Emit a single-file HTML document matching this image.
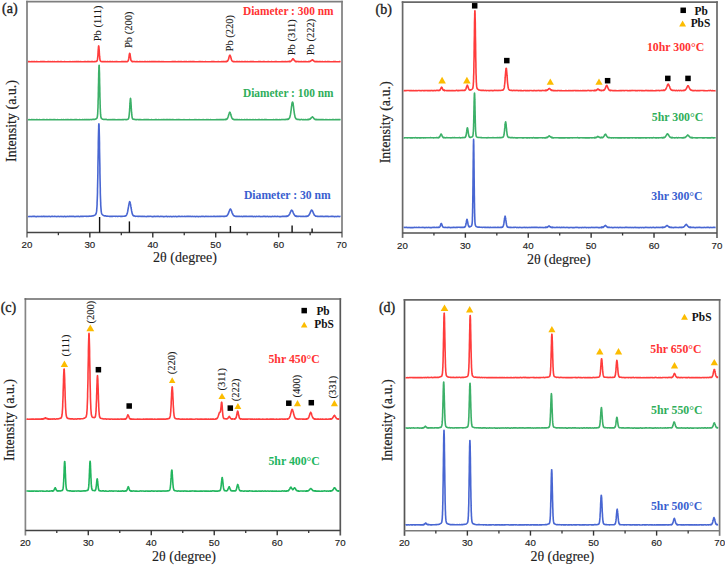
<!DOCTYPE html>
<html><head><meta charset="utf-8"><style>
html,body{margin:0;padding:0;background:#fff;}
body{width:725px;height:565px;overflow:hidden;}
svg{display:block;}
</style></head><body>
<svg width="725" height="565" viewBox="0 0 725 565">
<rect width="725" height="565" fill="#fff"/>
<line x1="27" y1="0.7500000000000001" x2="27" y2="237.6" stroke="#7e7e7e" stroke-width="1.7"/>
<line x1="342" y1="0.7500000000000001" x2="342" y2="237.6" stroke="#7e7e7e" stroke-width="1.7"/>
<line x1="26.15" y1="1.6" x2="342.85" y2="1.6" stroke="#7e7e7e" stroke-width="1.7"/>
<line x1="27" y1="232.6" x2="342" y2="232.6" stroke="#444" stroke-width="1.5"/>
<line x1="58.37" y1="232.6" x2="58.37" y2="235.2" stroke="#333" stroke-width="1.3"/>
<line x1="121.31" y1="232.6" x2="121.31" y2="235.2" stroke="#333" stroke-width="1.3"/>
<line x1="184.25" y1="232.6" x2="184.25" y2="235.2" stroke="#333" stroke-width="1.3"/>
<line x1="247.19" y1="232.6" x2="247.19" y2="235.2" stroke="#333" stroke-width="1.3"/>
<line x1="310.13" y1="232.6" x2="310.13" y2="235.2" stroke="#333" stroke-width="1.3"/>
<line x1="89.84" y1="232.6" x2="89.84" y2="237.4" stroke="#333" stroke-width="1.4"/>
<line x1="152.78" y1="232.6" x2="152.78" y2="237.4" stroke="#333" stroke-width="1.4"/>
<line x1="215.72" y1="232.6" x2="215.72" y2="237.4" stroke="#333" stroke-width="1.4"/>
<line x1="278.66" y1="232.6" x2="278.66" y2="237.4" stroke="#333" stroke-width="1.4"/>
<text x="26.90" y="248.2" font-family="Liberation Sans" font-size="9.7" fill="#222" stroke="#222" stroke-width="0.15" text-anchor="middle">20</text>
<text x="89.84" y="248.2" font-family="Liberation Sans" font-size="9.7" fill="#222" stroke="#222" stroke-width="0.15" text-anchor="middle">30</text>
<text x="152.78" y="248.2" font-family="Liberation Sans" font-size="9.7" fill="#222" stroke="#222" stroke-width="0.15" text-anchor="middle">40</text>
<text x="215.72" y="248.2" font-family="Liberation Sans" font-size="9.7" fill="#222" stroke="#222" stroke-width="0.15" text-anchor="middle">50</text>
<text x="278.66" y="248.2" font-family="Liberation Sans" font-size="9.7" fill="#222" stroke="#222" stroke-width="0.15" text-anchor="middle">60</text>
<text x="341.60" y="248.2" font-family="Liberation Sans" font-size="9.7" fill="#222" stroke="#222" stroke-width="0.15" text-anchor="middle">70</text>
<polyline fill="none" stroke="#ff3c3c" stroke-width="1.6" stroke-linejoin="round" points="28.0,61.6 28.6,61.6 29.2,61.7 29.8,61.6 30.4,61.7 31.0,61.7 31.6,61.6 32.2,61.7 32.8,61.6 33.4,61.7 34.0,61.6 34.6,61.6 35.2,61.7 35.8,61.8 36.4,61.6 37.0,61.6 37.6,61.7 38.2,61.8 38.8,61.7 39.4,61.7 40.0,61.8 40.6,61.6 41.2,61.8 41.8,61.6 42.4,61.6 43.0,61.6 43.6,61.6 44.2,61.8 44.8,61.6 45.4,61.7 46.0,61.7 46.6,61.7 47.2,61.7 47.8,61.6 48.4,61.6 49.0,61.6 49.6,61.8 50.2,61.7 50.8,61.6 51.4,61.7 52.0,61.7 52.6,61.6 53.2,61.8 53.8,61.8 54.4,61.6 55.0,61.7 55.6,61.7 56.2,61.8 56.8,61.8 57.4,61.6 58.0,61.8 58.6,61.6 59.2,61.7 59.8,61.8 60.4,61.6 61.0,61.7 61.6,61.6 62.2,61.7 62.8,61.8 63.4,61.7 64.0,61.8 64.6,61.6 65.2,61.8 65.8,61.7 66.4,61.7 67.0,61.7 67.6,61.8 68.2,61.8 68.8,61.7 69.4,61.7 70.0,61.6 70.6,61.8 71.2,61.7 71.8,61.8 72.4,61.8 73.0,61.6 73.6,61.7 74.2,61.7 74.8,61.6 75.4,61.7 76.0,61.6 76.6,61.6 77.2,61.6 77.8,61.8 78.4,61.6 79.0,61.6 79.6,61.7 80.2,61.8 80.8,61.6 81.4,61.7 82.0,61.7 82.6,61.8 83.2,61.8 83.8,61.8 84.4,61.6 85.0,61.7 85.6,61.6 86.2,61.8 86.8,61.8 87.4,61.6 88.0,61.6 88.6,61.6 89.2,61.6 89.8,61.7 90.4,61.7 91.0,61.6 91.6,61.5 92.2,61.6 92.8,61.6 93.4,61.7 94.0,61.7 94.6,61.6 95.2,61.6 95.8,61.5 96.4,61.4 96.5,61.2 96.5,61.4 96.6,61.4 96.6,61.4 96.7,61.3 96.7,61.2 96.8,61.1 96.8,61.0 96.9,61.1 97.0,60.9 97.0,60.8 97.0,60.8 97.1,60.7 97.1,60.6 97.2,60.4 97.2,60.2 97.3,60.1 97.4,59.8 97.4,59.6 97.5,59.2 97.5,59.1 97.6,58.6 97.6,58.3 97.6,58.0 97.7,57.6 97.8,57.0 97.8,56.4 97.9,55.9 97.9,55.1 98.0,54.3 98.0,53.4 98.1,52.5 98.1,51.6 98.2,50.8 98.2,50.0 98.3,49.3 98.4,48.4 98.4,47.6 98.5,47.3 98.5,46.7 98.6,46.2 98.6,46.1 98.7,45.9 98.8,46.1 98.8,46.4 98.8,46.4 98.9,46.7 98.9,47.1 99.0,47.7 99.0,48.4 99.1,49.3 99.2,50.1 99.2,50.9 99.3,51.7 99.3,52.6 99.4,53.5 99.4,54.0 99.4,54.4 99.5,55.1 99.5,55.8 99.6,56.5 99.7,57.0 99.7,57.6 99.8,58.1 99.8,58.5 99.9,58.9 99.9,59.3 100.0,59.6 100.0,59.8 100.0,60.1 100.1,60.2 100.2,60.5 100.2,60.7 100.3,60.8 100.3,60.8 100.4,60.8 100.4,60.9 100.5,61.0 100.5,61.0 100.6,61.2 100.7,61.3 100.7,61.3 100.8,61.3 100.8,61.3 100.9,61.4 100.9,61.2 101.2,61.5 101.8,61.6 102.4,61.6 103.0,61.7 103.6,61.6 104.2,61.5 104.8,61.7 105.4,61.6 106.0,61.8 106.6,61.8 107.2,61.6 107.8,61.6 108.4,61.8 109.0,61.7 109.6,61.6 110.2,61.6 110.8,61.6 111.4,61.8 112.0,61.8 112.6,61.6 113.2,61.8 113.8,61.8 114.4,61.7 115.0,61.6 115.6,61.7 116.2,61.6 116.8,61.5 117.4,61.8 118.0,61.7 118.6,61.7 119.2,61.8 119.8,61.7 120.4,61.8 121.0,61.8 121.6,61.6 122.2,61.6 122.8,61.6 123.4,61.6 124.0,61.7 124.6,61.6 125.2,61.6 125.8,61.5 126.4,61.7 127.0,61.5 127.1,61.5 127.2,61.5 127.3,61.6 127.3,61.4 127.4,61.6 127.5,61.4 127.5,61.4 127.6,61.4 127.6,61.2 127.7,61.3 127.7,61.2 127.8,61.1 127.8,61.3 127.9,61.1 128.0,61.1 128.0,61.1 128.1,60.9 128.2,60.7 128.2,60.7 128.2,60.6 128.3,60.5 128.4,60.1 128.4,60.1 128.5,59.7 128.6,59.4 128.6,59.3 128.7,58.9 128.7,58.5 128.8,58.2 128.9,57.8 128.9,57.3 129.0,56.8 129.1,56.4 129.1,55.9 129.2,55.5 129.2,55.0 129.3,54.6 129.4,54.2 129.4,54.3 129.4,54.0 129.5,53.8 129.6,53.6 129.6,53.3 129.7,53.3 129.8,53.5 129.8,53.6 129.9,53.5 130.0,53.8 130.0,54.1 130.0,54.1 130.1,54.5 130.2,54.9 130.2,55.5 130.3,56.0 130.3,56.5 130.4,56.7 130.5,57.4 130.5,57.7 130.6,58.0 130.7,58.6 130.7,59.0 130.8,59.1 130.8,59.6 130.9,59.8 131.0,60.0 131.0,60.4 131.1,60.6 131.2,60.5 131.2,60.7 131.2,60.8 131.3,60.8 131.4,60.9 131.4,61.0 131.5,61.2 131.6,61.1 131.6,61.3 131.7,61.3 131.8,61.2 131.8,61.3 131.8,61.4 131.9,61.4 131.9,61.3 132.0,61.6 132.1,61.6 132.1,61.6 132.2,61.4 132.3,61.4 132.4,61.4 133.0,61.7 133.6,61.5 134.2,61.5 134.8,61.6 135.4,61.8 136.0,61.8 136.6,61.6 137.2,61.6 137.8,61.8 138.4,61.7 139.0,61.7 139.6,61.6 140.2,61.6 140.8,61.7 141.4,61.7 142.0,61.6 142.6,61.8 143.2,61.7 143.8,61.8 144.4,61.6 145.0,61.8 145.6,61.6 146.2,61.8 146.8,61.7 147.4,61.6 148.0,61.7 148.6,61.8 149.2,61.6 149.8,61.6 150.4,61.7 151.0,61.6 151.6,61.6 152.2,61.6 152.8,61.6 153.4,61.6 154.0,61.6 154.6,61.6 155.2,61.8 155.8,61.6 156.4,61.7 157.0,61.6 157.6,61.7 158.2,61.6 158.8,61.6 159.4,61.6 160.0,61.8 160.6,61.7 161.2,61.6 161.8,61.7 162.4,61.8 163.0,61.6 163.6,61.8 164.2,61.7 164.8,61.7 165.4,61.8 166.0,61.7 166.6,61.7 167.2,61.8 167.8,61.8 168.4,61.7 169.0,61.8 169.6,61.8 170.2,61.7 170.8,61.7 171.4,61.7 172.0,61.6 172.6,61.6 173.2,61.6 173.8,61.8 174.4,61.6 175.0,61.6 175.6,61.6 176.2,61.8 176.8,61.8 177.4,61.7 178.0,61.6 178.6,61.6 179.2,61.6 179.8,61.7 180.4,61.6 181.0,61.7 181.6,61.6 182.2,61.8 182.8,61.8 183.4,61.7 184.0,61.6 184.6,61.8 185.2,61.6 185.8,61.7 186.4,61.5 187.0,61.7 187.6,61.7 188.2,61.7 188.8,61.6 189.4,61.7 190.0,61.5 190.6,61.6 191.2,61.6 191.8,61.7 192.4,61.6 193.0,61.6 193.6,61.6 194.2,61.6 194.8,61.7 195.4,61.7 196.0,61.8 196.6,61.7 197.2,61.8 197.8,61.8 198.4,61.7 199.0,61.6 199.6,61.8 200.2,61.6 200.8,61.8 201.4,61.7 202.0,61.6 202.6,61.8 203.2,61.8 203.8,61.7 204.4,61.8 205.0,61.8 205.6,61.6 206.2,61.7 206.8,61.7 207.4,61.8 208.0,61.8 208.6,61.8 209.2,61.7 209.8,61.8 210.4,61.7 211.0,61.8 211.6,61.6 212.2,61.6 212.8,61.6 213.4,61.6 214.0,61.6 214.6,61.8 215.2,61.7 215.8,61.7 216.4,61.7 217.0,61.7 217.6,61.7 218.2,61.5 218.8,61.8 219.4,61.8 220.0,61.7 220.6,61.7 221.2,61.7 221.8,61.5 222.4,61.7 223.0,61.6 223.6,61.5 224.2,61.6 224.8,61.7 225.4,61.5 226.0,61.6 226.1,61.7 226.2,61.5 226.2,61.5 226.3,61.5 226.4,61.6 226.5,61.6 226.6,61.5 226.6,61.5 226.7,61.3 226.8,61.3 226.9,61.3 227.0,61.4 227.1,61.3 227.2,61.3 227.2,61.1 227.3,61.1 227.4,61.1 227.5,61.1 227.6,61.0 227.7,60.9 227.8,60.7 227.8,60.7 227.9,60.6 228.0,60.4 228.1,60.1 228.2,60.1 228.3,59.7 228.4,59.7 228.4,59.5 228.5,59.1 228.6,58.9 228.7,58.7 228.8,58.4 228.8,57.9 228.9,57.5 229.0,57.3 229.0,57.3 229.1,56.8 229.2,56.6 229.3,56.1 229.4,55.9 229.5,55.8 229.6,55.4 229.6,55.6 229.7,55.3 229.8,55.4 229.9,55.3 230.0,55.2 230.1,55.4 230.2,55.5 230.2,55.4 230.3,55.5 230.4,55.9 230.5,56.2 230.6,56.5 230.7,56.8 230.8,57.2 230.8,57.3 230.9,57.7 231.0,57.8 231.1,58.3 231.2,58.7 231.2,58.8 231.3,59.4 231.4,59.5 231.4,59.6 231.5,59.7 231.6,60.0 231.7,60.2 231.8,60.6 231.9,60.6 232.0,60.7 232.0,60.7 232.1,60.8 232.2,60.8 232.3,61.0 232.4,61.3 232.5,61.2 232.6,61.4 232.6,61.2 232.7,61.3 232.8,61.4 232.9,61.3 233.0,61.4 233.1,61.6 233.2,61.6 233.2,61.6 233.3,61.5 233.4,61.6 233.4,61.7 233.6,61.5 233.6,61.6 233.7,61.4 233.8,61.6 234.4,61.6 235.0,61.7 235.6,61.7 236.2,61.6 236.8,61.5 237.4,61.8 238.0,61.6 238.6,61.7 239.2,61.6 239.8,61.6 240.4,61.7 241.0,61.8 241.6,61.6 242.2,61.7 242.8,61.6 243.4,61.7 244.0,61.7 244.6,61.6 245.2,61.6 245.8,61.6 246.4,61.8 247.0,61.7 247.6,61.6 248.2,61.8 248.8,61.8 249.4,61.7 250.0,61.6 250.6,61.6 251.2,61.6 251.8,61.6 252.4,61.6 253.0,61.6 253.6,61.6 254.2,61.7 254.8,61.8 255.4,61.8 256.0,61.7 256.6,61.7 257.2,61.7 257.8,61.7 258.4,61.6 259.0,61.6 259.6,61.6 260.2,61.8 260.8,61.6 261.4,61.7 262.0,61.7 262.6,61.8 263.2,61.6 263.8,61.6 264.4,61.6 265.0,61.7 265.6,61.7 266.2,61.8 266.8,61.8 267.4,61.8 268.0,61.6 268.6,61.6 269.2,61.8 269.8,61.8 270.4,61.7 271.0,61.7 271.6,61.5 272.2,61.7 272.8,61.8 273.4,61.8 274.0,61.8 274.6,61.8 275.2,61.6 275.8,61.6 276.4,61.6 277.0,61.7 277.6,61.7 278.2,61.8 278.8,61.8 279.4,61.7 280.0,61.8 280.6,61.7 281.2,61.7 281.8,61.6 282.4,61.8 283.0,61.6 283.6,61.8 284.2,61.7 284.8,61.6 285.4,61.6 286.0,61.6 286.6,61.7 287.2,61.7 287.8,61.5 288.4,61.5 288.8,61.6 288.9,61.7 289.0,61.6 289.1,61.5 289.1,61.7 289.3,61.5 289.4,61.5 289.5,61.6 289.6,61.7 289.6,61.6 289.7,61.7 289.8,61.6 289.9,61.5 290.0,61.5 290.1,61.7 290.2,61.6 290.2,61.4 290.3,61.3 290.4,61.4 290.5,61.4 290.6,61.3 290.7,61.2 290.8,61.3 290.8,61.3 290.9,61.1 291.0,60.9 291.1,60.9 291.2,60.8 291.3,60.8 291.4,60.6 291.4,60.7 291.5,60.6 291.6,60.4 291.8,60.1 291.9,60.2 292.0,59.9 292.0,60.0 292.1,59.7 292.2,59.5 292.3,59.6 292.4,59.3 292.5,59.3 292.6,59.1 292.6,59.0 292.7,58.9 292.8,58.9 292.9,59.0 293.0,59.0 293.1,58.8 293.2,58.9 293.2,58.9 293.3,59.2 293.4,59.0 293.5,59.1 293.6,59.2 293.7,59.4 293.8,59.7 293.8,59.7 293.9,59.8 294.0,60.1 294.1,60.2 294.2,60.2 294.4,60.3 294.4,60.6 294.5,60.6 294.6,60.5 294.7,60.8 294.8,60.8 294.9,60.9 295.0,61.0 295.0,61.0 295.1,61.0 295.2,61.1 295.3,61.2 295.4,61.5 295.5,61.3 295.6,61.6 295.7,61.4 295.8,61.4 295.9,61.6 296.0,61.6 296.1,61.5 296.2,61.4 296.2,61.6 296.3,61.5 296.4,61.7 296.5,61.5 296.6,61.6 296.7,61.7 296.8,61.5 296.9,61.6 296.9,61.7 297.1,61.7 297.2,61.5 297.4,61.5 298.0,61.5 298.6,61.8 299.2,61.6 299.8,61.7 300.4,61.8 301.0,61.6 301.6,61.6 302.2,61.8 302.8,61.7 303.4,61.6 304.0,61.7 304.6,61.6 305.2,61.6 305.8,61.5 306.4,61.7 307.0,61.8 307.6,61.7 308.1,61.8 308.2,61.5 308.2,61.6 308.4,61.6 308.4,61.8 308.6,61.8 308.7,61.6 308.8,61.6 308.8,61.6 308.9,61.6 309.0,61.7 309.1,61.5 309.2,61.7 309.3,61.7 309.4,61.7 309.4,61.7 309.5,61.6 309.6,61.5 309.7,61.5 309.8,61.5 309.9,61.5 310.0,61.3 310.0,61.3 310.1,61.5 310.2,61.3 310.3,61.2 310.4,61.1 310.5,61.2 310.6,61.1 310.6,61.2 310.7,61.1 310.8,61.1 310.9,60.8 311.1,60.6 311.2,60.5 311.2,60.6 311.3,60.6 311.4,60.4 311.5,60.3 311.6,60.2 311.7,60.2 311.8,60.2 311.8,60.2 311.9,60.1 312.0,60.0 312.1,59.8 312.2,60.0 312.3,59.8 312.4,59.9 312.5,59.9 312.6,60.0 312.7,59.9 312.8,60.0 312.9,60.1 313.0,60.1 313.0,60.4 313.1,60.4 313.2,60.4 313.3,60.5 313.4,60.8 313.6,60.8 313.6,60.7 313.6,60.9 313.8,61.0 313.9,61.2 314.0,61.0 314.1,61.2 314.2,61.3 314.2,61.3 314.3,61.4 314.4,61.2 314.5,61.3 314.6,61.3 314.7,61.4 314.8,61.6 314.9,61.5 315.0,61.7 315.1,61.5 315.2,61.7 315.3,61.6 315.4,61.5 315.4,61.7 315.5,61.7 315.6,61.5 315.7,61.7 315.8,61.7 315.9,61.6 316.0,61.6 316.0,61.5 316.1,61.6 316.2,61.6 316.4,61.7 316.5,61.7 316.6,61.6 317.2,61.5 317.8,61.6 318.4,61.7 319.0,61.6 319.6,61.6 320.2,61.6 320.8,61.8 321.4,61.7 322.0,61.6 322.6,61.6 323.2,61.7 323.8,61.7 324.4,61.7 325.0,61.6 325.6,61.6 326.2,61.8 326.8,61.7 327.4,61.6 328.0,61.6 328.6,61.8 329.2,61.6 329.8,61.7 330.4,61.7 331.0,61.7 331.6,61.8 332.2,61.8 332.8,61.7 333.4,61.6 334.0,61.8 334.6,61.6 335.2,61.5 335.8,61.8 336.4,61.7 337.0,61.8 337.6,61.7 338.2,61.8 338.8,61.7 339.4,61.6 340.0,61.6 340.6,61.7"/>
<polyline fill="none" stroke="#3cb068" stroke-width="1.6" stroke-linejoin="round" points="28.0,119.7 28.6,119.8 29.2,119.6 29.8,119.7 30.4,119.7 31.0,119.7 31.6,119.6 32.2,119.6 32.8,119.7 33.4,119.8 34.0,119.6 34.6,119.7 35.2,119.8 35.8,119.8 36.4,119.6 37.0,119.6 37.6,119.8 38.2,119.8 38.8,119.7 39.4,119.6 40.0,119.8 40.6,119.7 41.2,119.8 41.8,119.7 42.4,119.8 43.0,119.6 43.6,119.8 44.2,119.6 44.8,119.7 45.4,119.8 46.0,119.8 46.6,119.6 47.2,119.6 47.8,119.7 48.4,119.7 49.0,119.7 49.6,119.6 50.2,119.6 50.8,119.8 51.4,119.8 52.0,119.6 52.6,119.7 53.2,119.8 53.8,119.6 54.4,119.8 55.0,119.6 55.6,119.7 56.2,119.7 56.8,119.7 57.4,119.6 58.0,119.7 58.6,119.7 59.2,119.7 59.8,119.7 60.4,119.7 61.0,119.7 61.6,119.6 62.2,119.7 62.8,119.7 63.4,119.6 64.0,119.8 64.6,119.8 65.2,119.7 65.8,119.6 66.4,119.7 67.0,119.6 67.6,119.6 68.2,119.7 68.8,119.6 69.4,119.7 70.0,119.7 70.6,119.6 71.2,119.7 71.8,119.6 72.4,119.8 73.0,119.8 73.6,119.7 74.2,119.6 74.8,119.7 75.4,119.6 76.0,119.8 76.6,119.6 77.2,119.8 77.8,119.8 78.4,119.7 79.0,119.8 79.6,119.6 80.2,119.8 80.8,119.7 81.4,119.8 82.0,119.8 82.6,119.6 83.2,119.8 83.8,119.8 84.4,119.5 85.0,119.6 85.6,119.7 86.2,119.5 86.8,119.8 87.4,119.6 88.0,119.7 88.6,119.5 89.2,119.6 89.8,119.7 90.4,119.5 91.0,119.5 91.6,119.6 92.2,119.5 92.8,119.4 93.4,119.4 94.0,119.3 94.6,119.5 95.2,119.3 95.8,119.1 96.4,118.6 96.7,118.5 96.8,118.3 96.8,118.3 96.9,118.2 96.9,118.1 97.0,118.1 97.1,117.9 97.1,117.7 97.2,117.6 97.2,117.1 97.3,117.1 97.4,116.6 97.4,116.1 97.5,115.8 97.5,115.0 97.6,114.6 97.7,113.6 97.7,112.6 97.8,111.7 97.8,110.4 97.9,108.9 98.0,107.4 98.0,105.4 98.1,103.7 98.1,101.4 98.2,99.1 98.3,96.7 98.3,93.9 98.4,91.1 98.4,88.1 98.5,85.1 98.6,82.1 98.6,79.2 98.7,76.5 98.7,73.8 98.8,71.5 98.9,69.5 98.9,67.5 99.0,66.3 99.0,65.6 99.1,65.2 99.2,65.4 99.2,66.3 99.3,67.5 99.3,69.3 99.4,71.4 99.5,73.9 99.5,76.5 99.6,79.2 99.6,82.3 99.7,85.2 99.8,88.1 99.8,91.2 99.9,93.8 99.9,96.5 100.0,99.0 100.1,101.5 100.1,103.7 100.2,105.7 100.2,107.3 100.3,108.9 100.4,110.2 100.4,111.7 100.5,112.7 100.5,113.6 100.6,114.5 100.7,115.1 100.7,115.8 100.8,116.2 100.8,116.5 100.9,117.1 101.0,117.1 101.0,117.5 101.1,117.6 101.1,117.8 101.2,117.8 101.3,118.2 101.3,118.1 101.4,118.3 101.4,118.5 101.5,118.3 101.8,118.6 102.4,119.1 103.0,119.2 103.6,119.4 104.2,119.5 104.8,119.4 105.4,119.4 106.0,119.5 106.6,119.4 107.2,119.7 107.8,119.7 108.4,119.7 109.0,119.5 109.6,119.7 110.2,119.7 110.8,119.6 111.4,119.7 112.0,119.6 112.6,119.6 113.2,119.5 113.8,119.6 114.4,119.5 115.0,119.6 115.6,119.7 116.2,119.7 116.8,119.8 117.4,119.7 118.0,119.6 118.6,119.7 119.2,119.6 119.8,119.7 120.4,119.7 121.0,119.6 121.6,119.7 122.2,119.8 122.8,119.5 123.4,119.7 124.0,119.5 124.6,119.5 125.2,119.5 125.8,119.6 126.4,119.6 127.0,119.5 127.6,119.2 127.8,119.3 127.8,119.1 127.9,119.1 128.0,119.2 128.1,119.1 128.1,119.1 128.2,119.0 128.2,119.1 128.3,118.9 128.3,118.9 128.4,118.8 128.5,118.7 128.5,118.5 128.6,118.4 128.7,118.2 128.7,117.9 128.8,117.6 128.9,117.4 128.9,116.8 129.0,116.7 129.1,116.0 129.1,115.4 129.2,114.7 129.3,114.3 129.3,113.4 129.4,112.6 129.4,112.5 129.5,111.5 129.6,110.7 129.6,109.6 129.7,108.7 129.8,107.5 129.8,106.1 129.9,105.1 130.0,103.9 130.0,103.3 130.0,103.0 130.1,102.0 130.2,100.8 130.2,100.2 130.3,99.5 130.4,99.1 130.4,98.5 130.5,98.4 130.6,98.5 130.6,98.6 130.6,99.0 130.7,99.5 130.8,100.1 130.8,101.0 130.9,101.9 131.0,102.9 131.0,103.8 131.1,104.9 131.2,106.3 131.2,106.5 131.2,107.4 131.3,108.6 131.4,109.4 131.4,110.6 131.5,111.6 131.6,112.7 131.7,113.4 131.7,114.1 131.8,115.0 131.8,115.0 131.9,115.6 131.9,116.1 132.0,116.4 132.1,116.9 132.1,117.3 132.2,117.7 132.3,117.9 132.3,118.2 132.4,118.3 132.5,118.4 132.5,118.7 132.6,118.6 132.7,118.9 132.7,118.8 132.8,118.8 132.9,118.9 132.9,119.2 133.0,119.2 133.0,119.0 133.1,119.1 133.2,119.2 133.2,119.3 133.6,119.2 134.2,119.4 134.8,119.4 135.4,119.6 136.0,119.5 136.6,119.7 137.2,119.5 137.8,119.5 138.4,119.7 139.0,119.6 139.6,119.5 140.2,119.7 140.8,119.5 141.4,119.7 142.0,119.7 142.6,119.8 143.2,119.7 143.8,119.6 144.4,119.6 145.0,119.6 145.6,119.8 146.2,119.6 146.8,119.8 147.4,119.5 148.0,119.6 148.6,119.6 149.2,119.8 149.8,119.7 150.4,119.7 151.0,119.8 151.6,119.6 152.2,119.7 152.8,119.7 153.4,119.8 154.0,119.8 154.6,119.7 155.2,119.6 155.8,119.6 156.4,119.6 157.0,119.8 157.6,119.7 158.2,119.8 158.8,119.6 159.4,119.7 160.0,119.8 160.6,119.7 161.2,119.6 161.8,119.7 162.4,119.8 163.0,119.6 163.6,119.6 164.2,119.6 164.8,119.8 165.4,119.8 166.0,119.6 166.6,119.6 167.2,119.6 167.8,119.6 168.4,119.7 169.0,119.6 169.6,119.6 170.2,119.6 170.8,119.8 171.4,119.8 172.0,119.6 172.6,119.8 173.2,119.6 173.8,119.7 174.4,119.8 175.0,119.8 175.6,119.8 176.2,119.7 176.8,119.6 177.4,119.7 178.0,119.6 178.6,119.6 179.2,119.7 179.8,119.6 180.4,119.7 181.0,119.8 181.6,119.8 182.2,119.7 182.8,119.7 183.4,119.7 184.0,119.6 184.6,119.7 185.2,119.7 185.8,119.8 186.4,119.8 187.0,119.7 187.6,119.7 188.2,119.8 188.8,119.7 189.4,119.6 190.0,119.8 190.6,119.8 191.2,119.8 191.8,119.8 192.4,119.8 193.0,119.7 193.6,119.7 194.2,119.7 194.8,119.6 195.4,119.7 196.0,119.6 196.6,119.7 197.2,119.8 197.8,119.8 198.4,119.7 199.0,119.6 199.6,119.7 200.2,119.7 200.8,119.7 201.4,119.7 202.0,119.7 202.6,119.8 203.2,119.6 203.8,119.7 204.4,119.8 205.0,119.7 205.6,119.7 206.2,119.8 206.8,119.6 207.4,119.7 208.0,119.6 208.6,119.8 209.2,119.8 209.8,119.7 210.4,119.6 211.0,119.7 211.6,119.7 212.2,119.8 212.8,119.7 213.4,119.7 214.0,119.8 214.6,119.7 215.2,119.7 215.8,119.8 216.4,119.6 217.0,119.7 217.6,119.6 218.2,119.7 218.8,119.6 219.4,119.8 220.0,119.6 220.6,119.5 221.2,119.6 221.8,119.6 222.4,119.5 223.0,119.6 223.6,119.6 224.2,119.6 224.8,119.5 225.3,119.5 225.4,119.4 225.4,119.6 225.5,119.6 225.7,119.5 225.8,119.4 225.9,119.6 226.0,119.4 226.0,119.4 226.1,119.3 226.2,119.5 226.3,119.5 226.4,119.4 226.6,119.3 226.6,119.3 226.7,119.1 226.8,119.3 226.9,119.0 227.0,119.0 227.1,119.0 227.2,118.9 227.2,118.7 227.3,118.5 227.4,118.4 227.6,118.1 227.7,118.1 227.8,117.7 227.8,117.8 227.9,117.4 228.0,117.2 228.1,116.8 228.2,116.5 228.3,116.1 228.4,115.8 228.5,115.9 228.6,115.3 228.7,114.9 228.8,114.6 228.9,114.2 229.0,113.9 229.0,113.9 229.1,113.5 229.2,113.1 229.3,113.0 229.5,112.7 229.6,112.3 229.6,112.5 229.7,112.5 229.8,112.4 229.9,112.2 230.0,112.5 230.1,112.7 230.2,112.6 230.2,112.7 230.4,113.3 230.5,113.5 230.6,113.7 230.7,114.1 230.8,114.5 230.8,114.5 230.9,115.1 231.0,115.4 231.1,115.7 231.3,116.3 231.4,116.6 231.4,116.5 231.5,117.0 231.6,117.2 231.7,117.6 231.8,117.8 231.9,118.1 232.0,118.2 232.0,118.3 232.2,118.3 232.3,118.6 232.4,118.8 232.5,118.9 232.6,119.0 232.7,119.2 232.8,119.2 232.9,119.1 233.1,119.2 233.2,119.2 233.2,119.3 233.3,119.2 233.4,119.4 233.5,119.3 233.6,119.4 233.7,119.5 233.8,119.5 233.8,119.6 233.9,119.3 234.1,119.6 234.2,119.5 234.3,119.5 234.4,119.6 235.0,119.7 235.6,119.6 236.2,119.6 236.8,119.8 237.4,119.5 238.0,119.7 238.6,119.7 239.2,119.5 239.8,119.7 240.4,119.7 241.0,119.8 241.6,119.6 242.2,119.8 242.8,119.7 243.4,119.7 244.0,119.8 244.6,119.5 245.2,119.7 245.8,119.7 246.4,119.6 247.0,119.8 247.6,119.6 248.2,119.7 248.8,119.7 249.4,119.8 250.0,119.6 250.6,119.7 251.2,119.7 251.8,119.7 252.4,119.8 253.0,119.6 253.6,119.8 254.2,119.7 254.8,119.7 255.4,119.6 256.0,119.7 256.6,119.8 257.2,119.7 257.8,119.8 258.4,119.6 259.0,119.6 259.6,119.6 260.2,119.7 260.8,119.7 261.4,119.8 262.0,119.5 262.6,119.8 263.2,119.8 263.8,119.7 264.4,119.5 265.0,119.6 265.6,119.5 266.2,119.6 266.8,119.8 267.4,119.7 268.0,119.7 268.6,119.8 269.2,119.8 269.8,119.7 270.4,119.7 271.0,119.7 271.6,119.7 272.2,119.7 272.8,119.7 273.4,119.6 274.0,119.7 274.6,119.7 275.2,119.7 275.8,119.5 276.4,119.6 277.0,119.5 277.6,119.7 278.2,119.8 278.8,119.7 279.4,119.6 280.0,119.7 280.6,119.7 281.2,119.6 281.8,119.5 282.4,119.5 283.0,119.6 283.6,119.5 284.2,119.5 284.8,119.6 285.4,119.6 286.0,119.3 286.6,119.4 287.2,119.2 287.7,119.2 287.8,119.4 287.8,119.3 287.9,119.4 288.1,119.2 288.2,119.0 288.3,119.1 288.4,119.1 288.4,119.2 288.5,119.2 288.7,119.0 288.8,118.9 288.9,118.7 289.0,118.7 289.0,118.6 289.1,118.4 289.3,118.2 289.4,118.1 289.5,118.0 289.6,117.7 289.6,117.9 289.7,117.3 289.9,117.2 290.0,116.5 290.1,116.1 290.2,115.8 290.2,115.6 290.3,115.2 290.5,114.4 290.6,113.6 290.7,113.1 290.8,112.4 290.8,112.3 290.9,111.4 291.1,110.3 291.2,109.5 291.3,108.5 291.4,107.7 291.4,107.6 291.5,106.5 291.7,105.8 291.8,104.8 291.9,103.9 292.0,103.3 292.0,103.4 292.1,102.9 292.3,102.2 292.4,102.0 292.5,102.1 292.6,102.0 292.6,102.2 292.7,102.3 292.9,102.6 293.0,103.3 293.1,104.0 293.2,104.6 293.2,104.8 293.3,105.5 293.5,106.7 293.6,107.5 293.7,108.5 293.8,109.3 293.8,109.4 293.9,110.3 294.1,111.4 294.2,112.3 294.3,113.1 294.4,113.6 294.4,113.7 294.5,114.3 294.7,115.2 294.8,115.7 294.9,116.3 295.0,116.5 295.0,116.7 295.1,117.2 295.3,117.5 295.4,117.7 295.5,117.9 295.6,118.1 295.6,118.3 295.7,118.4 295.9,118.6 296.0,118.7 296.1,118.9 296.2,119.0 296.2,118.8 296.3,118.8 296.5,119.0 296.6,119.1 296.7,119.2 296.8,119.3 296.8,119.3 296.9,119.1 297.1,119.3 297.2,119.4 297.3,119.4 297.4,119.3 298.0,119.3 298.6,119.5 299.2,119.6 299.8,119.6 300.4,119.7 301.0,119.5 301.6,119.4 302.2,119.6 302.8,119.7 303.4,119.5 304.0,119.7 304.6,119.7 305.2,119.5 305.8,119.6 306.4,119.7 307.0,119.6 307.5,119.5 307.6,119.5 307.6,119.7 307.7,119.7 307.9,119.6 308.0,119.5 308.1,119.7 308.2,119.6 308.2,119.5 308.3,119.6 308.5,119.7 308.6,119.7 308.7,119.5 308.8,119.5 308.8,119.5 308.9,119.4 309.1,119.4 309.2,119.3 309.3,119.5 309.4,119.3 309.4,119.4 309.5,119.3 309.7,119.3 309.8,119.1 309.9,119.0 310.0,119.2 310.0,119.0 310.1,118.8 310.3,118.9 310.4,118.8 310.5,118.5 310.6,118.6 310.6,118.5 310.7,118.4 310.9,118.1 311.0,118.0 311.1,118.1 311.2,117.9 311.2,117.8 311.3,117.7 311.5,117.5 311.6,117.5 311.7,117.3 311.8,117.3 311.8,117.3 311.9,117.2 312.1,117.2 312.2,116.9 312.3,116.8 312.4,116.9 312.4,116.9 312.5,116.9 312.7,117.0 312.8,117.2 312.9,117.4 313.0,117.4 313.0,117.5 313.1,117.7 313.3,117.5 313.4,117.8 313.5,117.9 313.6,118.0 313.6,118.3 313.7,118.2 313.9,118.4 314.0,118.6 314.1,118.8 314.2,118.8 314.2,118.7 314.3,118.9 314.5,118.9 314.6,119.2 314.7,119.3 314.8,119.1 314.8,119.1 314.9,119.2 315.1,119.3 315.2,119.5 315.3,119.5 315.4,119.5 315.4,119.3 315.5,119.6 315.7,119.6 315.8,119.6 315.9,119.7 316.0,119.4 316.0,119.5 316.1,119.6 316.3,119.7 316.4,119.6 316.5,119.5 316.6,119.6 316.6,119.7 316.7,119.5 316.9,119.6 317.0,119.5 317.1,119.5 317.2,119.6 317.8,119.5 318.4,119.6 319.0,119.5 319.6,119.7 320.2,119.5 320.8,119.7 321.4,119.6 322.0,119.5 322.6,119.8 323.2,119.6 323.8,119.8 324.4,119.8 325.0,119.8 325.6,119.6 326.2,119.7 326.8,119.6 327.4,119.8 328.0,119.8 328.6,119.7 329.2,119.7 329.8,119.6 330.4,119.8 331.0,119.7 331.6,119.7 332.2,119.6 332.8,119.6 333.4,119.6 334.0,119.8 334.6,119.7 335.2,119.6 335.8,119.8 336.4,119.6 337.0,119.7 337.6,119.6 338.2,119.6 338.8,119.8 339.4,119.6 340.0,119.6 340.6,119.7"/>
<polyline fill="none" stroke="#4866d2" stroke-width="1.6" stroke-linejoin="round" points="28.0,216.4 28.6,216.6 29.2,216.4 29.8,216.6 30.4,216.4 31.0,216.6 31.6,216.5 32.2,216.4 32.8,216.5 33.4,216.4 34.0,216.4 34.6,216.4 35.2,216.5 35.8,216.6 36.4,216.6 37.0,216.6 37.6,216.4 38.2,216.4 38.8,216.6 39.4,216.4 40.0,216.6 40.6,216.4 41.2,216.6 41.8,216.3 42.4,216.6 43.0,216.4 43.6,216.4 44.2,216.3 44.8,216.6 45.4,216.5 46.0,216.4 46.6,216.5 47.2,216.6 47.8,216.4 48.4,216.5 49.0,216.4 49.6,216.4 50.2,216.6 50.8,216.6 51.4,216.4 52.0,216.4 52.6,216.4 53.2,216.5 53.8,216.5 54.4,216.4 55.0,216.4 55.6,216.5 56.2,216.5 56.8,216.6 57.4,216.5 58.0,216.4 58.6,216.4 59.2,216.6 59.8,216.5 60.4,216.5 61.0,216.3 61.6,216.6 62.2,216.4 62.8,216.6 63.4,216.6 64.0,216.5 64.6,216.3 65.2,216.6 65.8,216.5 66.4,216.6 67.0,216.4 67.6,216.4 68.2,216.6 68.8,216.4 69.4,216.4 70.0,216.4 70.6,216.5 71.2,216.3 71.8,216.5 72.4,216.4 73.0,216.5 73.6,216.3 74.2,216.5 74.8,216.6 75.4,216.6 76.0,216.4 76.6,216.5 77.2,216.4 77.8,216.5 78.4,216.3 79.0,216.5 79.6,216.6 80.2,216.4 80.8,216.4 81.4,216.4 82.0,216.4 82.6,216.3 83.2,216.5 83.8,216.3 84.4,216.3 85.0,216.3 85.6,216.3 86.2,216.4 86.8,216.2 87.4,216.2 88.0,216.4 88.6,216.2 89.2,216.1 89.8,216.2 90.4,216.2 91.0,216.1 91.6,216.1 92.2,215.9 92.8,216.0 93.4,215.8 94.0,215.4 94.6,215.2 95.2,214.9 95.7,214.4 95.8,214.2 95.8,214.1 95.9,214.1 95.9,213.8 96.0,213.8 96.1,213.7 96.2,213.2 96.3,213.1 96.3,212.8 96.4,212.3 96.4,212.4 96.5,211.9 96.6,211.2 96.7,210.5 96.7,209.8 96.8,208.7 96.9,207.5 97.0,206.3 97.0,205.9 97.1,204.5 97.1,202.6 97.2,200.5 97.3,198.2 97.4,195.6 97.5,192.5 97.5,189.2 97.6,186.4 97.6,185.5 97.7,181.2 97.8,177.1 97.9,172.6 97.9,167.9 98.0,162.7 98.1,157.7 98.2,152.7 98.2,151.4 98.3,147.7 98.3,142.8 98.4,138.4 98.5,134.3 98.6,130.6 98.7,127.7 98.7,125.7 98.8,124.6 98.8,124.4 98.9,123.8 99.0,124.3 99.1,125.7 99.1,127.9 99.2,130.6 99.3,134.3 99.4,138.3 99.4,139.5 99.5,142.8 99.5,147.7 99.6,152.8 99.7,157.8 99.8,162.7 99.9,167.7 99.9,172.5 100.0,176.1 100.0,177.0 100.1,181.3 100.2,185.4 100.3,189.0 100.3,192.5 100.4,195.6 100.5,198.2 100.6,200.5 100.6,201.1 100.7,202.7 100.7,204.4 100.8,206.0 100.9,207.4 101.0,208.6 101.1,209.6 101.1,210.4 101.2,210.9 101.2,211.1 101.3,211.8 101.4,212.4 101.5,212.7 101.5,213.0 101.6,213.4 101.7,213.5 101.8,213.8 101.8,213.8 101.9,214.0 101.9,214.1 102.0,214.2 102.1,214.3 102.4,214.6 103.0,215.1 103.6,215.5 104.2,215.7 104.8,215.9 105.4,215.8 106.0,216.0 106.6,216.2 107.2,216.1 107.8,216.2 108.4,216.2 109.0,216.2 109.6,216.4 110.2,216.2 110.8,216.4 111.4,216.2 112.0,216.2 112.6,216.5 113.2,216.3 113.8,216.2 114.4,216.3 115.0,216.3 115.6,216.4 116.2,216.3 116.8,216.3 117.4,216.5 118.0,216.4 118.6,216.3 119.2,216.3 119.8,216.3 120.4,216.4 121.0,216.4 121.6,216.4 122.2,216.4 122.8,216.3 123.4,216.3 124.0,216.3 124.6,216.2 124.6,216.1 124.7,216.2 124.8,216.1 125.0,216.2 125.1,215.9 125.2,216.1 125.2,215.9 125.3,216.0 125.5,215.9 125.6,215.9 125.7,215.9 125.8,215.8 125.9,215.7 126.0,215.7 126.1,215.6 126.2,215.4 126.4,215.2 126.4,215.2 126.5,215.0 126.6,214.9 126.8,214.5 126.9,214.2 127.0,214.0 127.0,213.9 127.1,213.5 127.3,213.2 127.4,212.7 127.5,212.1 127.6,211.7 127.7,211.4 127.8,210.8 127.9,210.1 128.0,209.4 128.2,208.7 128.2,208.3 128.3,208.0 128.4,207.0 128.6,206.4 128.7,205.6 128.8,204.9 128.9,203.9 129.1,203.3 129.2,202.9 129.3,202.2 129.4,201.9 129.4,202.0 129.6,201.7 129.7,201.8 129.8,201.8 130.0,202.0 130.0,202.2 130.1,202.3 130.2,202.8 130.3,203.4 130.5,204.0 130.6,204.7 130.7,205.5 130.8,206.2 131.0,207.2 131.1,208.0 131.2,208.5 131.2,208.6 131.4,209.4 131.5,210.1 131.6,210.9 131.8,211.5 131.8,211.9 131.9,212.3 132.0,212.6 132.1,213.1 132.3,213.6 132.4,214.1 132.4,213.9 132.5,214.3 132.6,214.7 132.8,214.7 132.9,215.0 133.0,215.3 133.0,215.3 133.2,215.4 133.3,215.4 133.4,215.8 133.5,215.8 133.6,215.9 133.7,216.0 133.8,216.0 133.9,215.9 134.1,215.9 134.2,216.0 134.2,216.0 134.3,216.0 134.4,216.0 134.6,216.0 134.7,216.2 134.8,216.2 134.8,216.1 135.4,216.4 136.0,216.3 136.6,216.2 137.2,216.3 137.8,216.4 138.4,216.3 139.0,216.4 139.6,216.2 140.2,216.3 140.8,216.5 141.4,216.4 142.0,216.5 142.6,216.3 143.2,216.4 143.8,216.5 144.4,216.4 145.0,216.5 145.6,216.5 146.2,216.6 146.8,216.5 147.4,216.4 148.0,216.3 148.6,216.4 149.2,216.5 149.8,216.3 150.4,216.3 151.0,216.4 151.6,216.5 152.2,216.6 152.8,216.5 153.4,216.6 154.0,216.3 154.6,216.3 155.2,216.6 155.8,216.4 156.4,216.5 157.0,216.4 157.6,216.4 158.2,216.4 158.8,216.4 159.4,216.6 160.0,216.5 160.6,216.4 161.2,216.5 161.8,216.4 162.4,216.4 163.0,216.6 163.6,216.5 164.2,216.6 164.8,216.5 165.4,216.5 166.0,216.4 166.6,216.3 167.2,216.6 167.8,216.6 168.4,216.4 169.0,216.6 169.6,216.6 170.2,216.4 170.8,216.5 171.4,216.6 172.0,216.5 172.6,216.6 173.2,216.4 173.8,216.5 174.4,216.6 175.0,216.4 175.6,216.4 176.2,216.6 176.8,216.5 177.4,216.6 178.0,216.4 178.6,216.4 179.2,216.4 179.8,216.4 180.4,216.6 181.0,216.4 181.6,216.5 182.2,216.4 182.8,216.5 183.4,216.5 184.0,216.5 184.6,216.4 185.2,216.4 185.8,216.6 186.4,216.4 187.0,216.4 187.6,216.4 188.2,216.4 188.8,216.4 189.4,216.4 190.0,216.5 190.6,216.4 191.2,216.4 191.8,216.6 192.4,216.4 193.0,216.4 193.6,216.6 194.2,216.4 194.8,216.5 195.4,216.6 196.0,216.6 196.6,216.4 197.2,216.4 197.8,216.6 198.4,216.5 199.0,216.6 199.6,216.4 200.2,216.6 200.8,216.5 201.4,216.4 202.0,216.5 202.6,216.4 203.2,216.5 203.8,216.4 204.4,216.6 205.0,216.5 205.6,216.4 206.2,216.4 206.8,216.5 207.4,216.4 208.0,216.6 208.6,216.4 209.2,216.5 209.8,216.5 210.4,216.4 211.0,216.6 211.6,216.4 212.2,216.5 212.8,216.5 213.4,216.4 214.0,216.4 214.6,216.3 215.2,216.4 215.8,216.6 216.4,216.4 217.0,216.5 217.6,216.3 218.2,216.5 218.8,216.4 219.4,216.4 220.0,216.4 220.6,216.3 221.2,216.4 221.8,216.3 222.4,216.3 223.0,216.5 223.6,216.3 224.2,216.3 224.6,216.5 224.8,216.4 224.8,216.4 224.9,216.4 225.1,216.2 225.2,216.2 225.4,216.1 225.4,216.3 225.5,216.3 225.7,216.2 225.8,216.2 225.9,216.2 226.0,216.2 226.1,216.0 226.2,216.2 226.4,216.0 226.5,216.0 226.6,215.8 226.7,215.8 226.8,215.9 226.9,215.8 227.1,215.6 227.2,215.3 227.2,215.3 227.4,215.1 227.5,215.0 227.7,214.8 227.8,214.6 227.8,214.5 227.9,214.3 228.1,214.1 228.2,213.6 228.4,213.5 228.4,213.4 228.5,213.1 228.7,212.6 228.8,212.2 229.0,211.9 229.0,211.7 229.1,211.3 229.2,211.2 229.4,210.8 229.5,210.3 229.6,210.1 229.7,210.1 229.8,209.8 230.0,209.4 230.1,209.3 230.2,209.1 230.3,209.3 230.4,209.1 230.5,209.4 230.7,209.4 230.8,209.3 230.8,209.6 231.0,209.7 231.1,210.1 231.3,210.4 231.4,210.6 231.4,210.6 231.6,211.2 231.7,211.5 231.8,212.0 232.0,212.3 232.0,212.4 232.1,212.8 232.3,213.1 232.4,213.4 232.6,213.6 232.6,213.9 232.7,214.0 232.8,214.3 233.0,214.7 233.1,214.7 233.2,215.0 233.3,214.9 233.4,215.3 233.6,215.5 233.7,215.5 233.8,215.6 233.9,215.8 234.0,215.8 234.1,215.9 234.3,215.9 234.4,215.9 234.4,216.0 234.6,216.1 234.7,216.0 234.9,216.1 235.0,216.1 235.0,216.3 235.2,216.3 235.3,216.2 235.4,216.2 235.6,216.3 235.6,216.3 235.7,216.4 235.9,216.3 236.0,216.3 236.2,216.4 236.2,216.2 236.8,216.4 237.4,216.3 238.0,216.5 238.6,216.4 239.2,216.5 239.8,216.3 240.4,216.5 241.0,216.5 241.6,216.4 242.2,216.5 242.8,216.6 243.4,216.3 244.0,216.4 244.6,216.4 245.2,216.4 245.8,216.3 246.4,216.4 247.0,216.4 247.6,216.5 248.2,216.5 248.8,216.4 249.4,216.4 250.0,216.5 250.6,216.4 251.2,216.4 251.8,216.4 252.4,216.3 253.0,216.6 253.6,216.6 254.2,216.4 254.8,216.5 255.4,216.6 256.0,216.5 256.6,216.4 257.2,216.5 257.8,216.5 258.4,216.4 259.0,216.5 259.6,216.3 260.2,216.6 260.8,216.5 261.4,216.5 262.0,216.6 262.6,216.5 263.2,216.4 263.8,216.4 264.4,216.4 265.0,216.3 265.6,216.6 266.2,216.6 266.8,216.4 267.4,216.4 268.0,216.5 268.6,216.6 269.2,216.6 269.8,216.4 270.4,216.6 271.0,216.6 271.6,216.6 272.2,216.4 272.8,216.4 273.4,216.6 274.0,216.4 274.6,216.4 275.2,216.5 275.8,216.4 276.4,216.6 277.0,216.4 277.6,216.3 278.2,216.5 278.8,216.5 279.4,216.6 280.0,216.5 280.6,216.6 281.2,216.6 281.8,216.4 282.4,216.4 283.0,216.3 283.6,216.4 284.2,216.4 284.8,216.3 285.4,216.4 285.9,216.2 286.0,216.3 286.1,216.5 286.2,216.2 286.4,216.2 286.5,216.3 286.6,216.2 286.7,216.4 286.8,216.1 286.9,216.4 287.1,216.3 287.2,216.3 287.2,216.2 287.4,216.1 287.5,216.2 287.7,216.1 287.8,216.0 287.8,216.0 288.0,215.9 288.1,215.9 288.2,215.9 288.4,215.8 288.4,215.6 288.5,215.5 288.7,215.4 288.8,215.3 289.0,215.0 289.0,214.9 289.1,214.7 289.2,214.6 289.4,214.4 289.5,214.2 289.6,214.1 289.7,213.9 289.8,213.6 290.0,213.3 290.1,212.9 290.2,212.7 290.3,212.4 290.4,212.2 290.6,211.8 290.7,211.4 290.8,211.3 290.8,211.3 291.0,210.9 291.1,210.7 291.3,210.4 291.4,210.3 291.4,210.4 291.6,210.1 291.7,210.1 291.8,210.3 292.0,210.3 292.0,210.2 292.1,210.5 292.3,210.6 292.4,210.9 292.6,211.1 292.6,211.3 292.7,211.5 292.9,211.8 293.0,212.0 293.1,212.4 293.2,212.8 293.3,212.8 293.4,213.1 293.6,213.6 293.7,213.7 293.8,213.9 293.9,214.1 294.0,214.3 294.1,214.6 294.3,214.9 294.4,214.9 294.4,215.1 294.6,215.1 294.7,215.4 294.9,215.6 295.0,215.5 295.0,215.6 295.2,215.7 295.3,215.9 295.4,216.1 295.6,216.0 295.6,216.1 295.7,216.1 295.9,216.0 296.0,216.3 296.2,216.3 296.2,216.1 296.3,216.3 296.4,216.2 296.6,216.2 296.7,216.4 296.8,216.3 296.9,216.4 297.0,216.2 297.2,216.4 297.3,216.2 297.4,216.2 297.5,216.3 298.0,216.2 298.6,216.4 299.2,216.3 299.8,216.3 300.4,216.5 301.0,216.4 301.6,216.5 302.2,216.4 302.8,216.5 303.4,216.4 304.0,216.5 304.6,216.5 305.2,216.3 305.8,216.4 305.9,216.3 306.1,216.4 306.2,216.4 306.4,216.4 306.4,216.2 306.5,216.3 306.7,216.3 306.8,216.4 306.9,216.3 307.0,216.1 307.1,216.2 307.2,216.1 307.4,216.2 307.5,216.2 307.6,216.0 307.7,216.2 307.8,216.1 308.0,215.9 308.1,215.8 308.2,215.8 308.2,215.9 308.4,215.7 308.5,215.4 308.7,215.3 308.8,215.1 308.8,215.3 309.0,215.0 309.1,214.9 309.2,214.6 309.4,214.4 309.5,214.1 309.7,213.7 309.8,213.6 310.0,213.2 310.0,213.2 310.1,212.9 310.3,212.6 310.4,212.0 310.6,211.8 310.6,211.6 310.7,211.5 310.8,211.3 311.0,211.0 311.1,210.5 311.2,210.4 311.3,210.5 311.4,210.4 311.6,210.2 311.7,210.2 311.8,210.1 311.8,210.3 312.0,210.3 312.1,210.6 312.3,210.7 312.4,210.7 312.4,210.8 312.6,211.1 312.7,211.6 312.9,211.8 313.0,212.0 313.1,212.4 313.3,212.8 313.4,213.2 313.6,213.5 313.6,213.5 313.7,213.8 313.9,214.0 314.0,214.4 314.1,214.6 314.2,214.6 314.3,214.8 314.4,215.2 314.6,215.1 314.7,215.3 314.8,215.5 314.9,215.5 315.0,215.6 315.2,215.8 315.3,215.8 315.4,216.0 315.4,216.0 315.6,216.2 315.7,216.2 315.9,216.0 316.0,216.2 316.0,216.3 316.2,216.3 316.3,216.3 316.4,216.3 316.6,216.3 316.7,216.3 316.9,216.2 317.0,216.4 317.2,216.4 317.2,216.5 317.3,216.4 317.5,216.3 317.8,216.4 318.4,216.5 319.0,216.4 319.6,216.5 320.2,216.4 320.8,216.4 321.4,216.4 322.0,216.3 322.6,216.4 323.2,216.4 323.8,216.6 324.4,216.5 325.0,216.4 325.6,216.4 326.2,216.4 326.8,216.4 327.4,216.4 328.0,216.3 328.6,216.6 329.2,216.5 329.8,216.5 330.4,216.5 331.0,216.4 331.6,216.4 332.2,216.4 332.8,216.4 333.4,216.4 334.0,216.6 334.6,216.5 335.2,216.6 335.8,216.4 336.4,216.6 337.0,216.5 337.6,216.4 338.2,216.4 338.8,216.5 339.4,216.6 340.0,216.4 340.6,216.6"/>
<line x1="99.6" y1="217" x2="99.6" y2="232.6" stroke="#111" stroke-width="1.4"/>
<line x1="129.4" y1="221.4" x2="129.4" y2="232.6" stroke="#111" stroke-width="1.4"/>
<line x1="230.4" y1="226" x2="230.4" y2="232.6" stroke="#111" stroke-width="1.4"/>
<line x1="292.1" y1="225.6" x2="292.1" y2="232.6" stroke="#111" stroke-width="1.4"/>
<line x1="312.1" y1="228.4" x2="312.1" y2="232.6" stroke="#111" stroke-width="1.4"/>
<text x="101.1" y="41.3" font-family="Liberation Serif" font-size="10.5" font-weight="normal" fill="#1a1a1a" text-anchor="start" stroke="#1a1a1a" stroke-width="0.1" transform="rotate(-90 101.1 41.3)">Pb (111)</text>
<text x="132.4" y="48" font-family="Liberation Serif" font-size="10.5" font-weight="normal" fill="#1a1a1a" text-anchor="start" stroke="#1a1a1a" stroke-width="0.1" transform="rotate(-90 132.4 48)">Pb (200)</text>
<text x="233.1" y="51.4" font-family="Liberation Serif" font-size="10.5" font-weight="normal" fill="#1a1a1a" text-anchor="start" stroke="#1a1a1a" stroke-width="0.1" transform="rotate(-90 233.1 51.4)">Pb (220)</text>
<text x="294.6" y="55.3" font-family="Liberation Serif" font-size="10.5" font-weight="normal" fill="#1a1a1a" text-anchor="start" stroke="#1a1a1a" stroke-width="0.1" transform="rotate(-90 294.6 55.3)">Pb (311)</text>
<text x="314.0" y="55.3" font-family="Liberation Serif" font-size="10.5" font-weight="normal" fill="#1a1a1a" text-anchor="start" stroke="#1a1a1a" stroke-width="0.1" transform="rotate(-90 314.0 55.3)">Pb (222)</text>
<text x="0" y="0" font-family="Liberation Serif" font-size="11.4" font-weight="bold" fill="#ff3333" text-anchor="end" transform="translate(333.5 14.6) scale(1.0 1.17)">Diameter : 300 nm</text>
<text x="0" y="0" font-family="Liberation Serif" font-size="11.4" font-weight="bold" fill="#2fae5a" text-anchor="end" transform="translate(333.5 96.5) scale(1.0 1.17)">Diameter : 100 nm</text>
<text x="0" y="0" font-family="Liberation Serif" font-size="11.4" font-weight="bold" fill="#3a5fd0" text-anchor="end" transform="translate(330.8 199.1) scale(1.025 1.17)">Diameter : 30 nm</text>
<text x="2.0" y="12.9" font-family="Liberation Serif" font-size="14" font-weight="normal" fill="#222" text-anchor="start" stroke="#222" stroke-width="0.35">(a)</text>
<text x="15.9" y="121.0" font-family="Liberation Serif" font-size="14" font-weight="normal" fill="#222" text-anchor="middle" stroke="#222" stroke-width="0.2" transform="rotate(-90 15.9 121.0)">Intensity (a.u.)</text>
<text x="185" y="262.3" font-family="Liberation Serif" font-size="14" font-weight="normal" fill="#222" text-anchor="middle" stroke="#222" stroke-width="0.12">2θ (degree)</text>
<line x1="402.6" y1="1.25" x2="402.6" y2="237.9" stroke="#686868" stroke-width="1.7"/>
<line x1="717" y1="1.25" x2="717" y2="237.9" stroke="#686868" stroke-width="1.7"/>
<line x1="401.75" y1="2.1" x2="717.85" y2="2.1" stroke="#686868" stroke-width="1.7"/>
<line x1="402.6" y1="232.9" x2="717" y2="232.9" stroke="#505050" stroke-width="1.5"/>
<line x1="433.94" y1="232.9" x2="433.94" y2="235.5" stroke="#333" stroke-width="1.3"/>
<line x1="496.82" y1="232.9" x2="496.82" y2="235.5" stroke="#333" stroke-width="1.3"/>
<line x1="559.70" y1="232.9" x2="559.70" y2="235.5" stroke="#333" stroke-width="1.3"/>
<line x1="622.58" y1="232.9" x2="622.58" y2="235.5" stroke="#333" stroke-width="1.3"/>
<line x1="685.46" y1="232.9" x2="685.46" y2="235.5" stroke="#333" stroke-width="1.3"/>
<line x1="465.38" y1="232.9" x2="465.38" y2="237.70000000000002" stroke="#333" stroke-width="1.4"/>
<line x1="528.26" y1="232.9" x2="528.26" y2="237.70000000000002" stroke="#333" stroke-width="1.4"/>
<line x1="591.14" y1="232.9" x2="591.14" y2="237.70000000000002" stroke="#333" stroke-width="1.4"/>
<line x1="654.02" y1="232.9" x2="654.02" y2="237.70000000000002" stroke="#333" stroke-width="1.4"/>
<text x="402.50" y="248.5" font-family="Liberation Sans" font-size="9.7" fill="#222" stroke="#222" stroke-width="0.15" text-anchor="middle">20</text>
<text x="465.38" y="248.5" font-family="Liberation Sans" font-size="9.7" fill="#222" stroke="#222" stroke-width="0.15" text-anchor="middle">30</text>
<text x="528.26" y="248.5" font-family="Liberation Sans" font-size="9.7" fill="#222" stroke="#222" stroke-width="0.15" text-anchor="middle">40</text>
<text x="591.14" y="248.5" font-family="Liberation Sans" font-size="9.7" fill="#222" stroke="#222" stroke-width="0.15" text-anchor="middle">50</text>
<text x="654.02" y="248.5" font-family="Liberation Sans" font-size="9.7" fill="#222" stroke="#222" stroke-width="0.15" text-anchor="middle">60</text>
<text x="716.90" y="248.5" font-family="Liberation Sans" font-size="9.7" fill="#222" stroke="#222" stroke-width="0.15" text-anchor="middle">70</text>
<polyline fill="none" stroke="#ff3c3c" stroke-width="1.6" stroke-linejoin="round" points="403.6,90.6 404.2,90.7 404.8,90.5 405.4,90.6 406.0,90.7 406.6,90.5 407.2,90.5 407.8,90.5 408.4,90.5 409.0,90.5 409.6,90.7 410.2,90.5 410.8,90.6 411.4,90.5 412.0,90.6 412.6,90.7 413.2,90.6 413.8,90.5 414.4,90.7 415.0,90.7 415.6,90.6 416.2,90.5 416.8,90.7 417.4,90.7 418.0,90.5 418.6,90.5 419.2,90.5 419.8,90.6 420.4,90.7 421.0,90.6 421.6,90.7 422.2,90.5 422.8,90.5 423.4,90.7 424.0,90.6 424.6,90.6 425.2,90.6 425.8,90.5 426.4,90.5 427.0,90.6 427.6,90.5 428.2,90.6 428.8,90.5 429.4,90.6 430.0,90.6 430.6,90.5 431.2,90.6 431.8,90.4 432.4,90.7 433.0,90.6 433.6,90.7 434.2,90.4 434.8,90.6 435.4,90.6 436.0,90.5 436.6,90.4 437.2,90.4 437.8,90.4 438.4,90.6 438.5,90.4 438.6,90.6 438.6,90.5 438.7,90.5 438.8,90.5 438.9,90.5 439.0,90.5 439.0,90.5 439.0,90.4 439.1,90.5 439.2,90.3 439.3,90.5 439.4,90.5 439.4,90.4 439.5,90.3 439.6,90.3 439.7,90.4 439.8,90.1 439.8,90.0 439.9,90.0 440.0,90.1 440.1,89.7 440.2,89.6 440.2,89.7 440.2,89.7 440.3,89.6 440.4,89.3 440.5,89.3 440.6,88.9 440.6,88.9 440.7,88.6 440.8,88.4 440.9,88.2 441.0,88.0 441.0,88.0 441.1,87.8 441.2,87.6 441.3,87.7 441.4,87.4 441.4,87.3 441.4,87.3 441.5,87.4 441.6,87.4 441.7,87.2 441.8,87.2 441.8,87.5 441.9,87.5 442.0,87.8 442.1,87.8 442.2,88.0 442.2,88.1 442.3,88.4 442.4,88.5 442.5,88.6 442.6,89.0 442.6,88.8 442.6,89.1 442.7,89.1 442.8,89.4 442.9,89.4 443.0,89.7 443.0,89.6 443.1,89.9 443.2,89.9 443.3,90.1 443.4,90.2 443.4,90.2 443.5,90.1 443.6,90.2 443.7,90.2 443.8,90.3 443.8,90.3 443.8,90.3 443.9,90.5 444.0,90.5 444.1,90.4 444.2,90.6 444.2,90.4 444.3,90.5 444.4,90.4 444.5,90.6 444.6,90.6 444.6,90.4 444.7,90.6 444.8,90.6 445.0,90.5 445.6,90.5 446.2,90.5 446.8,90.7 447.4,90.5 448.0,90.6 448.6,90.6 449.2,90.5 449.8,90.6 450.4,90.7 451.0,90.5 451.6,90.7 452.2,90.5 452.8,90.6 453.4,90.7 454.0,90.5 454.6,90.7 455.2,90.7 455.8,90.5 456.4,90.4 457.0,90.4 457.6,90.7 458.2,90.4 458.8,90.7 459.4,90.4 460.0,90.6 460.6,90.4 461.2,90.4 461.8,90.5 462.4,90.3 463.0,90.4 463.6,90.5 464.1,90.4 464.2,90.5 464.2,90.5 464.3,90.2 464.3,90.3 464.4,90.4 464.5,90.4 464.6,90.2 464.7,90.3 464.7,90.2 464.8,90.2 464.8,90.1 464.9,90.1 465.0,90.3 465.1,90.1 465.1,90.2 465.2,89.9 465.3,90.0 465.4,89.8 465.4,89.9 465.5,89.7 465.5,89.8 465.6,89.5 465.7,89.5 465.8,89.3 465.9,89.0 465.9,88.9 466.0,88.8 466.0,88.9 466.1,88.5 466.2,88.2 466.3,88.2 466.3,87.9 466.4,87.6 466.5,87.1 466.6,86.8 466.6,86.8 466.7,86.5 466.7,86.2 466.8,86.1 466.9,85.9 467.0,85.7 467.1,85.5 467.1,85.3 467.2,85.4 467.2,85.4 467.3,85.3 467.4,85.3 467.5,85.4 467.5,85.7 467.6,85.8 467.7,85.9 467.8,86.0 467.8,86.1 467.9,86.3 467.9,86.7 468.0,86.8 468.1,87.1 468.2,87.4 468.3,87.6 468.3,88.1 468.4,88.0 468.4,88.2 468.5,88.5 468.6,88.5 468.7,88.8 468.7,88.9 468.8,89.1 468.9,89.2 469.0,89.3 469.0,89.5 469.1,89.6 469.1,89.7 469.2,89.5 469.3,89.8 469.4,89.7 469.5,89.9 469.5,89.9 469.6,89.8 469.6,90.0 469.7,89.8 469.8,90.0 469.9,90.1 469.9,90.0 470.0,90.0 470.1,90.1 470.2,89.9 470.2,90.0 470.3,90.0 470.3,89.9 470.4,90.0 470.5,89.9 470.8,89.9 471.4,89.7 472.0,89.3 472.5,88.7 472.6,88.7 472.6,88.6 472.6,88.4 472.7,88.4 472.7,88.1 472.8,88.2 472.9,87.8 472.9,87.6 473.0,87.3 473.0,86.9 473.1,86.4 473.2,85.9 473.2,85.7 473.2,85.4 473.3,84.7 473.3,83.8 473.4,82.9 473.5,81.6 473.5,80.2 473.6,78.8 473.6,76.8 473.7,74.8 473.8,72.5 473.8,70.8 473.8,69.9 473.9,66.8 473.9,63.7 474.0,60.4 474.1,56.6 474.1,52.5 474.2,48.4 474.2,44.1 474.3,39.7 474.4,35.5 474.4,32.7 474.4,31.2 474.5,27.1 474.5,23.0 474.6,19.6 474.7,16.7 474.7,14.1 474.8,12.1 474.8,11.0 474.9,10.7 475.0,11.0 475.0,11.5 475.0,12.2 475.1,14.0 475.1,16.5 475.2,19.6 475.3,23.1 475.3,27.0 475.4,31.2 475.4,35.4 475.5,39.8 475.6,44.2 475.6,46.9 475.6,48.4 475.7,52.7 475.7,56.5 475.8,60.2 475.9,63.6 475.9,67.0 476.0,69.7 476.0,72.5 476.1,74.9 476.2,76.8 476.2,78.1 476.2,78.8 476.3,80.3 476.3,81.6 476.4,82.7 476.5,83.8 476.5,84.6 476.6,85.5 476.6,85.9 476.7,86.5 476.8,87.0 476.8,87.3 476.8,87.2 476.9,87.6 476.9,87.9 477.0,88.2 477.1,88.1 477.1,88.5 477.2,88.6 477.2,88.6 477.3,88.8 477.4,88.8 478.0,89.3 478.6,89.9 479.2,90.0 479.8,90.1 480.4,90.2 481.0,90.4 481.6,90.4 482.2,90.2 482.8,90.4 483.4,90.4 484.0,90.4 484.6,90.6 485.2,90.4 485.8,90.5 486.4,90.6 487.0,90.5 487.6,90.5 488.2,90.5 488.8,90.6 489.4,90.6 490.0,90.6 490.6,90.5 491.2,90.4 491.8,90.6 492.4,90.5 493.0,90.6 493.6,90.6 494.2,90.4 494.8,90.4 495.4,90.4 496.0,90.6 496.6,90.4 497.2,90.4 497.8,90.6 498.4,90.5 499.0,90.3 499.6,90.5 500.2,90.5 500.8,90.4 501.4,90.2 502.0,90.3 502.6,90.1 502.7,90.1 502.8,90.2 502.9,90.1 502.9,90.1 503.0,89.8 503.1,89.8 503.2,89.8 503.2,89.7 503.3,89.9 503.4,89.6 503.5,89.5 503.6,89.4 503.6,89.2 503.7,89.2 503.8,89.0 503.8,88.9 503.9,88.7 504.0,88.3 504.1,88.0 504.2,87.8 504.3,87.4 504.4,86.8 504.4,86.3 504.4,86.1 504.5,85.3 504.6,84.7 504.7,83.9 504.8,83.0 504.9,82.1 505.0,81.0 505.0,80.6 505.1,79.9 505.1,78.7 505.2,77.7 505.3,76.3 505.4,74.9 505.5,73.8 505.6,72.8 505.6,72.5 505.7,71.7 505.8,70.6 505.9,69.7 505.9,69.1 506.0,68.5 506.1,68.3 506.2,68.2 506.3,68.2 506.4,68.5 506.5,69.2 506.6,69.7 506.6,70.7 506.7,71.5 506.8,72.5 506.8,72.8 506.9,73.7 507.0,75.2 507.1,76.2 507.2,77.6 507.3,78.7 507.3,80.0 507.4,80.6 507.4,81.1 507.5,82.1 507.6,83.1 507.7,84.0 507.8,84.7 507.9,85.4 508.0,86.2 508.0,86.3 508.1,86.9 508.1,87.2 508.2,87.6 508.3,87.9 508.4,88.5 508.5,88.8 508.6,88.9 508.6,89.0 508.7,89.1 508.8,89.4 508.8,89.5 508.9,89.5 509.0,89.5 509.1,89.8 509.2,89.7 509.2,89.9 509.3,89.8 509.4,89.9 509.5,90.0 509.5,90.0 509.6,90.1 509.7,90.0 509.8,90.2 510.4,90.2 511.0,90.4 511.6,90.3 512.2,90.5 512.8,90.6 513.4,90.4 514.0,90.3 514.6,90.5 515.2,90.6 515.8,90.4 516.4,90.5 517.0,90.4 517.6,90.5 518.2,90.6 518.8,90.5 519.4,90.6 520.0,90.4 520.6,90.7 521.2,90.4 521.8,90.7 522.4,90.7 523.0,90.7 523.6,90.6 524.2,90.5 524.8,90.5 525.4,90.6 526.0,90.6 526.6,90.7 527.2,90.5 527.8,90.6 528.4,90.7 529.0,90.6 529.6,90.6 530.2,90.5 530.8,90.5 531.4,90.5 532.0,90.7 532.6,90.7 533.2,90.5 533.8,90.7 534.4,90.4 535.0,90.6 535.6,90.7 536.2,90.5 536.8,90.7 537.4,90.6 538.0,90.4 538.6,90.5 539.2,90.6 539.8,90.5 540.4,90.7 541.0,90.5 541.6,90.7 542.2,90.5 542.8,90.4 543.4,90.6 544.0,90.4 544.6,90.6 545.1,90.6 545.2,90.6 545.2,90.5 545.4,90.4 545.5,90.5 545.6,90.4 545.7,90.6 545.8,90.4 545.8,90.5 545.9,90.5 546.0,90.5 546.1,90.5 546.2,90.4 546.3,90.4 546.4,90.6 546.4,90.4 546.5,90.5 546.6,90.5 546.7,90.4 546.8,90.3 546.9,90.2 547.0,90.4 547.0,90.2 547.1,90.2 547.2,90.2 547.3,90.0 547.4,90.1 547.5,89.9 547.6,90.0 547.6,89.9 547.7,89.8 547.8,89.7 548.0,89.6 548.0,89.5 548.2,89.3 548.2,89.3 548.3,89.4 548.4,89.2 548.5,89.2 548.6,88.9 548.7,89.0 548.8,88.8 548.8,88.9 548.9,88.8 549.0,88.7 549.1,88.6 549.2,88.7 549.3,88.5 549.4,88.5 549.5,88.5 549.6,88.6 549.7,88.8 549.8,88.8 549.9,89.0 550.0,88.9 550.0,89.0 550.1,89.0 550.2,89.2 550.3,89.4 550.4,89.5 550.5,89.4 550.6,89.5 550.6,89.7 550.8,89.9 550.9,89.7 551.0,90.0 551.1,90.1 551.2,90.2 551.2,90.0 551.3,90.2 551.4,90.2 551.5,90.4 551.6,90.1 551.7,90.5 551.8,90.3 551.9,90.4 552.0,90.3 552.1,90.4 552.2,90.5 552.3,90.5 552.4,90.4 552.4,90.4 552.5,90.4 552.6,90.4 552.7,90.4 552.8,90.5 552.9,90.7 553.0,90.7 553.0,90.6 553.1,90.5 553.2,90.5 553.4,90.6 553.5,90.7 553.6,90.6 554.2,90.6 554.8,90.5 555.4,90.6 556.0,90.7 556.6,90.7 557.2,90.5 557.8,90.6 558.4,90.5 559.0,90.5 559.6,90.7 560.2,90.6 560.8,90.7 561.4,90.5 562.0,90.7 562.6,90.7 563.2,90.7 563.8,90.7 564.4,90.7 565.0,90.7 565.6,90.6 566.2,90.6 566.8,90.7 567.4,90.7 568.0,90.7 568.6,90.5 569.2,90.7 569.8,90.6 570.4,90.7 571.0,90.5 571.6,90.7 572.2,90.7 572.8,90.5 573.4,90.7 574.0,90.5 574.6,90.5 575.2,90.6 575.8,90.5 576.4,90.6 577.0,90.7 577.6,90.6 578.2,90.7 578.8,90.6 579.4,90.7 580.0,90.7 580.6,90.6 581.2,90.7 581.8,90.7 582.4,90.6 583.0,90.5 583.6,90.6 584.2,90.7 584.8,90.5 585.4,90.6 586.0,90.7 586.6,90.7 587.2,90.4 587.8,90.6 588.4,90.4 589.0,90.5 589.6,90.7 590.2,90.6 590.8,90.6 591.4,90.6 592.0,90.5 592.6,90.5 593.2,90.5 593.8,90.7 594.2,90.6 594.3,90.5 594.4,90.4 594.4,90.5 594.5,90.6 594.5,90.5 594.6,90.6 594.7,90.6 594.8,90.4 594.9,90.6 595.0,90.4 595.0,90.6 595.1,90.4 595.2,90.4 595.3,90.6 595.4,90.4 595.5,90.4 595.6,90.6 595.7,90.5 595.8,90.5 595.9,90.3 596.0,90.3 596.1,90.4 596.2,90.3 596.2,90.4 596.3,90.1 596.4,90.3 596.5,90.0 596.6,90.1 596.7,89.8 596.8,89.8 596.8,90.0 596.9,89.8 596.9,89.9 597.0,89.6 597.1,89.6 597.2,89.4 597.3,89.5 597.4,89.5 597.4,89.4 597.5,89.3 597.6,89.4 597.7,89.3 597.8,89.2 597.9,89.0 598.0,89.2 598.1,89.2 598.2,89.3 598.3,89.2 598.4,89.3 598.5,89.4 598.6,89.4 598.6,89.4 598.7,89.5 598.8,89.6 598.9,89.6 599.0,89.6 599.1,89.9 599.1,89.7 599.2,90.0 599.2,90.0 599.3,90.0 599.4,90.0 599.5,90.2 599.6,90.3 599.7,90.3 599.8,90.3 599.8,90.1 599.9,90.2 600.0,90.2 600.1,90.5 600.2,90.5 600.3,90.3 600.4,90.4 600.5,90.4 600.6,90.3 600.7,90.4 600.8,90.5 600.9,90.5 601.0,90.4 601.0,90.6 601.1,90.4 601.2,90.5 601.3,90.5 601.4,90.6 601.5,90.5 601.5,90.6 601.6,90.5 601.6,90.4 601.7,90.6 601.8,90.5 602.2,90.5 602.5,90.4 602.6,90.4 602.8,90.5 602.8,90.5 602.9,90.5 603.0,90.4 603.1,90.3 603.2,90.4 603.3,90.5 603.4,90.3 603.4,90.4 603.5,90.2 603.6,90.3 603.7,90.2 603.8,90.2 603.9,90.2 604.0,90.3 604.1,90.2 604.2,89.9 604.3,89.9 604.4,90.0 604.5,89.6 604.6,89.6 604.6,89.6 604.7,89.3 604.8,89.2 604.9,89.0 605.0,88.8 605.1,88.8 605.2,88.5 605.2,88.3 605.4,88.3 605.5,87.9 605.6,87.7 605.7,87.4 605.8,87.2 605.8,86.9 605.9,86.7 606.0,86.6 606.1,86.3 606.2,86.1 606.3,85.9 606.4,85.8 606.4,85.6 606.5,85.5 606.6,85.6 606.7,85.5 606.8,85.5 606.9,85.6 607.0,85.6 607.0,85.8 607.1,85.7 607.2,86.2 607.3,86.3 607.4,86.5 607.5,86.9 607.6,86.9 607.6,87.0 607.7,87.2 607.8,87.6 608.0,88.0 608.0,88.2 608.2,88.4 608.2,88.6 608.3,88.5 608.4,88.8 608.5,89.1 608.6,89.4 608.7,89.5 608.8,89.6 608.8,89.7 608.9,89.7 609.0,90.0 609.1,90.0 609.2,90.0 609.3,90.1 609.4,90.3 609.5,90.2 609.6,90.2 609.7,90.4 609.8,90.3 609.9,90.4 610.0,90.4 610.0,90.5 610.1,90.3 610.2,90.4 610.3,90.3 610.4,90.4 610.5,90.5 610.6,90.6 610.6,90.5 610.8,90.5 610.9,90.4 611.2,90.5 611.8,90.4 612.4,90.6 613.0,90.6 613.6,90.7 614.2,90.5 614.8,90.6 615.4,90.6 616.0,90.6 616.6,90.7 617.2,90.7 617.8,90.7 618.4,90.7 619.0,90.6 619.6,90.7 620.2,90.5 620.8,90.6 621.4,90.6 622.0,90.6 622.6,90.5 623.2,90.5 623.8,90.6 624.4,90.7 625.0,90.5 625.6,90.5 626.2,90.5 626.8,90.5 627.4,90.6 628.0,90.7 628.6,90.7 629.2,90.5 629.8,90.7 630.4,90.5 631.0,90.7 631.6,90.5 632.2,90.4 632.8,90.6 633.4,90.5 634.0,90.5 634.6,90.5 635.2,90.6 635.8,90.6 636.4,90.7 637.0,90.5 637.6,90.7 638.2,90.5 638.8,90.5 639.4,90.6 640.0,90.5 640.6,90.5 641.2,90.6 641.8,90.5 642.4,90.7 643.0,90.5 643.6,90.7 644.2,90.7 644.8,90.6 645.4,90.4 646.0,90.7 646.6,90.4 647.2,90.6 647.8,90.6 648.4,90.5 649.0,90.6 649.6,90.7 650.2,90.6 650.8,90.6 651.4,90.6 652.0,90.6 652.6,90.5 653.2,90.7 653.8,90.7 654.4,90.7 655.0,90.7 655.6,90.5 656.2,90.7 656.8,90.4 657.4,90.6 658.0,90.4 658.6,90.5 659.2,90.6 659.8,90.6 660.4,90.5 661.0,90.5 661.6,90.4 662.2,90.5 662.8,90.4 663.1,90.4 663.2,90.5 663.3,90.4 663.4,90.4 663.5,90.3 663.6,90.5 663.7,90.3 663.9,90.3 664.0,90.4 664.0,90.4 664.1,90.5 664.2,90.4 664.4,90.4 664.5,90.4 664.6,90.3 664.6,90.2 664.7,90.0 664.9,90.0 665.0,89.8 665.1,90.0 665.2,89.9 665.3,89.8 665.4,89.6 665.5,89.5 665.6,89.2 665.8,89.2 665.8,89.2 665.9,88.9 666.0,88.6 666.1,88.4 666.3,88.1 666.4,88.0 666.4,88.0 666.5,87.5 666.7,87.1 666.8,86.8 666.9,86.4 667.0,86.4 667.0,86.2 667.2,86.0 667.3,85.6 667.4,85.3 667.6,84.9 667.6,84.9 667.7,84.6 667.8,84.3 667.9,84.3 668.1,84.2 668.2,84.1 668.3,84.1 668.5,84.2 668.6,84.6 668.7,84.7 668.8,85.0 668.8,85.1 669.0,85.2 669.1,85.6 669.2,85.8 669.4,86.3 669.4,86.4 669.5,86.4 669.6,86.7 669.7,87.1 669.9,87.6 670.0,87.8 670.0,87.7 670.1,88.3 670.2,88.5 670.4,88.7 670.5,88.8 670.6,89.2 670.6,89.1 670.8,89.2 670.9,89.4 671.0,89.7 671.1,89.9 671.2,89.8 671.3,89.9 671.4,89.9 671.5,90.0 671.7,90.2 671.8,90.1 671.8,90.1 671.9,90.2 672.0,90.2 672.2,90.2 672.3,90.3 672.4,90.4 672.4,90.4 672.5,90.4 672.7,90.4 672.8,90.3 672.9,90.5 673.0,90.3 673.1,90.4 673.2,90.4 673.3,90.5 673.6,90.5 674.2,90.4 674.8,90.5 675.4,90.6 676.0,90.5 676.6,90.4 677.2,90.7 677.8,90.6 678.4,90.4 679.0,90.5 679.6,90.7 680.2,90.4 680.8,90.5 681.4,90.6 682.0,90.6 682.6,90.5 683.2,90.5 683.3,90.3 683.4,90.3 683.6,90.6 683.7,90.5 683.8,90.3 683.9,90.3 684.0,90.3 684.2,90.5 684.3,90.3 684.4,90.4 684.5,90.4 684.6,90.3 684.8,90.4 684.9,90.1 685.0,90.0 685.1,89.9 685.2,90.1 685.4,89.8 685.5,89.9 685.6,89.7 685.7,89.4 685.8,89.5 686.0,89.1 686.1,89.0 686.2,88.7 686.3,88.7 686.4,88.5 686.6,88.2 686.7,87.7 686.8,87.7 686.9,87.4 687.0,87.2 687.2,86.9 687.3,86.7 687.4,86.4 687.5,86.3 687.6,86.0 687.8,85.8 687.9,85.9 688.0,85.8 688.1,85.9 688.2,85.8 688.4,86.2 688.5,86.1 688.6,86.5 688.7,86.7 688.8,86.8 689.0,87.0 689.1,87.4 689.2,87.5 689.3,87.8 689.4,88.0 689.6,88.5 689.7,88.6 689.8,88.8 689.9,88.9 690.0,89.3 690.2,89.5 690.3,89.6 690.4,89.5 690.5,89.7 690.6,89.8 690.8,90.1 690.9,90.0 691.0,90.2 691.1,90.3 691.2,90.3 691.4,90.1 691.5,90.2 691.6,90.2 691.7,90.4 691.8,90.4 692.0,90.4 692.1,90.4 692.2,90.4 692.3,90.5 692.4,90.5 692.6,90.6 692.7,90.5 692.8,90.6 693.4,90.6 694.0,90.6 694.6,90.6 695.2,90.4 695.8,90.6 696.4,90.7 697.0,90.5 697.6,90.7 698.2,90.5 698.8,90.7 699.4,90.6 700.0,90.6 700.6,90.5 701.2,90.5 701.8,90.5 702.4,90.5 703.0,90.5 703.6,90.6 704.2,90.7 704.8,90.6 705.4,90.7 706.0,90.7 706.6,90.7 707.2,90.7 707.8,90.7 708.4,90.5 709.0,90.5 709.6,90.6 710.2,90.4 710.8,90.5 711.4,90.7 712.0,90.7 712.6,90.5 713.2,90.7 713.8,90.7 714.4,90.7 715.0,90.7 715.6,90.6"/>
<polyline fill="none" stroke="#3cb068" stroke-width="1.6" stroke-linejoin="round" points="403.6,137.7 404.2,137.9 404.8,137.7 405.4,137.8 406.0,137.8 406.6,137.8 407.2,137.9 407.8,137.7 408.4,137.8 409.0,137.8 409.6,137.8 410.2,137.9 410.8,137.8 411.4,137.9 412.0,137.9 412.6,137.9 413.2,137.7 413.8,137.7 414.4,137.7 415.0,137.9 415.6,137.6 416.2,137.7 416.8,137.9 417.4,137.9 418.0,137.7 418.6,137.8 419.2,137.9 419.8,137.9 420.4,137.9 421.0,137.9 421.6,137.7 422.2,137.7 422.8,137.7 423.4,137.9 424.0,137.7 424.6,137.7 425.2,137.9 425.8,137.8 426.4,137.8 427.0,137.8 427.6,137.8 428.2,137.8 428.8,137.7 429.4,137.7 430.0,137.7 430.6,137.6 431.2,137.7 431.8,137.7 432.4,137.7 433.0,137.8 433.6,137.9 434.2,137.8 434.8,137.7 435.4,137.8 436.0,137.7 436.6,137.6 437.2,137.7 437.8,137.7 437.9,137.8 438.0,137.7 438.1,137.8 438.1,137.6 438.2,137.8 438.3,137.6 438.4,137.8 438.4,137.5 438.5,137.8 438.5,137.6 438.6,137.7 438.7,137.7 438.8,137.6 438.9,137.5 438.9,137.4 439.0,137.4 439.0,137.6 439.1,137.3 439.2,137.4 439.3,137.4 439.3,137.3 439.4,137.1 439.5,137.0 439.6,136.9 439.6,137.1 439.7,136.8 439.7,136.8 439.8,136.6 439.9,136.3 440.0,136.1 440.1,135.9 440.1,136.0 440.2,135.6 440.2,135.8 440.3,135.5 440.4,135.4 440.5,135.0 440.5,135.0 440.6,134.7 440.7,134.6 440.8,134.5 440.8,134.3 440.9,134.3 440.9,134.4 441.0,134.1 441.1,134.2 441.2,134.3 441.3,134.2 441.3,134.3 441.4,134.3 441.4,134.4 441.5,134.6 441.6,134.8 441.7,134.9 441.7,135.2 441.8,135.2 441.9,135.6 442.0,135.8 442.0,135.7 442.1,135.8 442.1,136.1 442.2,136.1 442.3,136.4 442.4,136.6 442.5,136.6 442.5,136.7 442.6,136.9 442.6,136.9 442.7,137.0 442.8,137.2 442.9,137.1 442.9,137.2 443.0,137.3 443.1,137.4 443.2,137.6 443.2,137.5 443.3,137.4 443.3,137.5 443.4,137.7 443.5,137.6 443.6,137.7 443.7,137.8 443.7,137.8 443.8,137.5 443.8,137.8 443.9,137.7 444.0,137.6 444.1,137.6 444.1,137.8 444.2,137.6 444.3,137.6 444.4,137.6 445.0,137.9 445.6,137.7 446.2,137.8 446.8,137.6 447.4,137.8 448.0,137.7 448.6,137.7 449.2,137.8 449.8,137.7 450.4,137.7 451.0,137.9 451.6,137.8 452.2,137.7 452.8,137.6 453.4,137.8 454.0,137.8 454.6,137.6 455.2,137.8 455.8,137.8 456.4,137.8 457.0,137.7 457.6,137.8 458.2,137.8 458.8,137.8 459.4,137.6 460.0,137.8 460.6,137.9 461.2,137.8 461.8,137.8 462.4,137.6 463.0,137.8 463.6,137.5 464.2,137.5 464.5,137.6 464.6,137.6 464.7,137.4 464.7,137.4 464.8,137.3 464.8,137.4 464.9,137.3 464.9,137.3 465.0,137.5 465.1,137.4 465.2,137.4 465.2,137.2 465.3,137.2 465.4,137.0 465.4,137.2 465.5,136.9 465.5,136.9 465.6,136.8 465.7,136.8 465.7,136.5 465.8,136.4 465.9,136.1 466.0,135.7 466.0,135.7 466.0,135.4 466.1,135.4 466.2,134.8 466.2,134.3 466.3,134.2 466.4,133.5 466.5,133.1 466.5,132.5 466.6,132.2 466.6,131.9 466.7,131.5 466.8,130.9 466.8,130.6 466.9,129.8 467.0,129.5 467.0,128.9 467.1,128.6 467.2,128.4 467.2,128.3 467.3,128.0 467.3,127.9 467.4,127.8 467.5,128.1 467.5,128.0 467.6,128.2 467.7,128.6 467.8,129.0 467.8,129.4 467.8,129.3 467.9,129.8 468.0,130.3 468.1,131.0 468.1,131.5 468.2,132.0 468.3,132.6 468.3,133.1 468.4,133.6 468.4,133.7 468.5,133.9 468.6,134.5 468.6,134.7 468.7,135.0 468.8,135.6 468.8,135.6 468.9,135.8 469.0,136.1 469.0,136.2 469.1,136.5 469.1,136.7 469.2,136.7 469.3,136.8 469.3,137.0 469.4,137.1 469.5,137.1 469.6,137.1 469.6,137.0 469.6,137.1 469.7,137.2 469.8,137.2 469.9,137.3 469.9,137.4 470.0,137.4 470.1,137.2 470.1,137.2 470.2,137.4 470.2,137.3 470.3,137.2 470.8,137.4 471.4,137.1 472.0,136.9 472.4,136.7 472.5,136.6 472.5,136.6 472.6,136.4 472.6,136.5 472.6,136.4 472.7,136.3 472.7,136.3 472.8,136.2 472.8,135.7 472.9,135.7 472.9,135.5 473.0,135.3 473.0,134.9 473.1,134.3 473.1,134.1 473.2,133.5 473.2,132.7 473.3,132.0 473.4,131.2 473.4,129.9 473.5,128.9 473.5,127.8 473.6,126.4 473.6,124.3 473.7,122.7 473.7,120.8 473.8,118.9 473.8,117.6 473.8,116.6 473.9,114.0 473.9,111.7 474.0,109.4 474.0,106.9 474.1,104.7 474.1,102.1 474.2,100.0 474.2,98.0 474.3,96.5 474.3,95.2 474.4,93.9 474.4,93.2 474.5,93.1 474.6,93.2 474.6,93.8 474.7,95.1 474.7,96.3 474.8,98.2 474.8,99.9 474.9,102.1 474.9,104.9 475.0,107.2 475.0,108.6 475.0,109.5 475.1,111.8 475.1,114.1 475.2,116.9 475.2,118.7 475.3,120.9 475.3,122.6 475.4,124.3 475.4,126.4 475.5,127.7 475.5,129.0 475.6,130.2 475.6,130.3 475.6,131.0 475.7,131.9 475.8,132.8 475.8,133.5 475.9,133.9 475.9,134.3 476.0,134.8 476.0,135.1 476.1,135.6 476.1,135.6 476.2,135.8 476.2,136.0 476.2,136.2 476.3,136.4 476.3,136.2 476.4,136.3 476.4,136.7 476.5,136.8 476.5,136.6 476.6,136.7 476.8,136.9 477.4,137.2 478.0,137.4 478.6,137.5 479.2,137.5 479.8,137.5 480.4,137.5 481.0,137.6 481.6,137.6 482.2,137.7 482.8,137.8 483.4,137.7 484.0,137.8 484.6,137.8 485.2,137.7 485.8,137.7 486.4,137.7 487.0,137.9 487.6,137.8 488.2,137.6 488.8,137.7 489.4,137.8 490.0,137.7 490.6,137.8 491.2,137.7 491.8,137.8 492.4,137.8 493.0,137.6 493.6,137.8 494.2,137.7 494.8,137.8 495.4,137.8 496.0,137.8 496.6,137.7 497.2,137.6 497.8,137.8 498.4,137.7 499.0,137.6 499.6,137.6 500.2,137.7 500.8,137.5 501.4,137.6 502.0,137.4 502.4,137.4 502.5,137.4 502.6,137.4 502.6,137.4 502.6,137.2 502.7,137.4 502.8,137.2 502.9,137.2 503.0,137.2 503.0,137.2 503.1,137.1 503.2,137.1 503.3,136.8 503.4,136.7 503.4,136.7 503.5,136.4 503.6,136.2 503.7,135.9 503.8,135.8 503.8,135.7 503.8,135.5 503.9,135.2 504.0,134.8 504.1,134.2 504.2,133.6 504.2,133.2 504.3,132.4 504.4,131.8 504.5,130.9 504.6,130.2 504.6,129.5 504.7,128.5 504.8,127.9 504.9,127.0 505.0,126.1 505.0,125.6 505.0,125.1 505.1,124.5 505.2,123.8 505.3,123.1 505.4,122.7 505.4,122.3 505.5,122.2 505.6,121.9 505.7,121.9 505.8,122.3 505.8,122.7 505.9,123.1 506.0,123.8 506.1,124.4 506.2,125.2 506.2,125.6 506.2,126.1 506.3,127.0 506.4,127.7 506.5,128.6 506.6,129.6 506.6,130.4 506.7,131.1 506.8,131.7 506.9,132.5 507.0,133.2 507.0,133.6 507.1,134.1 507.2,134.8 507.3,135.2 507.4,135.3 507.4,135.6 507.4,135.8 507.5,136.0 507.6,136.1 507.7,136.5 507.8,136.7 507.8,136.8 507.9,136.8 508.0,137.0 508.1,137.0 508.2,137.3 508.2,137.1 508.3,137.2 508.4,137.4 508.5,137.2 508.6,137.2 508.6,137.2 508.6,137.3 508.7,137.4 508.8,137.5 509.2,137.4 509.8,137.5 510.4,137.7 511.0,137.6 511.6,137.6 512.2,137.6 512.8,137.6 513.4,137.9 514.0,137.6 514.6,137.7 515.2,137.8 515.8,137.9 516.4,137.9 517.0,137.8 517.6,137.9 518.2,137.8 518.8,137.7 519.4,137.8 520.0,137.8 520.6,137.8 521.2,137.7 521.8,137.7 522.4,137.9 523.0,137.7 523.6,137.9 524.2,137.7 524.8,137.7 525.4,137.7 526.0,137.8 526.6,137.9 527.2,137.7 527.8,137.9 528.4,137.7 529.0,137.7 529.6,137.9 530.2,137.7 530.8,137.7 531.4,137.8 532.0,137.9 532.6,137.9 533.2,137.8 533.8,137.6 534.4,137.9 535.0,137.8 535.6,137.9 536.2,137.9 536.8,137.7 537.4,137.9 538.0,137.9 538.6,137.7 539.2,137.7 539.8,137.7 540.4,137.7 541.0,137.7 541.6,137.7 542.2,137.7 542.8,137.9 543.4,137.7 544.0,137.8 544.6,137.9 545.1,137.8 545.2,137.7 545.2,137.9 545.4,137.8 545.5,137.9 545.6,137.8 545.7,137.8 545.8,137.8 545.8,137.7 545.9,137.8 546.0,137.7 546.1,137.8 546.2,137.6 546.3,137.7 546.4,137.6 546.4,137.8 546.5,137.6 546.6,137.7 546.7,137.7 546.8,137.7 546.9,137.5 547.0,137.7 547.0,137.6 547.1,137.5 547.2,137.5 547.3,137.3 547.4,137.4 547.5,137.3 547.6,137.2 547.6,137.1 547.7,137.2 547.8,137.1 548.0,137.1 548.0,136.8 548.2,136.7 548.2,136.6 548.3,136.5 548.4,136.5 548.5,136.3 548.6,136.5 548.7,136.2 548.8,136.1 548.8,136.1 548.9,136.2 549.0,136.0 549.1,136.0 549.2,136.0 549.3,136.1 549.4,136.1 549.5,136.0 549.6,136.1 549.7,136.3 549.8,136.2 549.9,136.4 550.0,136.4 550.0,136.3 550.1,136.6 550.2,136.6 550.3,136.5 550.4,136.8 550.5,136.9 550.6,136.9 550.6,136.9 550.8,137.0 550.9,137.2 551.0,137.2 551.1,137.2 551.2,137.3 551.2,137.3 551.3,137.5 551.4,137.5 551.5,137.4 551.6,137.7 551.7,137.4 551.8,137.6 551.9,137.6 552.0,137.7 552.1,137.6 552.2,137.6 552.3,137.7 552.4,137.8 552.4,137.8 552.5,137.7 552.6,137.6 552.7,137.8 552.8,137.8 552.9,137.7 553.0,137.9 553.0,137.9 553.1,137.7 553.2,137.7 553.4,137.8 553.5,137.9 553.6,137.7 554.2,137.7 554.8,137.7 555.4,137.8 556.0,137.7 556.6,137.8 557.2,137.8 557.8,137.8 558.4,137.7 559.0,137.9 559.6,137.9 560.2,137.8 560.8,137.9 561.4,137.7 562.0,137.9 562.6,137.8 563.2,137.9 563.8,137.9 564.4,137.8 565.0,137.9 565.6,137.7 566.2,137.7 566.8,137.8 567.4,137.9 568.0,137.9 568.6,137.9 569.2,137.8 569.8,137.9 570.4,137.8 571.0,137.7 571.6,137.8 572.2,137.9 572.8,137.8 573.4,137.8 574.0,137.7 574.6,137.7 575.2,137.8 575.8,137.8 576.4,137.8 577.0,137.7 577.6,137.6 578.2,137.7 578.8,137.9 579.4,137.9 580.0,137.7 580.6,137.7 581.2,137.8 581.8,137.7 582.4,137.8 583.0,137.9 583.6,137.7 584.2,137.8 584.8,137.9 585.4,137.9 586.0,137.9 586.6,137.9 587.2,137.7 587.8,137.9 588.4,137.9 589.0,137.7 589.6,137.9 590.2,137.8 590.8,137.7 591.4,137.7 592.0,137.9 592.6,137.8 593.2,137.7 593.8,137.8 594.2,137.8 594.3,137.9 594.4,137.7 594.4,137.8 594.5,137.7 594.5,137.7 594.6,137.6 594.7,137.7 594.8,137.8 594.9,137.7 595.0,137.6 595.0,137.6 595.1,137.6 595.2,137.6 595.3,137.7 595.4,137.7 595.5,137.6 595.6,137.7 595.7,137.6 595.8,137.8 595.9,137.6 596.0,137.7 596.1,137.5 596.2,137.4 596.2,137.5 596.3,137.4 596.4,137.3 596.5,137.3 596.6,137.4 596.7,137.4 596.8,137.2 596.8,137.1 596.9,137.1 596.9,137.0 597.0,137.1 597.1,136.9 597.2,136.8 597.3,136.9 597.4,136.8 597.4,136.6 597.5,136.8 597.6,136.7 597.7,136.6 597.8,136.6 597.9,136.7 598.0,136.5 598.1,136.6 598.2,136.5 598.3,136.6 598.4,136.7 598.5,136.8 598.6,136.9 598.6,136.7 598.7,136.8 598.8,137.0 598.9,137.0 599.0,137.0 599.1,137.1 599.1,137.1 599.2,137.3 599.2,137.2 599.3,137.2 599.4,137.2 599.5,137.2 599.6,137.5 599.7,137.5 599.8,137.3 599.8,137.4 599.9,137.5 600.0,137.5 600.1,137.5 600.2,137.7 600.3,137.6 600.4,137.6 600.5,137.8 600.6,137.7 600.7,137.7 600.8,137.6 600.9,137.6 601.0,137.7 601.0,137.8 601.1,137.6 601.2,137.6 601.2,137.6 601.3,137.6 601.3,137.8 601.4,137.7 601.5,137.6 601.5,137.6 601.5,137.8 601.6,137.6 601.6,137.7 601.7,137.5 601.7,137.6 601.8,137.5 601.8,137.7 601.9,137.5 602.0,137.6 602.1,137.5 602.2,137.5 602.2,137.7 602.3,137.7 602.4,137.7 602.5,137.7 602.6,137.5 602.7,137.6 602.8,137.3 602.9,137.5 603.0,137.3 603.1,137.2 603.2,137.3 603.3,137.2 603.4,137.0 603.4,136.9 603.5,137.0 603.6,136.8 603.7,136.6 603.8,136.6 603.9,136.2 604.0,136.1 604.0,136.0 604.1,135.8 604.3,135.8 604.4,135.6 604.5,135.3 604.6,135.1 604.6,135.0 604.7,135.0 604.8,134.9 604.9,134.8 605.0,134.5 605.1,134.6 605.2,134.3 605.2,134.3 605.3,134.2 605.4,134.2 605.5,134.4 605.6,134.5 605.7,134.5 605.8,134.4 605.8,134.5 605.9,134.6 606.0,134.8 606.1,135.1 606.2,135.1 606.3,135.4 606.4,135.6 606.4,135.4 606.5,135.7 606.6,136.0 606.8,136.2 606.9,136.3 607.0,136.6 607.0,136.6 607.1,136.6 607.2,136.7 607.3,137.0 607.4,137.1 607.5,137.2 607.6,137.2 607.6,137.1 607.7,137.2 607.8,137.3 607.9,137.5 608.0,137.3 608.1,137.6 608.2,137.6 608.2,137.5 608.3,137.4 608.4,137.7 608.5,137.6 608.6,137.7 608.7,137.7 608.8,137.7 608.8,137.6 608.9,137.8 609.0,137.8 609.1,137.8 609.2,137.7 609.4,137.6 609.4,137.7 609.5,137.6 609.6,137.8 610.0,137.8 610.6,137.8 611.2,137.9 611.8,137.9 612.4,137.8 613.0,137.7 613.6,137.9 614.2,137.7 614.8,137.8 615.4,137.7 616.0,137.9 616.6,137.8 617.2,137.7 617.8,137.9 618.4,137.7 619.0,137.9 619.6,137.9 620.2,137.7 620.8,137.9 621.4,137.8 622.0,137.9 622.6,137.8 623.2,137.8 623.8,137.9 624.4,137.7 625.0,137.9 625.6,137.7 626.2,137.7 626.8,137.7 627.4,137.9 628.0,137.8 628.6,137.9 629.2,137.7 629.8,137.9 630.4,137.8 631.0,137.7 631.6,137.8 632.2,137.9 632.8,137.7 633.4,137.8 634.0,137.7 634.6,137.8 635.2,137.9 635.8,137.9 636.4,137.9 637.0,137.8 637.6,137.8 638.2,137.9 638.8,137.9 639.4,137.8 640.0,137.9 640.6,137.8 641.2,137.9 641.8,137.8 642.4,137.7 643.0,137.9 643.6,137.7 644.2,137.8 644.8,137.7 645.4,137.9 646.0,137.8 646.6,137.9 647.2,137.7 647.8,137.8 648.4,137.8 649.0,137.7 649.6,137.9 650.2,137.7 650.8,137.8 651.4,137.7 652.0,137.9 652.6,137.9 653.2,137.6 653.8,137.8 654.4,137.8 655.0,137.8 655.6,137.9 656.2,137.7 656.8,137.9 657.4,137.7 658.0,137.7 658.6,137.9 659.2,137.7 659.8,137.7 660.4,137.8 661.0,137.7 661.6,137.6 662.2,137.9 662.7,137.7 662.8,137.8 662.8,137.6 662.9,137.8 663.1,137.6 663.2,137.8 663.3,137.7 663.4,137.8 663.4,137.7 663.5,137.7 663.7,137.6 663.8,137.7 663.9,137.6 664.0,137.5 664.0,137.7 664.1,137.6 664.3,137.6 664.4,137.5 664.5,137.3 664.6,137.3 664.6,137.4 664.7,137.4 664.9,137.3 665.0,137.0 665.1,137.1 665.2,136.9 665.2,136.9 665.3,136.7 665.5,136.5 665.6,136.4 665.7,136.3 665.8,136.1 665.8,136.1 665.9,135.9 666.1,135.8 666.2,135.5 666.3,135.2 666.4,135.2 666.4,135.0 666.5,135.0 666.7,134.8 666.8,134.3 666.9,134.3 667.0,134.3 667.0,134.1 667.1,134.0 667.3,133.8 667.4,133.7 667.5,133.7 667.6,133.7 667.6,133.8 667.7,133.9 667.9,134.0 668.0,134.2 668.1,134.3 668.2,134.4 668.2,134.6 668.3,134.7 668.5,134.8 668.6,135.2 668.7,135.3 668.8,135.4 668.8,135.5 668.9,135.6 669.1,136.0 669.2,136.0 669.3,136.4 669.4,136.3 669.4,136.3 669.5,136.6 669.7,136.7 669.8,136.9 669.9,136.9 670.0,137.2 670.0,137.2 670.1,137.3 670.3,137.4 670.4,137.5 670.5,137.5 670.6,137.5 670.6,137.3 670.7,137.4 670.9,137.5 671.0,137.7 671.1,137.5 671.2,137.6 671.2,137.5 671.3,137.6 671.5,137.8 671.6,137.7 671.7,137.8 671.8,137.5 671.8,137.6 671.9,137.6 672.1,137.8 672.2,137.6 672.3,137.8 672.4,137.6 673.0,137.8 673.6,137.7 674.2,137.7 674.8,137.9 675.4,137.7 676.0,137.8 676.6,137.6 677.2,137.9 677.8,137.9 678.4,137.6 679.0,137.8 679.6,137.7 680.2,137.7 680.8,137.7 681.4,137.8 682.0,137.9 682.6,137.9 683.0,137.9 683.1,137.8 683.2,137.8 683.2,137.6 683.4,137.8 683.5,137.7 683.6,137.7 683.7,137.8 683.8,137.6 683.8,137.6 684.0,137.6 684.1,137.6 684.2,137.7 684.3,137.7 684.4,137.5 684.4,137.6 684.6,137.6 684.7,137.6 684.8,137.5 684.9,137.5 685.0,137.3 685.0,137.3 685.2,137.4 685.3,137.3 685.4,137.4 685.5,137.1 685.6,137.3 685.6,137.1 685.8,136.9 685.9,136.9 686.0,136.8 686.1,136.7 686.2,136.7 686.2,136.5 686.4,136.5 686.5,136.4 686.6,136.2 686.7,136.1 686.8,136.1 686.8,136.0 687.0,135.7 687.1,135.6 687.2,135.5 687.3,135.4 687.4,135.3 687.4,135.4 687.6,135.3 687.7,135.2 687.8,135.3 687.9,135.4 688.0,135.3 688.0,135.2 688.2,135.3 688.3,135.4 688.4,135.7 688.5,135.8 688.6,135.7 688.6,135.7 688.8,135.8 688.9,136.0 689.0,136.3 689.1,136.4 689.2,136.3 689.2,136.5 689.4,136.5 689.5,136.7 689.6,136.8 689.7,136.8 689.8,137.1 689.8,137.1 690.0,137.1 690.1,137.1 690.2,137.4 690.3,137.3 690.4,137.5 690.4,137.3 690.6,137.6 690.7,137.4 690.8,137.5 690.9,137.6 691.0,137.5 691.0,137.5 691.2,137.7 691.3,137.8 691.4,137.6 691.5,137.6 691.6,137.7 691.6,137.6 691.8,137.7 691.9,137.8 692.0,137.7 692.1,137.6 692.2,137.6 692.2,137.7 692.4,137.9 692.5,137.9 692.6,137.6 692.8,137.7 693.4,137.8 694.0,137.7 694.6,137.8 695.2,137.8 695.8,137.9 696.4,137.7 697.0,137.9 697.6,137.9 698.2,137.8 698.8,137.7 699.4,137.8 700.0,137.7 700.6,137.8 701.2,137.8 701.8,137.8 702.4,137.9 703.0,137.7 703.6,137.9 704.2,137.9 704.8,137.7 705.4,137.7 706.0,137.7 706.6,137.8 707.2,137.9 707.8,137.7 708.4,137.9 709.0,137.8 709.6,137.9 710.2,137.7 710.8,137.9 711.4,137.8 712.0,137.6 712.6,137.7 713.2,137.9 713.8,137.9 714.4,137.8 715.0,137.7 715.6,137.9"/>
<polyline fill="none" stroke="#4866d2" stroke-width="1.6" stroke-linejoin="round" points="403.6,227.6 404.2,227.4 404.8,227.5 405.4,227.5 406.0,227.3 406.6,227.4 407.2,227.5 407.8,227.6 408.4,227.6 409.0,227.4 409.6,227.6 410.2,227.6 410.8,227.6 411.4,227.5 412.0,227.6 412.6,227.5 413.2,227.6 413.8,227.5 414.4,227.4 415.0,227.5 415.6,227.5 416.2,227.4 416.8,227.5 417.4,227.5 418.0,227.5 418.6,227.4 419.2,227.4 419.8,227.5 420.4,227.5 421.0,227.5 421.6,227.5 422.2,227.4 422.8,227.5 423.4,227.4 424.0,227.6 424.6,227.6 425.2,227.6 425.8,227.5 426.4,227.4 427.0,227.6 427.6,227.5 428.2,227.5 428.8,227.4 429.4,227.5 430.0,227.6 430.6,227.6 431.2,227.5 431.8,227.6 432.4,227.4 433.0,227.5 433.6,227.4 434.2,227.4 434.8,227.4 435.4,227.5 436.0,227.5 436.6,227.4 437.2,227.4 437.8,227.5 438.4,227.4 438.4,227.5 438.5,227.4 438.6,227.4 438.6,227.3 438.7,227.2 438.8,227.3 438.9,227.2 438.9,227.5 439.0,227.3 439.1,227.4 439.1,227.4 439.2,227.4 439.3,227.2 439.4,227.2 439.4,227.0 439.5,227.2 439.6,227.1 439.6,227.0 439.6,227.0 439.7,226.8 439.8,226.8 439.9,226.8 439.9,226.7 440.0,226.6 440.1,226.4 440.1,226.2 440.2,226.0 440.2,226.0 440.3,226.0 440.4,225.6 440.4,225.3 440.5,225.2 440.6,225.1 440.6,224.9 440.7,224.6 440.8,224.5 440.9,224.3 440.9,224.0 441.0,223.8 441.1,223.8 441.2,223.6 441.2,223.5 441.3,223.7 441.4,223.6 441.4,223.6 441.4,223.7 441.5,223.7 441.6,223.7 441.7,224.0 441.7,224.2 441.8,224.2 441.9,224.6 441.9,224.9 442.0,224.9 442.0,225.1 442.1,225.3 442.2,225.3 442.2,225.5 442.3,225.9 442.4,226.0 442.4,226.1 442.5,226.2 442.6,226.6 442.7,226.7 442.7,226.6 442.8,226.8 442.9,226.9 443.0,226.9 443.0,226.9 443.1,227.1 443.2,227.2 443.2,227.2 443.2,227.2 443.3,227.1 443.4,227.2 443.5,227.2 443.5,227.3 443.6,227.3 443.7,227.5 443.8,227.2 443.8,227.5 443.8,227.3 443.9,227.5 444.0,227.3 444.0,227.4 444.1,227.4 444.2,227.3 444.4,227.5 445.0,227.5 445.6,227.4 446.2,227.5 446.8,227.5 447.4,227.6 448.0,227.3 448.6,227.4 449.2,227.4 449.8,227.5 450.4,227.6 451.0,227.6 451.6,227.5 452.2,227.4 452.8,227.6 453.4,227.3 454.0,227.4 454.6,227.5 455.2,227.4 455.8,227.6 456.4,227.3 457.0,227.4 457.6,227.4 458.2,227.3 458.8,227.3 459.4,227.3 460.0,227.4 460.6,227.4 461.2,227.4 461.8,227.3 462.4,227.4 463.0,227.3 463.6,227.4 464.1,227.1 464.2,227.2 464.2,227.2 464.3,227.2 464.3,227.3 464.4,227.1 464.5,227.3 464.6,227.1 464.6,227.1 464.7,227.1 464.8,227.1 464.8,227.0 464.8,226.9 464.9,227.1 465.0,226.8 465.1,226.7 465.1,226.8 465.2,226.6 465.3,226.5 465.3,226.3 465.4,226.3 465.4,226.1 465.5,226.0 465.6,226.0 465.6,225.5 465.7,225.3 465.8,224.9 465.9,224.8 465.9,224.4 466.0,224.0 466.0,223.9 466.1,223.6 466.1,223.3 466.2,222.8 466.3,222.4 466.4,221.9 466.4,221.6 466.5,220.9 466.6,220.6 466.6,220.7 466.6,220.4 466.7,220.1 466.8,219.8 466.9,219.6 466.9,219.4 467.0,219.3 467.1,219.5 467.1,219.6 467.2,219.6 467.2,219.8 467.3,219.9 467.4,220.3 467.4,220.5 467.5,221.0 467.6,221.4 467.6,221.9 467.7,222.2 467.8,222.7 467.8,222.8 467.9,223.0 467.9,223.5 468.0,223.9 468.1,224.3 468.1,224.6 468.2,225.0 468.3,225.2 468.4,225.3 468.4,225.5 468.4,225.7 468.5,225.9 468.6,226.1 468.7,226.1 468.7,226.3 468.8,226.5 468.9,226.6 468.9,226.6 469.0,226.5 469.0,226.7 469.1,226.5 469.2,226.8 469.2,226.9 469.3,226.8 469.4,226.7 469.4,226.9 469.5,226.7 469.6,226.9 469.6,226.8 469.7,226.6 469.7,226.9 469.8,226.7 469.9,226.9 470.2,226.7 470.8,226.4 471.4,226.0 471.7,225.3 471.7,225.4 471.8,225.1 471.8,224.9 471.9,224.8 471.9,224.5 472.0,224.3 472.0,224.3 472.0,224.0 472.1,223.7 472.1,223.4 472.2,222.9 472.2,222.5 472.3,221.8 472.3,221.1 472.4,220.2 472.4,218.9 472.4,217.6 472.5,215.9 472.5,214.6 472.6,212.5 472.6,212.0 472.6,210.0 472.7,207.2 472.7,204.4 472.8,201.7 472.8,198.0 472.9,194.1 472.9,189.7 473.0,185.3 473.0,181.4 473.1,176.6 473.1,171.5 473.2,166.5 473.2,163.7 473.2,161.6 473.3,157.9 473.3,153.4 473.4,149.2 473.4,145.8 473.5,142.8 473.5,141.0 473.6,139.6 473.6,139.4 473.6,139.7 473.7,141.1 473.7,142.9 473.8,145.6 473.8,146.4 473.8,149.3 473.9,153.4 473.9,157.8 474.0,161.5 474.0,166.5 474.1,171.6 474.1,176.6 474.2,181.4 474.2,185.3 474.3,189.7 474.3,194.2 474.4,198.0 474.4,200.2 474.4,201.7 474.5,204.2 474.5,207.4 474.6,210.0 474.6,212.5 474.7,214.4 474.7,215.9 474.8,217.6 474.8,218.9 474.9,220.0 474.9,221.1 474.9,221.6 475.0,222.4 475.0,222.4 475.0,223.1 475.1,223.4 475.1,224.0 475.2,224.2 475.2,224.5 475.3,224.7 475.3,224.8 475.4,225.2 475.4,225.1 475.5,225.4 475.5,225.5 475.6,225.7 476.2,226.5 476.8,226.7 477.4,227.0 478.0,227.2 478.6,227.1 479.2,227.1 479.8,227.3 480.4,227.3 481.0,227.2 481.6,227.3 482.2,227.5 482.8,227.4 483.4,227.3 484.0,227.3 484.6,227.4 485.2,227.3 485.8,227.4 486.4,227.5 487.0,227.4 487.6,227.4 488.2,227.5 488.8,227.3 489.4,227.6 490.0,227.4 490.6,227.3 491.2,227.5 491.8,227.5 492.4,227.5 493.0,227.4 493.6,227.5 494.2,227.4 494.8,227.5 495.4,227.4 496.0,227.5 496.6,227.5 497.2,227.4 497.8,227.4 498.4,227.3 499.0,227.5 499.6,227.5 500.2,227.3 500.8,227.4 501.4,227.4 501.9,227.1 502.0,227.3 502.0,227.3 502.1,227.1 502.1,227.1 502.2,227.0 502.3,227.1 502.4,227.0 502.5,227.1 502.5,227.0 502.6,226.9 502.6,227.0 502.7,226.9 502.8,226.9 502.9,226.8 502.9,226.5 503.0,226.5 503.1,226.3 503.2,226.2 503.2,226.1 503.3,226.1 503.3,225.9 503.4,225.7 503.5,225.2 503.6,224.8 503.7,224.7 503.7,224.1 503.8,224.0 503.8,223.7 503.9,223.2 504.0,222.6 504.1,222.3 504.1,221.6 504.2,221.0 504.3,220.4 504.4,219.9 504.4,219.7 504.5,219.2 504.5,218.5 504.6,218.0 504.7,217.7 504.8,217.1 504.9,216.8 504.9,216.5 505.0,216.4 505.0,216.4 505.1,216.2 505.2,216.4 505.3,216.6 505.3,216.6 505.4,217.1 505.5,217.7 505.6,218.2 505.6,218.0 505.7,218.6 505.7,219.2 505.8,219.9 505.9,220.4 506.0,220.9 506.1,221.5 506.1,222.2 506.2,222.7 506.2,222.6 506.3,223.3 506.4,223.8 506.5,224.2 506.5,224.4 506.6,224.9 506.7,225.2 506.8,225.6 506.8,225.6 506.9,225.7 506.9,226.1 507.0,226.2 507.1,226.5 507.2,226.5 507.3,226.7 507.3,226.9 507.4,226.7 507.4,226.9 507.5,226.8 507.6,227.1 507.7,226.9 507.7,227.1 507.8,227.1 507.9,227.0 508.0,227.1 508.0,227.2 508.1,227.2 508.1,227.1 508.2,227.2 508.3,227.2 508.6,227.4 509.2,227.3 509.8,227.4 510.4,227.3 511.0,227.6 511.6,227.4 512.2,227.5 512.8,227.5 513.4,227.4 514.0,227.5 514.6,227.4 515.2,227.3 515.8,227.3 516.4,227.5 517.0,227.6 517.6,227.4 518.2,227.5 518.8,227.6 519.4,227.4 520.0,227.4 520.6,227.5 521.2,227.5 521.8,227.6 522.4,227.6 523.0,227.4 523.6,227.5 524.2,227.5 524.8,227.3 525.4,227.5 526.0,227.6 526.6,227.4 527.2,227.5 527.8,227.6 528.4,227.4 529.0,227.6 529.6,227.4 530.2,227.4 530.8,227.6 531.4,227.3 532.0,227.5 532.6,227.4 533.2,227.5 533.8,227.3 534.4,227.4 535.0,227.4 535.6,227.4 536.2,227.4 536.8,227.4 537.4,227.5 538.0,227.4 538.6,227.6 539.2,227.5 539.8,227.4 540.4,227.4 541.0,227.6 541.6,227.4 542.2,227.6 542.8,227.4 543.4,227.6 544.0,227.5 544.6,227.5 545.2,227.6 545.2,227.3 545.3,227.3 545.4,227.5 545.5,227.5 545.5,227.5 545.6,227.4 545.7,227.5 545.8,227.4 545.8,227.4 545.9,227.4 546.0,227.5 546.1,227.4 546.2,227.4 546.3,227.5 546.4,227.3 546.4,227.5 546.5,227.4 546.6,227.3 546.7,227.2 546.8,227.3 546.9,227.3 547.0,227.3 547.0,227.2 547.1,227.2 547.2,227.3 547.3,227.1 547.4,227.3 547.5,227.2 547.6,227.2 547.6,227.1 547.7,226.9 547.8,227.0 547.9,226.8 547.9,226.7 548.0,226.8 548.1,226.6 548.2,226.6 548.2,226.6 548.3,226.3 548.4,226.5 548.5,226.2 548.6,226.2 548.7,226.3 548.8,226.1 548.8,226.2 548.9,226.3 549.0,226.1 549.1,226.3 549.2,226.1 549.3,226.2 549.4,226.3 549.4,226.4 549.5,226.2 549.6,226.3 549.7,226.6 549.8,226.5 549.9,226.6 550.0,226.6 550.0,226.8 550.1,226.8 550.1,226.9 550.2,226.9 550.3,227.0 550.4,227.0 550.5,227.0 550.6,227.2 550.6,227.3 550.7,227.2 550.8,227.3 550.9,227.2 551.0,227.4 551.1,227.2 551.2,227.4 551.2,227.4 551.3,227.5 551.4,227.5 551.5,227.5 551.6,227.3 551.7,227.5 551.8,227.4 551.8,227.4 551.9,227.4 552.0,227.5 552.1,227.5 552.2,227.6 552.3,227.5 552.4,227.4 552.4,227.4 552.5,227.5 552.5,227.4 552.6,227.4 552.7,227.3 552.8,227.4 553.0,227.5 553.6,227.4 554.2,227.6 554.8,227.4 555.4,227.6 556.0,227.4 556.6,227.4 557.2,227.5 557.8,227.3 558.4,227.5 559.0,227.5 559.6,227.3 560.2,227.6 560.8,227.5 561.4,227.3 562.0,227.6 562.6,227.4 563.2,227.4 563.8,227.4 564.4,227.4 565.0,227.6 565.6,227.5 566.2,227.5 566.8,227.4 567.4,227.4 568.0,227.6 568.6,227.5 569.2,227.6 569.8,227.6 570.4,227.4 571.0,227.6 571.6,227.4 572.2,227.6 572.8,227.6 573.4,227.6 574.0,227.5 574.6,227.6 575.2,227.4 575.8,227.5 576.4,227.4 577.0,227.5 577.6,227.4 578.2,227.6 578.8,227.5 579.4,227.6 580.0,227.5 580.6,227.5 581.2,227.6 581.8,227.6 582.4,227.5 583.0,227.4 583.6,227.6 584.2,227.5 584.8,227.4 585.4,227.4 586.0,227.6 586.6,227.6 587.2,227.5 587.8,227.5 588.4,227.6 589.0,227.6 589.6,227.5 590.2,227.5 590.8,227.6 591.4,227.4 592.0,227.4 592.6,227.5 593.2,227.6 593.8,227.4 594.4,227.5 595.0,227.6 595.6,227.4 596.2,227.4 596.8,227.5 597.4,227.4 598.0,227.6 598.6,227.6 599.2,227.5 599.8,227.6 600.4,227.5 601.0,227.4 601.2,227.6 601.3,227.4 601.5,227.3 601.5,227.4 601.6,227.3 601.7,227.4 601.8,227.4 601.9,227.6 602.0,227.4 602.1,227.5 602.2,227.5 602.2,227.4 602.3,227.3 602.4,227.3 602.5,227.4 602.6,227.3 602.7,227.4 602.8,227.3 602.9,227.2 603.0,227.3 603.1,227.4 603.2,227.1 603.3,227.1 603.4,226.9 603.4,226.9 603.5,226.9 603.6,226.9 603.7,227.0 603.8,226.8 603.9,226.8 604.0,226.7 604.0,226.6 604.1,226.5 604.3,226.2 604.4,226.3 604.5,226.1 604.6,226.1 604.6,225.9 604.7,226.0 604.8,225.9 604.9,225.8 605.0,225.7 605.1,225.6 605.2,225.7 605.2,225.7 605.3,225.6 605.4,225.5 605.5,225.6 605.6,225.7 605.7,225.8 605.8,225.8 605.8,225.6 605.9,225.9 606.0,225.9 606.1,225.9 606.2,226.2 606.3,226.3 606.4,226.4 606.4,226.2 606.5,226.4 606.6,226.5 606.8,226.5 606.9,226.8 607.0,226.8 607.0,226.8 607.1,226.9 607.2,227.1 607.3,227.0 607.4,227.2 607.5,227.1 607.6,227.3 607.6,227.0 607.7,227.2 607.8,227.3 607.9,227.4 608.0,227.5 608.1,227.4 608.2,227.4 608.2,227.4 608.3,227.4 608.4,227.5 608.5,227.5 608.6,227.3 608.7,227.4 608.8,227.5 608.8,227.3 608.9,227.5 609.0,227.3 609.1,227.5 609.2,227.5 609.4,227.4 609.4,227.4 609.5,227.4 609.6,227.5 610.0,227.5 610.6,227.5 611.2,227.4 611.8,227.5 612.4,227.6 613.0,227.6 613.6,227.6 614.2,227.4 614.8,227.5 615.4,227.5 616.0,227.4 616.6,227.6 617.2,227.4 617.8,227.5 618.4,227.6 619.0,227.6 619.6,227.4 620.2,227.4 620.8,227.5 621.4,227.6 622.0,227.4 622.6,227.6 623.2,227.5 623.8,227.5 624.4,227.6 625.0,227.4 625.6,227.4 626.2,227.4 626.8,227.4 627.4,227.4 628.0,227.6 628.6,227.5 629.2,227.4 629.8,227.6 630.4,227.5 631.0,227.4 631.6,227.6 632.2,227.6 632.8,227.4 633.4,227.6 634.0,227.6 634.6,227.4 635.2,227.3 635.8,227.6 636.4,227.6 637.0,227.4 637.6,227.6 638.2,227.6 638.8,227.5 639.4,227.6 640.0,227.6 640.6,227.4 641.2,227.6 641.8,227.6 642.4,227.4 643.0,227.6 643.6,227.6 644.2,227.6 644.8,227.5 645.4,227.4 646.0,227.4 646.6,227.5 647.2,227.4 647.8,227.6 648.4,227.6 649.0,227.4 649.6,227.6 650.2,227.5 650.8,227.4 651.4,227.6 652.0,227.6 652.6,227.4 653.2,227.4 653.8,227.4 654.4,227.6 655.0,227.5 655.6,227.6 656.2,227.4 656.8,227.4 657.4,227.4 658.0,227.6 658.6,227.4 659.2,227.4 659.8,227.6 660.4,227.4 661.0,227.5 661.6,227.3 662.2,227.4 662.3,227.5 662.4,227.6 662.6,227.4 662.7,227.4 662.8,227.3 662.9,227.4 663.0,227.3 663.2,227.5 663.3,227.5 663.4,227.5 663.5,227.4 663.6,227.4 663.8,227.2 663.9,227.3 664.0,227.2 664.1,227.2 664.2,227.3 664.4,227.1 664.5,227.1 664.6,227.1 664.7,227.2 664.8,227.0 665.0,226.9 665.1,226.8 665.2,226.9 665.3,226.8 665.4,226.6 665.6,226.5 665.7,226.5 665.8,226.2 665.9,226.1 666.0,226.0 666.2,226.0 666.3,226.0 666.4,225.7 666.5,225.7 666.6,225.8 666.8,225.6 666.9,225.6 667.0,225.7 667.1,225.7 667.2,225.6 667.4,225.6 667.5,225.8 667.6,225.9 667.7,226.0 667.8,226.0 668.0,226.0 668.1,226.2 668.2,226.2 668.3,226.4 668.4,226.5 668.6,226.7 668.7,226.8 668.8,226.9 668.9,226.8 669.0,227.1 669.2,226.9 669.3,227.2 669.4,227.2 669.5,227.3 669.6,227.2 669.8,227.4 669.9,227.1 670.0,227.4 670.1,227.4 670.2,227.3 670.4,227.5 670.5,227.3 670.6,227.5 670.7,227.4 670.8,227.4 671.0,227.3 671.1,227.5 671.2,227.5 671.3,227.3 671.4,227.6 671.6,227.4 671.7,227.4 671.8,227.4 672.4,227.5 673.0,227.6 673.6,227.6 674.2,227.5 674.8,227.4 675.4,227.4 676.0,227.3 676.6,227.5 677.2,227.5 677.8,227.5 678.4,227.6 679.0,227.4 679.6,227.4 680.2,227.4 680.8,227.3 681.4,227.6 681.5,227.4 681.6,227.4 681.8,227.4 681.9,227.3 682.0,227.3 682.1,227.4 682.2,227.4 682.4,227.5 682.5,227.4 682.6,227.3 682.7,227.2 682.8,227.2 683.0,227.2 683.1,227.3 683.2,227.3 683.3,227.1 683.4,227.2 683.6,227.0 683.7,227.0 683.8,226.9 683.9,226.7 684.0,226.6 684.2,226.7 684.3,226.5 684.4,226.3 684.5,226.3 684.6,226.2 684.8,225.9 684.9,225.6 685.0,225.6 685.1,225.5 685.2,225.2 685.4,225.0 685.5,225.0 685.6,224.7 685.7,224.8 685.8,224.7 686.0,224.5 686.1,224.5 686.2,224.4 686.3,224.4 686.4,224.5 686.6,224.7 686.7,224.7 686.8,224.9 686.9,224.9 687.0,225.2 687.2,225.3 687.3,225.5 687.4,225.6 687.5,225.8 687.6,225.8 687.8,226.2 687.9,226.3 688.0,226.4 688.1,226.5 688.2,226.5 688.4,226.7 688.5,226.7 688.6,227.0 688.7,226.8 688.8,227.0 689.0,227.2 689.1,227.2 689.2,227.3 689.3,227.2 689.4,227.2 689.6,227.4 689.7,227.3 689.8,227.4 689.9,227.3 690.0,227.5 690.2,227.4 690.3,227.5 690.4,227.5 690.5,227.4 690.6,227.6 690.8,227.3 690.9,227.5 691.0,227.3 691.6,227.5 692.2,227.4 692.8,227.5 693.4,227.4 694.0,227.4 694.6,227.6 695.2,227.5 695.8,227.6 696.4,227.5 697.0,227.3 697.6,227.6 698.2,227.4 698.8,227.5 699.4,227.3 700.0,227.4 700.6,227.5 701.2,227.6 701.8,227.5 702.4,227.5 703.0,227.6 703.6,227.5 704.2,227.4 704.8,227.5 705.4,227.5 706.0,227.6 706.6,227.4 707.2,227.4 707.8,227.4 708.4,227.4 709.0,227.5 709.6,227.6 710.2,227.5 710.8,227.4 711.4,227.6 712.0,227.4 712.6,227.6 713.2,227.4 713.8,227.4 714.4,227.4 715.0,227.5 715.6,227.4"/>
<rect x="471.95" y="3.05" width="5.5" height="5.5" fill="#000"/>
<rect x="504.05" y="57.85" width="5.5" height="5.5" fill="#000"/>
<rect x="604.85" y="77.95" width="5.5" height="5.5" fill="#000"/>
<rect x="665.05" y="75.65" width="5.5" height="5.5" fill="#000"/>
<rect x="685.25" y="75.65" width="5.5" height="5.5" fill="#000"/>
<polygon points="442.10,76.80 438.31,83.40 445.90,83.40" fill="#fcbc00"/>
<polygon points="466.90,76.80 463.10,83.40 470.69,83.40" fill="#fcbc00"/>
<polygon points="550.30,78.50 546.68,84.80 553.92,84.80" fill="#fcbc00"/>
<polygon points="599.00,78.50 595.38,84.80 602.62,84.80" fill="#fcbc00"/>
<rect x="680.45" y="7.55" width="5.5" height="5.5" fill="#000"/>
<polygon points="682.60,20.40 679.15,26.40 686.05,26.40" fill="#fcbc00"/>
<text x="0" y="0" font-family="Liberation Serif" font-size="11.4" font-weight="bold" fill="#111" text-anchor="end" transform="translate(707.8 15.3) scale(1.0 1.06)">Pb</text>
<text x="0" y="0" font-family="Liberation Serif" font-size="11.4" font-weight="bold" fill="#111" text-anchor="end" transform="translate(710.3 27.4) scale(1.0 1.06)">PbS</text>
<text x="0" y="0" font-family="Liberation Serif" font-size="11.8" font-weight="bold" fill="#ff3333" text-anchor="end" transform="translate(704.2 51.3) scale(1.0 1.13)">10hr 300°C</text>
<text x="0" y="0" font-family="Liberation Serif" font-size="11.8" font-weight="bold" fill="#2fae5a" text-anchor="end" transform="translate(703.2 121.1) scale(1.0 1.13)">5hr 300°C</text>
<text x="0" y="0" font-family="Liberation Serif" font-size="11.8" font-weight="bold" fill="#3a5fd0" text-anchor="end" transform="translate(702.6 200.4) scale(1.0 1.13)">3hr 300°C</text>
<text x="375.6" y="14.2" font-family="Liberation Serif" font-size="14" font-weight="normal" fill="#222" text-anchor="start" stroke="#222" stroke-width="0.35">(b)</text>
<text x="389.6" y="122.3" font-family="Liberation Serif" font-size="14" font-weight="normal" fill="#222" text-anchor="middle" stroke="#222" stroke-width="0.2" transform="rotate(-90 389.6 122.3)">Intensity (a.u.)</text>
<text x="558.8" y="263.6" font-family="Liberation Serif" font-size="14" font-weight="normal" fill="#222" text-anchor="middle" stroke="#222" stroke-width="0.12">2θ (degree)</text>
<line x1="25.4" y1="298.15" x2="25.4" y2="535.5" stroke="#858585" stroke-width="1.7"/>
<line x1="340.3" y1="298.15" x2="340.3" y2="535.5" stroke="#585858" stroke-width="1.7"/>
<line x1="24.549999999999997" y1="299" x2="341.15000000000003" y2="299" stroke="#666666" stroke-width="1.7"/>
<line x1="25.4" y1="530.5" x2="340.3" y2="530.5" stroke="#424242" stroke-width="1.5"/>
<line x1="56.79" y1="530.5" x2="56.79" y2="533.1" stroke="#333" stroke-width="1.3"/>
<line x1="119.77" y1="530.5" x2="119.77" y2="533.1" stroke="#333" stroke-width="1.3"/>
<line x1="182.75" y1="530.5" x2="182.75" y2="533.1" stroke="#333" stroke-width="1.3"/>
<line x1="245.73" y1="530.5" x2="245.73" y2="533.1" stroke="#333" stroke-width="1.3"/>
<line x1="308.71" y1="530.5" x2="308.71" y2="533.1" stroke="#333" stroke-width="1.3"/>
<line x1="88.28" y1="530.5" x2="88.28" y2="535.3" stroke="#333" stroke-width="1.4"/>
<line x1="151.26" y1="530.5" x2="151.26" y2="535.3" stroke="#333" stroke-width="1.4"/>
<line x1="214.24" y1="530.5" x2="214.24" y2="535.3" stroke="#333" stroke-width="1.4"/>
<line x1="277.22" y1="530.5" x2="277.22" y2="535.3" stroke="#333" stroke-width="1.4"/>
<text x="25.30" y="546.3" font-family="Liberation Sans" font-size="9.7" fill="#222" stroke="#222" stroke-width="0.15" text-anchor="middle">20</text>
<text x="88.28" y="546.3" font-family="Liberation Sans" font-size="9.7" fill="#222" stroke="#222" stroke-width="0.15" text-anchor="middle">30</text>
<text x="151.26" y="546.3" font-family="Liberation Sans" font-size="9.7" fill="#222" stroke="#222" stroke-width="0.15" text-anchor="middle">40</text>
<text x="214.24" y="546.3" font-family="Liberation Sans" font-size="9.7" fill="#222" stroke="#222" stroke-width="0.15" text-anchor="middle">50</text>
<text x="277.22" y="546.3" font-family="Liberation Sans" font-size="9.7" fill="#222" stroke="#222" stroke-width="0.15" text-anchor="middle">60</text>
<text x="340.20" y="546.3" font-family="Liberation Sans" font-size="9.7" fill="#222" stroke="#222" stroke-width="0.15" text-anchor="middle">70</text>
<polyline fill="none" stroke="#ff3c3c" stroke-width="1.6" stroke-linejoin="round" points="26.4,419.3 27.0,419.3 27.6,419.1 28.2,419.3 28.8,419.2 29.4,419.2 30.0,419.1 30.6,419.3 31.2,419.3 31.8,419.0 32.4,419.1 33.0,419.1 33.6,419.1 34.2,419.2 34.8,419.3 35.4,419.0 36.0,419.3 36.6,419.1 37.2,419.0 37.8,419.3 38.4,419.1 39.0,419.1 39.6,419.0 40.2,419.1 40.7,419.0 40.8,419.0 40.8,419.1 40.9,419.2 41.1,419.1 41.2,419.1 41.3,419.1 41.4,419.2 41.4,419.2 41.5,419.1 41.7,419.2 41.8,419.2 41.9,419.1 42.0,419.1 42.0,419.1 42.1,419.0 42.3,419.2 42.4,419.1 42.5,418.9 42.6,419.2 42.6,419.2 42.7,418.9 42.9,419.1 43.0,418.9 43.1,419.0 43.2,419.0 43.2,418.9 43.3,418.9 43.5,418.9 43.6,418.7 43.7,418.8 43.8,418.7 43.8,418.9 43.9,418.6 44.1,418.7 44.2,418.4 44.3,418.5 44.4,418.4 44.4,418.4 44.5,418.4 44.7,418.3 44.8,418.4 44.9,418.1 45.0,418.3 45.0,418.3 45.1,418.1 45.3,418.1 45.4,418.2 45.5,418.1 45.6,418.3 45.6,418.1 45.7,418.1 45.9,418.3 46.0,418.2 46.1,418.4 46.2,418.4 46.2,418.2 46.3,418.4 46.5,418.5 46.6,418.3 46.7,418.6 46.8,418.6 46.8,418.6 46.9,418.6 47.1,418.5 47.2,418.9 47.3,418.6 47.4,418.9 47.4,418.9 47.5,418.8 47.7,418.9 47.8,418.9 47.9,419.0 48.0,418.8 48.0,419.1 48.1,419.0 48.3,419.1 48.4,419.0 48.5,419.1 48.6,419.0 48.6,419.1 48.7,418.9 48.9,419.1 49.0,418.9 49.1,419.2 49.2,419.1 49.2,419.1 49.3,419.2 49.5,419.2 49.6,419.2 49.7,419.0 49.8,419.2 49.8,419.2 49.9,419.1 50.1,418.9 50.2,419.2 50.3,419.1 50.4,419.1 51.0,419.2 51.6,419.0 52.2,418.9 52.8,419.2 53.4,419.0 54.0,418.9 54.6,418.9 55.2,419.2 55.8,419.1 56.4,418.9 57.0,418.8 57.6,419.0 58.2,418.9 58.8,418.8 59.4,418.5 60.0,418.4 60.6,418.3 60.9,417.9 61.0,417.9 61.1,417.7 61.1,417.9 61.2,417.6 61.2,417.8 61.3,417.7 61.4,417.5 61.5,417.1 61.5,417.2 61.6,416.9 61.7,416.6 61.8,416.2 61.8,416.2 61.9,416.0 61.9,415.4 62.0,415.0 62.1,414.3 62.2,413.5 62.3,412.6 62.3,411.7 62.4,410.9 62.4,410.6 62.5,409.4 62.6,407.8 62.7,406.1 62.7,404.5 62.8,402.2 62.9,400.0 63.0,397.8 63.0,397.1 63.1,395.2 63.1,392.7 63.2,389.9 63.3,387.5 63.4,384.6 63.5,382.0 63.5,379.4 63.6,377.5 63.6,376.9 63.7,374.6 63.8,372.8 63.9,371.0 63.9,369.9 64.0,369.2 64.1,369.0 64.2,369.1 64.2,369.3 64.3,370.0 64.3,371.2 64.4,372.8 64.5,374.5 64.6,376.8 64.7,379.2 64.7,382.0 64.8,384.0 64.8,384.6 64.9,387.4 65.0,390.1 65.1,392.8 65.1,395.5 65.2,397.8 65.3,400.2 65.4,402.3 65.4,402.8 65.5,404.4 65.5,406.1 65.6,407.7 65.7,409.2 65.8,410.5 65.9,411.7 65.9,412.7 66.0,413.3 66.0,413.5 66.1,414.3 66.2,414.9 66.3,415.6 66.3,415.8 66.4,416.1 66.5,416.7 66.6,416.8 66.6,416.9 66.7,417.1 66.7,417.2 66.8,417.3 66.9,417.4 67.0,417.8 67.1,417.9 67.1,417.8 67.2,417.9 67.2,417.9 67.3,417.9 67.8,418.4 68.4,418.6 69.0,418.6 69.6,418.7 70.2,418.9 70.8,418.9 71.4,418.9 72.0,418.9 72.6,418.9 73.2,419.0 73.8,419.1 74.4,419.1 75.0,418.9 75.6,419.0 76.2,419.1 76.8,419.0 77.4,418.9 78.0,418.8 78.6,418.8 79.2,419.0 79.8,418.7 80.4,418.9 81.0,418.8 81.6,418.7 82.2,418.8 82.8,418.7 83.4,418.5 84.0,418.2 84.6,418.1 85.2,417.7 85.8,417.1 85.9,417.2 86.0,417.0 86.0,416.7 86.1,416.5 86.2,416.4 86.3,416.2 86.4,415.9 86.4,415.7 86.4,415.7 86.5,415.1 86.6,414.8 86.7,414.2 86.8,413.7 86.8,412.9 86.9,411.8 87.0,410.8 87.1,409.4 87.2,408.0 87.2,406.4 87.3,404.5 87.4,402.1 87.5,399.5 87.6,396.8 87.6,395.4 87.6,393.7 87.7,390.3 87.8,386.7 87.9,382.8 88.0,378.5 88.0,374.0 88.1,369.5 88.2,364.8 88.3,360.2 88.4,355.5 88.4,351.1 88.5,346.9 88.6,343.3 88.7,339.8 88.8,337.0 88.8,335.9 88.8,335.0 88.9,333.8 89.0,333.4 89.1,334.0 89.2,335.1 89.2,337.1 89.3,339.8 89.4,343.2 89.5,347.0 89.6,351.1 89.6,355.7 89.7,360.0 89.8,364.9 89.9,369.4 90.0,374.1 90.0,376.2 90.0,378.3 90.1,382.5 90.2,386.7 90.3,390.2 90.4,393.7 90.4,396.8 90.5,399.6 90.6,402.0 90.7,404.2 90.8,406.2 90.8,408.0 90.9,409.4 91.0,410.5 91.1,411.8 91.2,412.6 91.2,412.9 91.2,413.4 91.3,414.0 91.4,414.7 91.5,415.1 91.6,415.4 91.6,415.7 91.7,415.9 91.8,416.2 91.9,416.4 92.0,416.6 92.0,416.8 92.1,416.9 92.2,417.0 92.4,417.2 93.0,417.4 93.6,417.5 94.2,417.6 94.6,417.5 94.7,417.5 94.8,417.5 94.8,417.4 94.8,417.4 94.9,417.2 95.0,417.4 95.0,417.2 95.1,417.0 95.2,416.7 95.3,416.8 95.3,416.4 95.4,416.4 95.4,416.1 95.5,416.0 95.6,415.4 95.6,415.2 95.7,414.5 95.8,413.8 95.8,413.1 95.9,412.4 96.0,411.4 96.0,411.2 96.1,410.3 96.1,408.9 96.2,407.6 96.3,405.8 96.3,404.4 96.4,402.3 96.5,400.5 96.6,398.3 96.6,397.1 96.6,395.9 96.7,393.8 96.8,391.3 96.8,389.0 96.9,386.9 97.0,384.4 97.1,382.3 97.1,380.4 97.2,379.2 97.2,378.7 97.3,377.4 97.4,376.3 97.4,375.8 97.5,375.6 97.6,375.8 97.6,376.5 97.7,377.7 97.8,378.9 97.8,379.0 97.9,380.6 97.9,382.2 98.0,384.4 98.1,386.8 98.2,389.2 98.2,391.6 98.3,393.7 98.4,396.0 98.4,397.4 98.4,398.6 98.5,400.5 98.6,402.6 98.7,404.5 98.7,406.0 98.8,407.7 98.9,409.2 98.9,410.4 99.0,411.3 99.0,411.4 99.1,412.5 99.2,413.3 99.2,414.1 99.3,414.8 99.4,415.3 99.4,415.7 99.5,416.3 99.6,416.4 99.6,416.5 99.7,416.9 99.7,417.1 99.8,417.3 99.9,417.5 100.0,417.5 100.0,417.7 100.1,417.8 100.2,417.7 100.2,417.8 100.2,417.8 100.3,418.1 100.4,418.0 100.8,418.3 101.4,418.5 102.0,418.5 102.6,418.8 103.2,418.9 103.8,419.0 104.4,419.0 105.0,418.9 105.6,418.9 106.2,419.1 106.8,419.1 107.4,419.0 108.0,419.0 108.6,419.0 109.2,419.2 109.8,419.1 110.4,419.2 111.0,419.0 111.6,419.0 112.2,419.1 112.8,419.2 113.4,419.2 114.0,419.1 114.6,419.2 115.2,419.1 115.8,419.2 116.4,419.2 117.0,419.1 117.6,419.1 118.2,419.1 118.8,419.3 119.4,419.2 120.0,419.1 120.6,419.0 121.2,419.0 121.8,419.3 122.4,419.0 123.0,419.2 123.6,419.1 124.2,419.1 124.8,419.1 124.9,419.0 125.0,419.1 125.0,418.9 125.1,419.2 125.2,418.9 125.3,418.9 125.4,419.1 125.4,419.0 125.4,419.1 125.5,419.0 125.6,419.1 125.7,418.8 125.8,418.7 125.8,418.8 125.9,418.9 126.0,418.7 126.1,418.7 126.2,418.7 126.2,418.4 126.3,418.5 126.4,418.5 126.5,418.3 126.6,418.0 126.6,418.0 126.6,417.9 126.7,417.9 126.8,417.7 126.9,417.4 127.0,417.1 127.0,417.0 127.1,416.7 127.2,416.6 127.3,416.2 127.4,416.2 127.4,415.9 127.5,415.6 127.6,415.5 127.7,415.4 127.8,415.2 127.8,415.2 127.8,414.9 127.9,415.1 128.0,415.0 128.1,415.0 128.2,415.2 128.2,415.0 128.3,415.2 128.4,415.5 128.5,415.7 128.6,415.8 128.6,416.2 128.7,416.3 128.8,416.4 128.9,416.6 129.0,416.8 129.0,417.1 129.0,417.1 129.1,417.3 129.2,417.6 129.3,417.6 129.4,418.0 129.4,418.2 129.5,418.2 129.6,418.3 129.7,418.4 129.8,418.6 129.8,418.6 129.9,418.8 130.0,418.9 130.1,418.9 130.2,419.0 130.2,418.8 130.2,418.8 130.3,418.9 130.4,418.8 130.5,419.0 130.6,419.1 130.6,419.1 130.7,419.2 130.8,419.0 130.9,419.0 131.0,418.9 131.0,419.0 131.1,418.9 131.2,419.1 131.4,419.0 132.0,419.2 132.6,419.1 133.2,419.2 133.8,419.1 134.4,419.2 135.0,419.2 135.6,419.2 136.2,419.2 136.8,419.2 137.4,419.1 138.0,419.0 138.6,419.2 139.2,419.2 139.8,419.1 140.4,419.3 141.0,419.3 141.6,419.3 142.2,419.3 142.8,419.2 143.4,419.1 144.0,419.1 144.6,419.2 145.2,419.3 145.8,419.1 146.4,419.0 147.0,419.1 147.6,419.1 148.2,419.2 148.8,419.1 149.4,419.3 150.0,419.1 150.6,419.3 151.2,419.1 151.8,419.1 152.4,419.1 153.0,419.3 153.6,419.2 154.2,419.3 154.8,419.0 155.4,419.2 156.0,419.2 156.6,419.3 157.2,419.3 157.8,419.0 158.4,419.1 159.0,419.3 159.6,419.1 160.2,419.3 160.8,419.1 161.4,419.0 162.0,419.2 162.6,419.0 163.2,419.1 163.8,419.0 164.4,419.1 165.0,419.2 165.6,419.1 166.2,419.1 166.8,418.8 167.4,419.0 168.0,418.6 168.6,418.6 169.0,418.6 169.1,418.3 169.2,418.3 169.2,418.4 169.2,418.2 169.3,418.3 169.4,418.2 169.5,418.0 169.6,418.1 169.6,417.7 169.7,417.8 169.8,417.5 169.9,417.2 170.0,417.0 170.0,417.0 170.1,416.6 170.2,416.1 170.3,415.7 170.4,415.2 170.4,414.9 170.4,414.4 170.5,413.6 170.6,412.8 170.7,412.0 170.8,410.9 170.8,409.7 170.9,408.5 171.0,407.0 171.1,405.5 171.2,404.0 171.2,402.2 171.3,400.6 171.4,398.6 171.5,397.0 171.6,395.3 171.6,394.3 171.6,393.8 171.7,392.0 171.8,390.5 171.9,389.4 172.0,388.4 172.0,387.6 172.1,387.0 172.2,386.9 172.3,387.2 172.4,387.5 172.4,388.3 172.5,389.5 172.6,390.7 172.7,392.2 172.8,393.5 172.8,394.3 172.8,395.4 172.9,397.1 173.0,398.7 173.1,400.4 173.2,402.2 173.2,403.8 173.3,405.5 173.4,407.1 173.5,408.3 173.6,409.5 173.6,410.9 173.7,411.8 173.8,412.8 173.9,413.7 174.0,414.6 174.0,414.7 174.0,415.0 174.1,415.6 174.2,416.0 174.3,416.4 174.4,416.9 174.4,417.1 174.5,417.4 174.6,417.5 174.7,417.6 174.8,417.9 174.8,418.0 174.9,418.2 175.0,418.1 175.1,418.3 175.2,418.4 175.2,418.3 175.2,418.3 175.3,418.4 175.4,418.5 175.8,418.6 176.4,418.7 177.0,418.9 177.6,419.0 178.2,418.9 178.8,418.9 179.4,419.0 180.0,419.1 180.6,419.2 181.2,419.2 181.8,419.1 182.4,419.1 183.0,419.0 183.6,419.2 184.2,419.2 184.8,419.1 185.4,419.2 186.0,419.3 186.6,419.1 187.2,419.3 187.8,419.1 188.4,419.2 189.0,419.3 189.6,419.1 190.2,419.1 190.8,419.3 191.4,419.0 192.0,419.1 192.6,419.2 193.2,419.2 193.8,419.2 194.4,419.3 195.0,419.2 195.6,419.0 196.2,419.0 196.8,419.0 197.4,419.2 198.0,419.0 198.6,419.2 199.2,419.2 199.8,419.1 200.4,419.3 201.0,419.1 201.6,419.3 202.2,419.1 202.8,419.2 203.4,419.2 204.0,419.1 204.6,419.2 205.2,419.0 205.8,419.1 206.4,419.1 207.0,419.3 207.6,419.2 208.2,419.0 208.8,419.1 209.4,419.2 210.0,419.2 210.6,419.0 211.2,419.2 211.8,419.1 212.4,419.1 213.0,419.1 213.6,419.1 214.2,419.2 214.8,419.2 215.4,419.1 215.4,419.0 215.5,419.0 215.7,418.8 215.8,418.8 215.9,419.0 216.0,419.0 216.0,418.9 216.1,418.8 216.2,418.8 216.3,419.0 216.4,418.8 216.5,418.6 216.6,418.7 216.6,418.7 216.7,418.6 216.8,418.8 216.9,418.7 217.0,418.6 217.1,418.2 217.2,418.2 217.2,418.1 217.3,418.2 217.4,418.1 217.5,417.9 217.6,417.7 217.7,417.3 217.8,417.1 217.8,417.1 217.9,417.0 218.0,416.8 218.1,416.4 218.2,416.0 218.3,415.8 218.4,415.4 218.5,415.3 218.6,414.9 218.7,414.8 218.8,414.3 218.9,414.1 219.0,413.7 219.0,413.6 219.1,413.5 219.1,413.3 219.2,413.2 219.2,413.2 219.3,412.7 219.3,412.9 219.3,412.7 219.4,412.6 219.4,412.6 219.5,412.7 219.5,412.4 219.5,412.4 219.6,412.3 219.6,412.5 219.7,412.3 219.7,412.4 219.7,412.3 219.8,412.4 219.8,412.2 219.8,412.2 219.9,412.3 220.0,412.3 220.0,412.3 220.0,412.1 220.1,412.2 220.1,412.2 220.2,412.1 220.2,412.0 220.2,412.0 220.2,411.8 220.3,411.7 220.3,411.7 220.4,411.5 220.4,411.3 220.4,411.5 220.5,411.3 220.5,411.0 220.6,410.8 220.6,410.6 220.6,410.4 220.7,410.1 220.7,409.5 220.8,409.2 220.8,408.7 220.9,408.4 220.9,407.8 220.9,407.8 221.0,407.3 221.1,406.7 221.1,405.9 221.2,405.5 221.2,405.2 221.2,404.5 221.3,404.5 221.3,404.0 221.4,403.5 221.4,403.6 221.4,403.3 221.4,403.0 221.5,402.8 221.5,402.7 221.6,402.3 221.6,402.2 221.6,402.4 221.7,402.3 221.7,402.2 221.8,402.3 221.8,402.4 221.8,402.8 221.9,403.1 222.0,403.7 222.0,404.2 222.0,404.1 222.0,404.4 222.1,405.2 222.1,405.4 222.2,405.9 222.2,406.7 222.2,406.8 222.3,407.8 222.3,408.1 222.3,408.7 222.4,409.5 222.4,409.6 222.5,410.6 222.5,411.1 222.5,411.3 222.6,412.0 222.6,412.3 222.7,413.0 222.7,413.5 222.8,414.2 222.8,414.6 222.8,414.9 222.9,415.3 222.9,415.5 223.0,415.8 223.0,416.0 223.0,416.2 223.1,416.7 223.1,416.8 223.2,417.0 223.2,417.1 223.2,417.2 223.3,417.3 223.3,417.4 223.4,417.8 223.4,418.0 223.4,418.0 223.5,417.9 223.6,418.2 223.6,418.0 223.6,418.2 223.7,418.2 223.7,418.4 223.8,418.5 223.8,418.5 223.8,418.4 223.8,418.6 223.9,418.4 223.9,418.6 224.0,418.6 224.1,418.5 224.1,418.6 224.2,418.5 224.3,418.8 224.4,418.6 225.0,418.7 225.6,418.8 226.0,419.0 226.1,419.0 226.2,418.9 226.2,419.0 226.2,419.0 226.3,418.8 226.4,418.9 226.5,418.8 226.6,418.8 226.6,418.8 226.7,418.8 226.8,418.9 226.9,419.0 227.0,418.9 227.0,418.7 227.1,418.7 227.2,418.8 227.3,418.8 227.4,418.6 227.4,418.6 227.4,418.7 227.5,418.6 227.6,418.4 227.7,418.6 227.8,418.3 227.8,418.3 227.9,418.2 228.0,418.0 228.1,418.1 228.2,417.8 228.2,417.7 228.3,417.6 228.4,417.5 228.5,417.4 228.6,417.2 228.6,417.1 228.6,417.1 228.7,416.9 228.8,416.9 228.9,416.8 229.0,416.7 229.0,416.5 229.1,416.5 229.2,416.5 229.3,416.4 229.4,416.6 229.4,416.5 229.5,416.8 229.6,416.8 229.7,416.9 229.8,417.1 229.8,417.2 229.8,417.3 229.9,417.5 230.0,417.5 230.1,417.5 230.2,417.8 230.2,417.9 230.3,418.1 230.4,418.1 230.5,418.2 230.6,418.2 230.6,418.4 230.7,418.5 230.8,418.5 230.9,418.5 231.0,418.7 231.0,418.6 231.0,418.7 231.1,418.8 231.2,418.8 231.3,418.9 231.4,418.9 231.4,418.9 231.5,418.8 231.6,418.8 231.7,419.0 231.8,419.1 231.8,418.9 231.9,419.0 232.0,419.0 232.1,419.1 232.2,419.0 232.2,419.1 232.2,418.9 232.3,418.9 232.4,418.9 232.8,419.0 233.4,419.0 234.0,419.0 234.5,419.1 234.6,418.9 234.6,419.0 234.7,419.1 234.7,419.0 234.8,418.9 234.9,419.0 235.0,418.8 235.1,418.7 235.1,419.0 235.2,418.8 235.2,418.8 235.3,418.6 235.4,418.8 235.5,418.6 235.5,418.6 235.6,418.4 235.7,418.5 235.8,418.2 235.8,418.2 235.9,418.3 235.9,417.9 236.0,417.7 236.1,417.6 236.2,417.5 236.3,417.0 236.3,416.7 236.4,416.7 236.4,416.4 236.5,416.1 236.6,415.9 236.7,415.5 236.7,415.1 236.8,414.5 236.9,414.3 237.0,413.7 237.0,413.7 237.1,413.3 237.1,413.0 237.2,412.5 237.3,412.1 237.4,411.7 237.5,411.6 237.5,411.3 237.6,411.2 237.6,411.4 237.7,411.3 237.8,411.4 237.9,411.3 237.9,411.6 238.0,411.8 238.1,412.0 238.2,412.4 238.2,412.7 238.3,413.0 238.3,413.3 238.4,413.8 238.5,414.3 238.6,414.7 238.7,415.0 238.7,415.3 238.8,415.8 238.8,415.7 238.9,416.1 239.0,416.4 239.1,416.8 239.1,417.1 239.2,417.4 239.3,417.6 239.4,417.7 239.4,417.9 239.5,418.0 239.5,418.1 239.6,418.4 239.7,418.5 239.8,418.6 239.9,418.7 239.9,418.5 240.0,418.7 240.0,418.7 240.1,418.7 240.2,418.9 240.3,419.0 240.3,418.8 240.4,418.9 240.5,419.1 240.6,419.1 240.6,418.9 240.7,418.8 240.7,419.0 240.8,419.0 240.9,419.1 241.2,418.9 241.8,419.0 242.4,419.2 243.0,419.0 243.6,419.2 244.2,419.0 244.8,419.2 245.4,419.1 246.0,419.3 246.6,419.1 247.2,419.3 247.8,419.1 248.4,419.0 249.0,419.0 249.6,419.0 250.2,419.1 250.8,419.3 251.4,419.1 252.0,419.2 252.6,419.0 253.2,419.2 253.8,419.2 254.4,419.1 255.0,419.2 255.6,419.2 256.2,419.1 256.8,419.3 257.4,419.2 258.0,419.1 258.6,419.1 259.2,419.0 259.8,419.1 260.4,419.2 261.0,419.3 261.6,419.3 262.2,419.3 262.8,419.1 263.4,419.3 264.0,419.3 264.6,419.2 265.2,419.3 265.8,419.2 266.4,419.1 267.0,419.1 267.6,419.1 268.2,419.2 268.8,419.2 269.4,419.3 270.0,419.0 270.6,419.0 271.2,419.3 271.8,419.1 272.4,419.1 273.0,419.3 273.6,419.1 274.2,419.3 274.8,419.3 275.4,419.2 276.0,419.2 276.6,419.0 277.2,419.2 277.8,419.2 278.4,419.2 279.0,419.2 279.6,419.0 280.2,419.1 280.8,419.2 281.4,419.0 282.0,419.0 282.6,419.1 283.2,419.2 283.8,419.1 284.4,419.0 285.0,419.2 285.6,419.1 286.2,419.0 286.8,419.0 287.1,419.1 287.2,418.9 287.3,418.9 287.4,419.0 287.5,419.1 287.6,418.9 287.7,418.8 287.9,418.9 288.0,418.8 288.0,418.8 288.1,418.9 288.2,418.6 288.4,418.7 288.5,418.6 288.6,418.6 288.6,418.7 288.7,418.5 288.9,418.4 289.0,418.2 289.1,418.0 289.2,418.0 289.3,417.9 289.4,417.7 289.5,417.6 289.6,417.3 289.8,416.9 289.8,416.8 289.9,416.8 290.0,416.5 290.1,416.1 290.3,415.4 290.4,415.0 290.4,415.1 290.5,414.4 290.7,414.2 290.8,413.6 290.9,413.0 291.0,412.7 291.1,412.6 291.2,411.9 291.3,411.5 291.4,411.1 291.6,410.6 291.6,410.5 291.7,410.1 291.8,409.8 291.9,409.6 292.1,409.4 292.2,409.5 292.3,409.6 292.5,409.8 292.6,409.9 292.7,410.3 292.8,410.5 292.8,410.6 293.0,411.0 293.1,411.5 293.2,412.1 293.4,412.5 293.4,412.6 293.5,413.0 293.6,413.5 293.7,414.1 293.9,414.6 294.0,415.0 294.0,415.2 294.1,415.6 294.2,415.8 294.4,416.2 294.5,416.7 294.6,416.9 294.6,417.0 294.8,417.3 294.9,417.4 295.0,417.7 295.1,418.0 295.2,418.0 295.3,418.0 295.4,418.1 295.5,418.5 295.7,418.5 295.8,418.5 295.8,418.6 295.9,418.8 296.0,418.8 296.2,418.8 296.3,418.9 296.4,418.7 296.4,418.8 296.6,418.9 296.7,418.8 296.8,418.8 296.9,419.0 297.0,419.0 297.1,418.8 297.2,418.8 297.3,419.0 297.6,419.1 298.2,419.0 298.8,419.2 299.4,418.9 300.0,419.1 300.6,419.0 301.2,419.0 301.8,419.0 302.4,419.1 303.0,419.0 303.6,419.1 304.2,419.1 304.8,419.2 305.4,419.1 306.0,418.9 306.2,419.1 306.3,419.0 306.4,419.1 306.6,419.0 306.6,418.9 306.7,419.0 306.8,418.9 306.9,419.1 307.0,418.9 307.1,419.0 307.2,418.9 307.2,418.8 307.3,418.9 307.4,418.8 307.6,418.7 307.7,418.6 307.8,418.6 307.8,418.7 307.9,418.4 308.0,418.3 308.1,418.3 308.2,418.2 308.4,417.9 308.4,417.9 308.5,418.0 308.6,417.6 308.7,417.5 308.8,417.1 308.9,416.8 309.0,416.7 309.0,416.7 309.1,416.4 309.2,415.9 309.4,415.7 309.5,415.3 309.6,414.9 309.6,414.9 309.7,414.6 309.8,414.1 309.9,413.9 310.0,413.4 310.1,413.2 310.2,413.2 310.2,413.0 310.4,412.8 310.5,412.7 310.6,412.5 310.7,412.4 310.8,412.5 310.8,412.4 310.9,412.6 311.0,412.6 311.1,413.1 311.3,413.4 311.4,413.6 311.4,413.5 311.5,414.0 311.6,414.2 311.7,414.7 311.8,415.0 311.9,415.3 312.0,415.6 312.0,415.6 312.2,416.1 312.3,416.3 312.4,416.7 312.5,417.0 312.6,417.1 312.7,417.4 312.8,417.6 312.9,417.7 313.1,418.1 313.2,418.2 313.2,418.2 313.3,418.3 313.4,418.5 313.5,418.4 313.6,418.6 313.7,418.7 313.8,418.7 313.8,418.7 313.9,418.7 314.1,418.8 314.2,418.9 314.3,418.9 314.4,419.1 314.5,419.1 314.6,419.1 314.7,418.9 314.8,419.0 315.0,418.9 315.0,419.0 315.1,418.9 315.2,419.0 315.6,419.2 316.2,419.2 316.8,419.1 317.4,419.0 318.0,419.3 318.6,419.0 319.2,419.2 319.8,419.2 320.4,419.0 321.0,419.3 321.6,419.2 322.2,419.1 322.8,419.1 323.4,419.2 324.0,419.2 324.6,419.3 325.2,419.3 325.8,419.1 326.4,419.0 327.0,419.2 327.6,419.2 328.2,419.2 328.8,419.0 329.4,419.0 329.9,419.2 330.0,419.1 330.0,419.1 330.1,419.2 330.3,419.0 330.4,419.1 330.5,418.9 330.6,419.1 330.6,419.1 330.7,418.9 330.8,419.1 330.9,419.2 331.0,419.1 331.1,419.1 331.2,419.1 331.3,419.0 331.4,418.9 331.5,419.0 331.6,418.9 331.7,418.8 331.8,418.8 331.8,418.6 331.9,418.6 332.1,418.5 332.2,418.6 332.3,418.5 332.4,418.2 332.4,418.4 332.5,418.0 332.6,417.8 332.7,417.8 332.8,417.5 332.9,417.6 333.0,417.3 333.1,417.3 333.2,417.2 333.3,416.9 333.4,416.8 333.5,416.5 333.6,416.3 333.6,416.5 333.7,416.1 333.8,416.0 333.9,415.9 334.1,415.6 334.2,415.6 334.2,415.6 334.3,415.7 334.4,415.6 334.5,415.5 334.6,415.8 334.7,415.6 334.8,415.9 334.9,415.7 335.0,416.0 335.1,416.0 335.2,416.3 335.3,416.5 335.4,416.8 335.4,416.7 335.5,416.9 335.6,417.1 335.7,417.3 335.9,417.4 336.0,417.8 336.0,417.6 336.1,417.7 336.2,418.0 336.3,418.1 336.4,418.3 336.5,418.2 336.6,418.5 336.6,418.4 336.8,418.7 336.9,418.6 337.0,418.7 337.1,418.7 337.2,418.9 337.3,418.8 337.4,419.0 337.5,418.9 337.6,419.0 337.8,418.9 337.8,419.0 337.9,419.0 338.0,419.1 338.1,419.1 338.2,419.0 338.3,419.0 338.4,419.0 338.4,419.0 338.5,419.0 338.7,419.0 338.8,419.2 338.9,419.1 339.0,419.2"/>
<polyline fill="none" stroke="#22b55e" stroke-width="1.6" stroke-linejoin="round" points="26.4,491.0 27.0,491.0 27.6,491.0 28.2,491.0 28.8,491.1 29.4,491.1 30.0,491.0 30.6,491.2 31.2,491.1 31.8,491.1 32.4,491.1 33.0,491.1 33.6,491.1 34.2,491.0 34.8,491.0 35.4,491.2 36.0,491.1 36.6,491.1 37.2,491.0 37.8,491.2 38.4,491.2 39.0,491.0 39.6,491.0 40.2,491.1 40.8,491.0 41.4,491.0 42.0,491.0 42.6,491.1 43.2,491.1 43.8,491.2 44.4,491.2 45.0,491.2 45.6,491.2 46.2,491.2 46.8,490.9 47.4,491.0 48.0,491.2 48.6,491.2 49.2,491.1 49.8,491.1 50.4,491.0 51.0,491.0 51.6,490.9 52.2,491.0 52.3,490.9 52.4,490.9 52.5,491.1 52.5,491.0 52.6,491.1 52.7,490.9 52.8,491.0 52.8,490.9 52.8,491.0 52.9,490.8 53.0,491.0 53.0,490.9 53.1,490.8 53.2,490.7 53.3,490.8 53.3,490.8 53.4,490.9 53.5,490.6 53.5,490.6 53.6,490.5 53.7,490.6 53.8,490.4 53.8,490.4 53.9,490.1 54.0,490.0 54.0,490.2 54.0,490.0 54.1,489.8 54.2,489.7 54.3,489.7 54.3,489.4 54.4,489.3 54.5,489.1 54.5,488.9 54.6,488.7 54.6,488.9 54.7,488.6 54.8,488.4 54.8,488.2 54.9,488.1 55.0,488.2 55.1,488.1 55.1,487.9 55.2,488.0 55.3,488.0 55.3,487.9 55.4,487.9 55.5,488.2 55.6,488.2 55.6,488.4 55.7,488.4 55.8,488.6 55.8,488.7 55.9,489.0 55.9,489.1 56.0,489.4 56.1,489.4 56.1,489.6 56.2,489.6 56.3,490.0 56.4,490.0 56.4,490.2 56.4,490.0 56.5,490.3 56.6,490.3 56.6,490.3 56.7,490.5 56.8,490.4 56.9,490.6 56.9,490.6 57.0,490.8 57.1,490.7 57.1,490.8 57.2,490.8 57.3,490.9 57.4,491.0 57.4,490.8 57.5,490.9 57.6,490.9 57.6,491.0 57.6,491.0 57.7,491.0 57.8,490.9 57.9,490.8 57.9,491.0 58.0,491.1 58.1,491.1 58.2,490.9 58.8,491.0 59.4,490.9 60.0,491.0 60.6,490.9 61.2,490.7 61.8,490.5 62.1,490.5 62.2,490.4 62.3,490.3 62.3,490.4 62.4,490.1 62.5,490.0 62.5,490.1 62.6,489.8 62.6,490.0 62.7,489.6 62.8,489.7 62.8,489.3 62.9,489.0 63.0,489.0 63.0,488.8 63.0,488.5 63.1,488.2 63.2,487.8 63.2,487.4 63.3,486.7 63.4,486.0 63.4,485.2 63.5,484.4 63.5,483.4 63.6,482.4 63.6,482.4 63.7,481.2 63.7,479.9 63.8,478.6 63.9,476.9 63.9,475.4 64.0,473.7 64.1,472.3 64.1,470.9 64.2,469.1 64.2,468.7 64.2,467.6 64.3,466.1 64.4,464.7 64.4,463.8 64.5,462.5 64.6,461.9 64.6,461.5 64.7,461.5 64.8,461.5 64.8,461.7 64.8,462.1 64.9,462.6 65.0,463.6 65.0,464.7 65.1,466.0 65.2,467.6 65.2,469.0 65.3,470.8 65.3,472.3 65.4,473.6 65.5,475.6 65.5,476.9 65.6,478.6 65.7,480.0 65.7,480.9 65.8,482.2 65.8,483.3 65.9,484.3 66.0,485.3 66.0,485.5 66.0,485.8 66.1,486.6 66.2,487.2 66.2,487.7 66.3,488.1 66.4,488.7 66.4,488.9 66.5,489.1 66.6,489.4 66.6,489.4 66.6,489.6 66.7,489.8 66.8,489.7 66.8,490.0 66.9,490.0 66.9,490.2 67.0,490.2 67.1,490.4 67.1,490.4 67.2,490.3 67.3,490.3 67.8,490.7 68.4,490.8 69.0,490.7 69.6,490.9 70.2,490.9 70.8,490.9 71.4,491.1 72.0,491.0 72.6,491.1 73.2,491.1 73.8,491.0 74.4,491.1 75.0,491.0 75.6,491.0 76.2,491.0 76.8,491.1 77.4,490.9 78.0,491.1 78.6,490.9 79.2,491.0 79.8,491.1 80.4,491.2 81.0,491.0 81.6,491.1 82.2,490.9 82.8,491.1 83.4,490.9 84.0,490.8 84.6,491.0 85.2,490.8 85.8,490.9 86.4,490.6 87.0,490.5 87.5,490.3 87.6,490.2 87.7,490.3 87.7,490.2 87.8,490.3 87.9,490.1 87.9,490.2 88.0,490.1 88.0,489.8 88.1,489.8 88.2,489.7 88.2,489.5 88.2,489.4 88.3,489.0 88.4,488.8 88.4,488.5 88.5,488.1 88.6,487.8 88.6,487.2 88.7,486.7 88.8,485.9 88.8,485.5 88.8,485.1 88.9,484.5 89.0,483.3 89.0,482.4 89.1,480.9 89.1,479.9 89.2,478.5 89.3,477.0 89.3,475.5 89.4,473.6 89.5,472.2 89.5,470.8 89.6,468.8 89.7,467.6 89.7,466.0 89.8,464.8 89.8,463.6 89.9,462.6 90.0,461.9 90.0,461.8 90.0,461.4 90.1,461.4 90.2,461.4 90.2,462.0 90.3,462.5 90.4,463.5 90.4,464.6 90.5,466.1 90.5,467.5 90.6,468.8 90.6,469.0 90.7,470.6 90.7,472.2 90.8,473.6 90.9,475.6 90.9,476.9 91.0,478.4 91.1,479.8 91.1,481.0 91.2,482.3 91.2,482.4 91.2,483.4 91.3,484.4 91.4,485.0 91.4,486.0 91.5,486.8 91.6,487.1 91.6,487.8 91.7,488.3 91.8,488.6 91.8,488.6 91.8,488.9 91.9,489.0 92.0,489.4 92.0,489.6 92.1,489.6 92.2,489.9 92.2,490.0 92.3,490.2 92.3,490.2 92.4,490.2 92.5,490.3 92.5,490.3 92.6,490.3 92.7,490.3 93.0,490.5 93.6,490.5 94.2,490.5 94.6,490.7 94.7,490.7 94.8,490.6 94.8,490.6 94.8,490.6 94.9,490.6 95.0,490.6 95.0,490.3 95.1,490.4 95.2,490.6 95.2,490.3 95.3,490.3 95.3,490.1 95.4,490.1 95.4,490.2 95.5,489.9 95.5,490.0 95.6,489.9 95.7,489.7 95.7,489.3 95.8,489.3 95.9,488.8 95.9,488.6 96.0,488.4 96.0,488.2 96.0,487.9 96.1,487.3 96.2,486.8 96.2,486.4 96.3,485.8 96.4,485.4 96.4,484.6 96.5,484.1 96.6,483.4 96.6,482.9 96.6,482.8 96.7,482.0 96.8,481.5 96.8,480.7 96.9,480.4 96.9,480.0 97.0,479.5 97.1,479.3 97.1,479.0 97.2,478.9 97.3,479.0 97.3,479.3 97.4,479.5 97.5,479.8 97.5,480.3 97.6,480.9 97.7,481.4 97.7,482.0 97.8,482.8 97.8,482.9 97.8,483.5 97.9,483.9 98.0,484.8 98.0,485.4 98.1,485.9 98.2,486.5 98.2,487.1 98.3,487.5 98.3,487.9 98.4,488.4 98.4,488.3 98.5,488.8 98.5,488.9 98.6,489.2 98.7,489.4 98.7,489.7 98.8,490.0 98.9,490.1 98.9,490.1 99.0,490.4 99.0,490.3 99.1,490.4 99.1,490.5 99.2,490.4 99.2,490.6 99.3,490.7 99.4,490.7 99.4,490.7 99.5,490.6 99.6,490.7 99.6,490.7 99.6,490.8 99.7,490.7 99.8,490.8 100.2,490.9 100.8,490.9 101.4,491.1 102.0,490.9 102.6,490.9 103.2,490.9 103.8,490.9 104.4,491.1 105.0,491.2 105.6,490.9 106.2,491.0 106.8,491.2 107.4,491.2 108.0,491.2 108.6,491.2 109.2,491.0 109.8,490.9 110.4,491.0 111.0,491.1 111.6,490.9 112.2,491.0 112.8,491.1 113.4,491.1 114.0,491.0 114.6,491.0 115.2,491.0 115.8,491.0 116.4,491.0 117.0,491.0 117.6,491.2 118.2,491.2 118.8,490.9 119.4,491.2 120.0,491.2 120.6,491.1 121.2,491.0 121.8,491.2 122.4,490.9 123.0,490.9 123.6,491.2 124.2,491.0 124.8,491.1 125.4,491.1 125.4,490.9 125.5,490.9 125.6,491.0 125.6,490.9 125.7,491.0 125.8,491.0 125.8,490.9 125.9,490.9 126.0,490.8 126.1,491.0 126.1,490.9 126.2,490.9 126.3,490.9 126.4,490.6 126.4,490.8 126.5,490.8 126.6,490.6 126.6,490.6 126.6,490.5 126.7,490.5 126.8,490.4 126.9,490.2 126.9,490.1 127.0,489.9 127.1,489.7 127.2,489.6 127.2,489.6 127.2,489.5 127.3,489.2 127.4,489.1 127.4,488.8 127.5,488.6 127.6,488.4 127.7,488.1 127.7,488.0 127.8,487.8 127.9,487.5 127.9,487.4 128.0,487.2 128.1,486.9 128.2,486.8 128.2,486.8 128.3,486.7 128.4,486.8 128.4,486.8 128.4,487.0 128.5,487.1 128.6,487.1 128.7,487.3 128.7,487.6 128.8,487.6 128.9,488.0 128.9,488.3 129.0,488.3 129.0,488.5 129.1,488.7 129.2,488.8 129.2,489.0 129.3,489.4 129.4,489.4 129.4,489.6 129.5,489.8 129.6,490.1 129.7,490.2 129.7,490.4 129.8,490.4 129.9,490.3 130.0,490.5 130.0,490.5 130.1,490.6 130.2,490.7 130.2,490.7 130.2,490.8 130.3,490.7 130.4,490.9 130.5,490.8 130.5,490.8 130.6,491.0 130.7,490.9 130.8,490.8 130.8,491.1 130.8,491.0 130.9,491.1 131.0,490.9 131.0,490.9 131.1,491.0 131.2,490.9 131.4,491.1 132.0,491.1 132.6,491.1 133.2,490.9 133.8,491.0 134.4,491.0 135.0,491.2 135.6,491.0 136.2,491.1 136.8,491.0 137.4,491.2 138.0,491.2 138.6,491.2 139.2,491.2 139.8,491.0 140.4,491.0 141.0,490.9 141.6,491.1 142.2,491.0 142.8,491.0 143.4,491.0 144.0,491.2 144.6,491.2 145.2,491.0 145.8,491.2 146.4,491.0 147.0,491.0 147.6,491.1 148.2,491.2 148.8,491.0 149.4,491.2 150.0,491.1 150.6,491.2 151.2,491.0 151.8,490.9 152.4,491.0 153.0,491.1 153.6,491.1 154.2,491.2 154.8,491.0 155.4,491.0 156.0,491.0 156.6,491.2 157.2,491.1 157.8,491.0 158.4,491.1 159.0,490.9 159.6,491.1 160.2,491.0 160.8,491.1 161.4,491.1 162.0,491.1 162.6,491.0 163.2,490.9 163.8,491.1 164.4,491.1 165.0,490.9 165.6,491.1 166.2,491.1 166.8,490.9 167.4,490.9 168.0,490.9 168.6,490.8 168.9,490.7 169.0,490.6 169.1,490.6 169.1,490.5 169.2,490.3 169.2,490.5 169.3,490.4 169.3,490.3 169.4,490.3 169.5,490.1 169.6,490.1 169.6,490.1 169.7,490.0 169.8,489.7 169.8,489.8 169.9,489.4 169.9,489.3 170.0,489.1 170.1,488.8 170.1,488.4 170.2,487.8 170.3,487.6 170.4,487.0 170.4,486.6 170.4,486.3 170.5,485.5 170.6,484.8 170.7,484.0 170.7,483.2 170.8,482.2 170.9,481.2 170.9,480.0 171.0,479.1 171.0,478.7 171.1,477.9 171.2,476.6 171.2,475.5 171.3,474.2 171.4,473.2 171.4,472.4 171.5,471.7 171.6,471.0 171.6,470.7 171.7,470.4 171.7,470.2 171.8,470.0 171.9,470.2 171.9,470.3 172.0,471.0 172.1,471.4 172.2,472.4 172.2,472.9 172.2,473.2 172.3,474.3 172.4,475.6 172.4,476.7 172.5,477.6 172.6,478.8 172.7,480.0 172.7,481.0 172.8,482.1 172.8,482.3 172.9,483.1 172.9,483.9 173.0,484.7 173.1,485.6 173.2,486.3 173.2,487.0 173.3,487.6 173.4,488.0 173.4,488.2 173.5,488.4 173.5,488.8 173.6,488.9 173.7,489.3 173.7,489.4 173.8,489.6 173.9,490.0 174.0,489.9 174.0,490.0 174.0,490.1 174.1,490.2 174.2,490.2 174.2,490.3 174.3,490.5 174.4,490.4 174.5,490.4 174.5,490.6 174.6,490.5 174.6,490.7 174.7,490.5 175.2,490.7 175.8,490.7 176.4,490.9 177.0,491.1 177.6,491.1 178.2,490.9 178.8,491.0 179.4,491.0 180.0,491.2 180.6,491.1 181.2,491.1 181.8,491.0 182.4,491.0 183.0,491.1 183.6,491.0 184.2,491.1 184.8,490.9 185.4,491.0 186.0,491.2 186.6,491.0 187.2,491.1 187.8,491.2 188.4,491.2 189.0,491.2 189.6,491.0 190.2,491.1 190.8,491.0 191.4,491.1 192.0,490.9 192.6,491.0 193.2,491.0 193.8,491.0 194.4,491.2 195.0,490.9 195.6,491.2 196.2,491.0 196.8,491.2 197.4,491.2 198.0,491.1 198.6,491.2 199.2,491.2 199.8,491.1 200.4,491.2 201.0,490.9 201.6,491.2 202.2,491.1 202.8,491.2 203.4,491.0 204.0,491.0 204.6,491.1 205.2,491.1 205.8,491.1 206.4,491.0 207.0,491.1 207.6,491.2 208.2,491.0 208.8,491.2 209.4,491.2 210.0,491.1 210.6,491.1 211.2,491.0 211.8,491.1 212.4,490.9 213.0,490.9 213.6,491.0 214.2,490.9 214.8,491.2 215.4,491.0 216.0,491.1 216.6,491.0 217.2,491.1 217.8,491.1 218.4,491.0 219.0,490.8 219.3,490.7 219.4,490.8 219.5,490.7 219.5,490.8 219.6,490.6 219.6,490.7 219.7,490.6 219.8,490.6 219.8,490.6 219.9,490.7 220.0,490.6 220.0,490.4 220.1,490.4 220.2,490.3 220.2,490.2 220.3,490.1 220.3,489.8 220.4,489.9 220.5,489.6 220.5,489.4 220.6,489.2 220.7,488.8 220.8,488.5 220.8,488.2 220.8,487.9 220.9,487.6 221.0,486.9 221.1,486.4 221.1,486.1 221.2,485.3 221.3,484.6 221.3,483.9 221.4,483.2 221.4,483.3 221.5,482.4 221.6,481.7 221.6,481.1 221.7,480.4 221.8,479.5 221.8,479.2 221.9,478.6 222.0,478.2 222.0,478.0 222.1,477.7 222.1,477.6 222.2,477.6 222.3,477.6 222.3,478.0 222.4,478.1 222.5,478.7 222.6,479.2 222.6,479.5 222.6,479.7 222.7,480.3 222.8,481.2 222.8,481.7 222.9,482.4 223.0,483.1 223.1,483.9 223.1,484.7 223.2,485.4 223.2,485.5 223.3,485.9 223.3,486.5 223.4,486.9 223.5,487.7 223.6,488.0 223.6,488.3 223.7,488.8 223.8,488.9 223.8,489.0 223.9,489.3 223.9,489.7 224.0,489.6 224.1,489.8 224.1,490.1 224.2,490.1 224.3,490.4 224.4,490.2 224.4,490.3 224.4,490.4 224.5,490.6 224.6,490.4 224.7,490.6 224.7,490.7 224.8,490.8 224.9,490.8 224.9,490.6 225.0,490.7 225.0,490.6 225.1,490.6 225.6,490.7 225.9,490.9 226.0,490.8 226.1,490.7 226.1,490.7 226.2,490.7 226.2,490.9 226.3,490.9 226.4,490.8 226.5,490.9 226.5,490.9 226.6,490.7 226.7,490.7 226.8,490.6 226.8,490.8 226.9,490.7 226.9,490.7 227.0,490.7 227.1,490.6 227.2,490.5 227.3,490.5 227.3,490.5 227.4,490.2 227.4,490.3 227.5,490.1 227.6,490.1 227.7,489.9 227.7,489.9 227.8,489.7 227.9,489.6 228.0,489.3 228.0,489.2 228.1,489.2 228.1,488.9 228.2,488.6 228.3,488.3 228.4,488.3 228.5,487.8 228.5,487.9 228.6,487.7 228.6,487.6 228.7,487.5 228.8,487.3 228.9,487.2 228.9,487.0 229.0,486.9 229.1,486.8 229.2,487.0 229.2,486.9 229.3,486.9 229.3,487.1 229.4,487.2 229.5,487.3 229.6,487.7 229.7,487.8 229.7,488.1 229.8,488.2 229.8,488.2 229.9,488.4 230.0,488.6 230.1,488.8 230.1,489.2 230.2,489.4 230.3,489.4 230.4,489.7 230.4,489.6 230.5,489.7 230.5,490.0 230.6,490.2 230.7,490.2 230.8,490.5 230.9,490.5 230.9,490.4 231.0,490.6 231.0,490.7 231.1,490.5 231.2,490.8 231.3,490.7 231.3,490.7 231.4,490.8 231.5,490.8 231.6,490.8 231.6,490.8 231.7,490.7 231.7,490.9 231.8,490.9 231.9,491.0 232.0,490.9 232.1,491.0 232.1,490.8 232.2,490.8 232.2,490.8 232.3,490.9 232.8,490.9 233.4,490.9 234.0,490.9 234.6,490.7 234.7,490.8 234.8,491.0 234.8,491.0 234.9,490.7 235.0,490.9 235.1,490.8 235.2,490.8 235.2,490.9 235.2,490.8 235.3,490.9 235.4,490.8 235.5,490.8 235.6,490.5 235.6,490.7 235.7,490.5 235.8,490.6 235.9,490.4 236.0,490.4 236.0,490.2 236.1,489.9 236.2,489.8 236.3,489.7 236.4,489.2 236.4,489.3 236.4,489.2 236.5,488.9 236.6,488.6 236.7,488.3 236.8,488.1 236.8,487.6 236.9,487.4 237.0,487.1 237.1,486.6 237.2,486.3 237.2,485.9 237.3,485.7 237.4,485.2 237.5,485.0 237.6,484.8 237.6,484.8 237.6,484.6 237.7,484.7 237.8,484.6 237.9,484.7 238.0,484.7 238.0,484.7 238.1,485.0 238.2,485.3 238.3,485.5 238.4,486.1 238.4,486.3 238.5,486.6 238.6,486.8 238.7,487.2 238.8,487.6 238.8,487.9 238.8,487.9 238.9,488.3 239.0,488.5 239.1,488.9 239.2,489.2 239.2,489.4 239.3,489.7 239.4,489.8 239.5,489.8 239.6,490.2 239.6,490.2 239.7,490.4 239.8,490.6 239.9,490.5 240.0,490.7 240.0,490.6 240.0,490.7 240.1,490.6 240.2,490.8 240.3,490.8 240.4,490.8 240.4,490.8 240.5,490.8 240.6,490.8 240.7,490.9 240.8,490.9 240.8,490.8 240.9,490.9 241.0,491.1 241.2,490.9 241.8,490.9 242.4,491.0 243.0,491.0 243.6,491.2 244.2,491.2 244.8,490.9 245.4,491.0 246.0,491.0 246.6,491.1 247.2,491.0 247.8,491.1 248.4,491.2 249.0,490.9 249.6,490.9 250.2,491.0 250.8,491.0 251.4,491.0 252.0,491.1 252.6,491.0 253.2,491.2 253.8,491.2 254.4,491.2 255.0,491.1 255.6,491.1 256.2,491.0 256.8,491.1 257.4,491.2 258.0,491.2 258.6,491.0 259.2,491.0 259.8,491.2 260.4,491.1 261.0,491.2 261.6,491.0 262.2,491.1 262.8,490.9 263.4,491.2 264.0,491.2 264.6,491.0 265.2,490.9 265.8,491.2 266.4,491.2 267.0,491.1 267.6,491.0 268.2,491.0 268.8,491.2 269.4,491.2 270.0,491.0 270.6,491.0 271.2,491.2 271.8,491.1 272.4,491.1 273.0,491.0 273.6,491.2 274.2,491.2 274.8,491.1 275.4,491.2 276.0,491.1 276.6,491.1 277.2,491.2 277.8,491.2 278.4,491.2 279.0,491.1 279.6,491.2 280.2,491.2 280.8,491.2 281.4,491.1 282.0,491.0 282.6,490.9 283.2,491.1 283.8,491.0 284.4,490.9 285.0,491.2 285.6,491.0 286.2,491.1 286.6,490.8 286.7,490.9 286.8,491.1 286.9,491.0 286.9,491.0 287.1,491.0 287.2,490.8 287.3,491.0 287.4,491.0 287.4,490.9 287.5,490.9 287.6,491.0 287.7,490.9 287.8,490.9 287.9,490.8 288.0,490.9 288.0,490.9 288.1,490.7 288.2,490.8 288.3,490.6 288.4,490.6 288.5,490.5 288.6,490.6 288.6,490.6 288.7,490.4 288.8,490.2 288.9,490.1 289.0,489.9 289.1,489.8 289.2,489.6 289.2,489.7 289.3,489.6 289.4,489.2 289.6,489.2 289.7,488.9 289.8,488.9 289.8,488.7 289.9,488.6 290.0,488.4 290.1,488.1 290.2,487.8 290.3,487.9 290.4,487.7 290.4,487.7 290.5,487.4 290.6,487.4 290.7,487.3 290.8,487.3 290.8,487.3 290.9,487.3 290.9,487.5 290.9,487.4 291.0,487.5 291.0,487.5 291.1,487.3 291.1,487.5 291.1,487.5 291.2,487.6 291.2,487.6 291.3,487.8 291.3,487.7 291.4,487.9 291.4,487.8 291.5,488.1 291.6,488.1 291.6,488.2 291.6,488.4 291.7,488.3 291.7,488.2 291.8,488.7 291.8,488.6 291.9,488.7 291.9,488.8 292.0,489.0 292.1,488.9 292.1,489.1 292.1,489.0 292.2,489.2 292.3,489.3 292.3,489.2 292.4,489.3 292.4,489.3 292.5,489.4 292.5,489.4 292.6,489.6 292.6,489.4 292.7,489.7 292.7,489.6 292.8,489.6 292.8,489.6 292.9,489.5 292.9,489.6 293.0,489.6 293.0,489.5 293.1,489.5 293.1,489.4 293.2,489.3 293.2,489.5 293.3,489.4 293.3,489.3 293.4,489.3 293.4,489.1 293.4,489.0 293.5,489.0 293.5,489.0 293.6,488.8 293.6,488.9 293.7,488.7 293.7,488.6 293.8,488.7 293.8,488.5 293.9,488.5 293.9,488.5 294.0,488.3 294.0,488.2 294.1,488.3 294.1,488.2 294.2,488.1 294.2,488.1 294.3,488.0 294.3,488.1 294.4,487.8 294.4,488.1 294.5,487.9 294.5,487.9 294.6,488.0 294.6,488.0 294.7,487.9 294.8,487.8 294.8,488.0 294.9,488.0 294.9,488.1 295.0,488.2 295.0,488.0 295.1,488.4 295.2,488.4 295.2,488.4 295.3,488.4 295.4,488.6 295.5,488.8 295.6,489.1 295.7,489.4 295.8,489.3 295.8,489.4 295.9,489.5 295.9,489.8 296.0,489.8 296.1,490.1 296.2,490.0 296.3,490.1 296.4,490.3 296.4,490.4 296.5,490.3 296.6,490.4 296.7,490.6 296.8,490.5 296.9,490.8 297.0,490.8 297.1,490.7 297.2,490.8 297.3,490.7 297.4,490.8 297.5,490.9 297.6,491.0 297.6,491.0 297.7,491.0 297.8,491.0 297.9,491.0 298.0,491.0 298.1,491.0 298.1,491.0 298.2,490.9 298.2,491.1 298.3,490.9 298.4,491.0 298.8,491.1 299.4,491.2 300.0,491.0 300.6,491.0 301.2,491.0 301.8,491.0 302.4,491.0 303.0,491.1 303.6,491.0 304.2,491.0 304.8,491.0 305.4,491.1 306.0,491.1 306.3,490.9 306.4,491.0 306.5,490.9 306.6,491.1 306.7,491.1 306.8,490.9 306.9,490.9 307.0,490.9 307.1,490.9 307.2,491.1 307.2,491.1 307.3,491.1 307.4,490.9 307.6,490.9 307.7,490.8 307.8,490.9 307.8,491.0 307.9,490.8 308.0,490.8 308.1,490.7 308.2,490.9 308.3,490.7 308.4,490.7 308.4,490.5 308.6,490.6 308.7,490.5 308.8,490.5 308.9,490.4 309.0,490.3 309.0,490.2 309.1,490.1 309.2,490.1 309.3,489.8 309.5,489.9 309.6,489.7 309.6,489.6 309.7,489.5 309.8,489.2 309.9,489.3 310.0,489.2 310.1,488.9 310.2,488.8 310.2,488.9 310.4,488.8 310.5,488.8 310.6,488.6 310.7,488.7 310.8,488.7 310.9,488.5 311.0,488.6 311.1,488.7 311.2,488.8 311.4,489.0 311.4,489.0 311.5,489.1 311.6,489.0 311.7,489.2 311.8,489.4 311.9,489.5 312.0,489.5 312.0,489.7 312.1,489.8 312.3,489.8 312.4,490.1 312.5,490.2 312.6,490.3 312.6,490.3 312.7,490.4 312.8,490.6 312.9,490.4 313.0,490.5 313.1,490.6 313.2,490.7 313.3,490.6 313.4,490.6 313.5,490.7 313.6,490.7 313.7,490.9 313.8,490.9 313.8,490.9 313.9,490.8 314.1,491.0 314.2,490.9 314.3,490.9 314.4,490.9 314.4,490.9 314.5,491.0 314.6,490.9 314.7,491.0 314.8,490.9 314.9,491.1 315.0,491.1 315.1,491.0 315.2,490.9 315.3,491.2 315.6,490.9 316.2,491.1 316.8,491.1 317.4,491.1 318.0,491.2 318.6,491.0 319.2,491.1 319.8,491.2 320.4,491.2 321.0,491.2 321.6,491.1 322.2,491.1 322.8,491.2 323.4,491.0 324.0,491.0 324.6,490.9 325.2,491.0 325.8,491.0 326.4,491.2 327.0,491.0 327.6,491.0 328.2,491.2 328.8,491.1 329.4,491.0 330.0,490.9 330.1,491.0 330.2,491.0 330.3,491.1 330.5,491.0 330.6,491.1 330.6,490.9 330.7,490.9 330.8,491.1 330.9,490.8 331.0,491.0 331.1,491.0 331.2,490.9 331.2,491.0 331.4,490.9 331.5,491.0 331.6,490.9 331.7,490.9 331.8,490.9 331.9,490.7 332.0,490.7 332.1,490.7 332.2,490.6 332.4,490.3 332.4,490.5 332.5,490.4 332.6,490.2 332.7,490.0 332.8,489.9 332.9,489.9 333.0,489.6 333.0,489.8 333.1,489.5 333.3,489.5 333.4,489.3 333.5,489.0 333.6,488.7 333.6,488.8 333.7,488.7 333.8,488.6 333.9,488.4 334.0,488.1 334.1,487.9 334.2,488.0 334.3,488.0 334.4,487.9 334.5,487.9 334.6,487.9 334.7,487.8 334.8,487.9 334.8,487.7 334.9,488.1 335.1,488.1 335.2,488.0 335.3,488.2 335.4,488.5 335.4,488.4 335.5,488.8 335.6,488.8 335.7,489.0 335.8,489.2 335.9,489.5 336.0,489.4 336.1,489.7 336.2,489.8 336.3,489.9 336.4,490.1 336.5,490.2 336.6,490.3 336.6,490.3 336.7,490.2 336.8,490.4 336.9,490.6 337.1,490.5 337.2,490.7 337.2,490.6 337.3,490.7 337.4,490.9 337.5,490.9 337.6,490.9 337.7,490.9 337.8,490.9 337.9,491.1 338.0,491.1 338.1,491.0 338.2,490.8 338.3,491.1 338.4,490.8 338.4,490.9 338.5,491.0 338.6,490.9 338.7,491.1 338.9,491.1 339.0,490.9 339.0,491.1 339.1,491.2"/>
<polygon points="64.40,360.50 60.72,366.90 68.08,366.90" fill="#fcbc00"/>
<polygon points="90.30,324.40 86.33,331.30 94.27,331.30" fill="#fcbc00"/>
<polygon points="172.20,377.30 168.92,383.00 175.48,383.00" fill="#fcbc00"/>
<polygon points="222.00,392.90 218.44,399.10 225.56,399.10" fill="#fcbc00"/>
<polygon points="237.90,403.00 234.45,409.00 241.35,409.00" fill="#fcbc00"/>
<polygon points="297.50,400.00 293.94,406.20 301.06,406.20" fill="#fcbc00"/>
<polygon points="334.40,400.00 330.83,406.20 337.96,406.20" fill="#fcbc00"/>
<rect x="95.65" y="366.95" width="5.5" height="5.5" fill="#000"/>
<rect x="126.45" y="403.25" width="5.5" height="5.5" fill="#000"/>
<rect x="227.55" y="405.35" width="5.5" height="5.5" fill="#000"/>
<rect x="286.05" y="400.45" width="5.5" height="5.5" fill="#000"/>
<rect x="308.55" y="399.95" width="5.5" height="5.5" fill="#000"/>
<text x="69.4" y="356.5" font-family="Liberation Serif" font-size="10.5" font-weight="normal" fill="#1a1a1a" text-anchor="start" stroke="#1a1a1a" stroke-width="0.1" transform="rotate(-90 69.4 356.5)">(111)</text>
<text x="94.2" y="323.5" font-family="Liberation Serif" font-size="10.5" font-weight="normal" fill="#1a1a1a" text-anchor="start" stroke="#1a1a1a" stroke-width="0.1" transform="rotate(-90 94.2 323.5)">(200)</text>
<text x="175.5" y="374.2" font-family="Liberation Serif" font-size="10.5" font-weight="normal" fill="#1a1a1a" text-anchor="start" stroke="#1a1a1a" stroke-width="0.1" transform="rotate(-90 175.5 374.2)">(220)</text>
<text x="225" y="390.4" font-family="Liberation Serif" font-size="10.5" font-weight="normal" fill="#1a1a1a" text-anchor="start" stroke="#1a1a1a" stroke-width="0.1" transform="rotate(-90 225 390.4)">(311)</text>
<text x="238.8" y="401.2" font-family="Liberation Serif" font-size="10.5" font-weight="normal" fill="#1a1a1a" text-anchor="start" stroke="#1a1a1a" stroke-width="0.1" transform="rotate(-90 238.8 401.2)">(222)</text>
<text x="300.3" y="397.6" font-family="Liberation Serif" font-size="10.5" font-weight="normal" fill="#1a1a1a" text-anchor="start" stroke="#1a1a1a" stroke-width="0.1" transform="rotate(-90 300.3 397.6)">(400)</text>
<text x="336.4" y="398.6" font-family="Liberation Serif" font-size="10.5" font-weight="normal" fill="#1a1a1a" text-anchor="start" stroke="#1a1a1a" stroke-width="0.1" transform="rotate(-90 336.4 398.6)">(331)</text>
<rect x="301.45" y="307.85" width="5.5" height="5.5" fill="#000"/>
<polygon points="304.20,321.70 300.92,327.40 307.48,327.40" fill="#fcbc00"/>
<text x="0" y="0" font-family="Liberation Serif" font-size="11.4" font-weight="bold" fill="#111" text-anchor="end" transform="translate(329.7 315.3) scale(1.0 1.06)">Pb</text>
<text x="0" y="0" font-family="Liberation Serif" font-size="11.4" font-weight="bold" fill="#111" text-anchor="end" transform="translate(333.9 328.4) scale(1.0 1.06)">PbS</text>
<text x="0" y="0" font-family="Liberation Serif" font-size="11.8" font-weight="bold" fill="#ff3333" text-anchor="end" transform="translate(319.8 363.4) scale(1.0 1.13)">5hr 450°C</text>
<text x="0" y="0" font-family="Liberation Serif" font-size="11.8" font-weight="bold" fill="#22b55e" text-anchor="end" transform="translate(319.8 464.6) scale(1.0 1.13)">5hr 400°C</text>
<text x="0.7" y="312.1" font-family="Liberation Serif" font-size="14" font-weight="normal" fill="#222" text-anchor="start" stroke="#222" stroke-width="0.35">(c)</text>
<text x="14.1" y="420.0" font-family="Liberation Serif" font-size="14" font-weight="normal" fill="#222" text-anchor="middle" stroke="#222" stroke-width="0.2" transform="rotate(-90 14.1 420.0)">Intensity (a.u.)</text>
<text x="184.0" y="561.4" font-family="Liberation Serif" font-size="14" font-weight="normal" fill="#222" text-anchor="middle" stroke="#222" stroke-width="0.12">2θ (degree)</text>
<line x1="404.5" y1="299.04999999999995" x2="404.5" y2="535.8" stroke="#555555" stroke-width="1.7"/>
<line x1="719.6" y1="299.04999999999995" x2="719.6" y2="535.8" stroke="#777777" stroke-width="1.7"/>
<line x1="403.65" y1="299.9" x2="720.45" y2="299.9" stroke="#666666" stroke-width="1.7"/>
<line x1="404.5" y1="530.8" x2="719.6" y2="530.8" stroke="#7a7a7a" stroke-width="1.5"/>
<line x1="435.84" y1="530.8" x2="435.84" y2="533.4" stroke="#333" stroke-width="1.3"/>
<line x1="498.92" y1="530.8" x2="498.92" y2="533.4" stroke="#333" stroke-width="1.3"/>
<line x1="562.00" y1="530.8" x2="562.00" y2="533.4" stroke="#333" stroke-width="1.3"/>
<line x1="625.08" y1="530.8" x2="625.08" y2="533.4" stroke="#333" stroke-width="1.3"/>
<line x1="688.16" y1="530.8" x2="688.16" y2="533.4" stroke="#333" stroke-width="1.3"/>
<line x1="467.38" y1="530.8" x2="467.38" y2="535.5999999999999" stroke="#333" stroke-width="1.4"/>
<line x1="530.46" y1="530.8" x2="530.46" y2="535.5999999999999" stroke="#333" stroke-width="1.4"/>
<line x1="593.54" y1="530.8" x2="593.54" y2="535.5999999999999" stroke="#333" stroke-width="1.4"/>
<line x1="656.62" y1="530.8" x2="656.62" y2="535.5999999999999" stroke="#333" stroke-width="1.4"/>
<text x="404.30" y="546.4" font-family="Liberation Sans" font-size="9.7" fill="#222" stroke="#222" stroke-width="0.15" text-anchor="middle">20</text>
<text x="467.38" y="546.4" font-family="Liberation Sans" font-size="9.7" fill="#222" stroke="#222" stroke-width="0.15" text-anchor="middle">30</text>
<text x="530.46" y="546.4" font-family="Liberation Sans" font-size="9.7" fill="#222" stroke="#222" stroke-width="0.15" text-anchor="middle">40</text>
<text x="593.54" y="546.4" font-family="Liberation Sans" font-size="9.7" fill="#222" stroke="#222" stroke-width="0.15" text-anchor="middle">50</text>
<text x="656.62" y="546.4" font-family="Liberation Sans" font-size="9.7" fill="#222" stroke="#222" stroke-width="0.15" text-anchor="middle">60</text>
<text x="719.70" y="546.4" font-family="Liberation Sans" font-size="9.7" fill="#222" stroke="#222" stroke-width="0.15" text-anchor="middle">70</text>
<polyline fill="none" stroke="#ff3c3c" stroke-width="1.6" stroke-linejoin="round" points="405.5,377.6 406.1,377.7 406.7,377.7 407.3,377.6 407.9,377.7 408.5,377.7 409.1,377.6 409.7,377.5 410.3,377.5 410.9,377.6 411.5,377.5 412.1,377.5 412.7,377.6 413.3,377.5 413.9,377.6 414.5,377.5 415.1,377.7 415.7,377.5 416.3,377.7 416.9,377.5 417.5,377.6 418.1,377.6 418.7,377.5 419.3,377.6 419.9,377.6 420.5,377.6 421.1,377.5 421.7,377.6 422.3,377.7 422.9,377.6 423.5,377.5 424.1,377.5 424.7,377.7 425.3,377.4 425.9,377.6 426.5,377.6 427.1,377.5 427.7,377.4 428.3,377.4 428.9,377.7 429.5,377.5 430.1,377.5 430.7,377.5 431.3,377.4 431.9,377.4 432.5,377.6 433.1,377.6 433.7,377.4 434.3,377.4 434.9,377.3 435.5,377.4 436.1,377.4 436.7,377.5 437.3,377.4 437.9,377.4 438.5,377.4 439.1,377.2 439.7,377.0 440.3,376.8 440.9,376.7 441.5,376.2 441.6,376.2 441.7,375.9 441.8,375.8 441.8,376.0 441.9,375.7 442.0,375.6 442.0,375.4 442.1,375.1 442.1,375.1 442.1,374.9 442.2,374.7 442.3,374.4 442.3,374.0 442.4,373.3 442.5,372.8 442.5,372.2 442.6,371.2 442.7,370.4 442.7,369.8 442.7,369.4 442.8,367.9 442.9,366.5 442.9,364.8 443.0,363.1 443.1,360.9 443.1,358.5 443.2,355.8 443.2,353.1 443.3,350.4 443.4,346.9 443.4,343.7 443.5,339.9 443.6,336.8 443.6,333.5 443.7,329.6 443.8,326.6 443.8,323.2 443.9,320.3 443.9,319.6 443.9,318.1 444.0,315.7 444.1,314.5 444.1,313.3 444.2,313.2 444.3,313.4 444.3,314.5 444.4,315.9 444.5,318.1 444.5,319.5 444.5,320.4 444.6,323.1 444.6,326.6 444.7,329.6 444.8,333.5 444.8,336.6 444.9,340.0 445.0,343.7 445.0,346.8 445.1,350.3 445.2,353.0 445.2,355.8 445.3,358.6 445.4,360.7 445.4,363.2 445.5,364.9 445.5,366.5 445.6,367.9 445.7,369.2 445.7,369.6 445.7,370.3 445.8,371.4 445.9,372.0 445.9,372.9 446.0,373.4 446.1,374.0 446.1,374.4 446.2,374.7 446.2,375.1 446.3,375.3 446.3,375.1 446.4,375.5 446.4,375.6 446.5,375.6 446.6,375.8 446.6,375.9 446.7,376.1 446.8,376.0 446.9,376.4 447.5,376.7 448.1,377.0 448.7,377.1 449.3,377.2 449.9,377.2 450.5,377.4 451.1,377.3 451.7,377.5 452.3,377.5 452.9,377.3 453.5,377.3 454.1,377.6 454.7,377.4 455.3,377.6 455.9,377.4 456.5,377.4 457.1,377.3 457.7,377.5 458.3,377.5 458.9,377.3 459.5,377.3 460.1,377.4 460.7,377.6 461.3,377.5 461.9,377.3 462.5,377.4 463.1,377.4 463.7,377.4 464.3,377.2 464.9,377.2 465.5,377.1 466.1,376.9 466.7,376.8 467.3,376.6 467.6,376.2 467.7,376.0 467.8,375.9 467.8,375.9 467.9,375.7 468.0,375.6 468.0,375.5 468.1,375.2 468.1,374.9 468.2,374.8 468.3,374.3 468.3,374.2 468.4,373.4 468.5,373.0 468.5,372.7 468.5,372.3 468.6,371.6 468.7,370.8 468.7,369.5 468.8,368.3 468.9,366.8 468.9,365.4 469.0,363.7 469.1,361.5 469.1,359.6 469.1,359.2 469.2,356.6 469.2,354.1 469.3,351.5 469.4,347.9 469.4,345.0 469.5,341.5 469.6,338.4 469.6,335.0 469.7,331.5 469.7,330.8 469.8,328.4 469.8,325.0 469.9,322.6 469.9,320.2 470.0,318.0 470.1,316.7 470.1,315.8 470.2,315.5 470.3,315.9 470.3,316.2 470.3,316.6 470.4,318.2 470.5,320.2 470.5,322.6 470.6,325.1 470.6,328.4 470.7,331.3 470.8,335.0 470.8,338.3 470.9,341.4 471.0,345.1 471.0,348.1 471.1,351.4 471.2,354.2 471.2,356.4 471.3,359.3 471.4,361.4 471.4,363.5 471.5,365.4 471.5,365.7 471.5,366.9 471.6,368.3 471.7,369.5 471.7,370.7 471.8,371.5 471.9,372.2 471.9,373.1 472.0,373.6 472.1,373.9 472.1,374.5 472.1,374.3 472.2,374.7 472.2,375.0 472.3,375.2 472.4,375.5 472.4,375.7 472.5,375.6 472.6,375.9 472.6,376.0 472.7,376.0 472.8,376.1 473.3,376.6 473.9,377.0 474.5,377.2 475.1,377.2 475.7,377.1 476.3,377.3 476.9,377.5 477.5,377.4 478.1,377.4 478.7,377.5 479.3,377.3 479.9,377.5 480.5,377.6 481.1,377.4 481.7,377.5 482.3,377.6 482.9,377.5 483.5,377.5 484.1,377.5 484.7,377.6 485.3,377.5 485.9,377.5 486.5,377.7 487.1,377.6 487.7,377.7 488.3,377.5 488.9,377.6 489.5,377.5 490.1,377.7 490.7,377.5 491.3,377.6 491.9,377.5 492.5,377.6 493.1,377.5 493.7,377.7 494.3,377.5 494.9,377.7 495.5,377.6 496.1,377.5 496.7,377.6 497.3,377.7 497.9,377.6 498.5,377.7 499.1,377.6 499.7,377.6 500.3,377.5 500.9,377.7 501.5,377.6 502.1,377.6 502.7,377.5 503.3,377.7 503.9,377.6 504.5,377.5 505.1,377.7 505.7,377.7 506.3,377.6 506.9,377.7 507.5,377.6 508.1,377.6 508.7,377.7 509.3,377.7 509.9,377.6 510.5,377.6 511.1,377.6 511.7,377.5 512.3,377.7 512.9,377.7 513.5,377.6 514.1,377.6 514.7,377.7 515.3,377.4 515.9,377.6 516.5,377.5 517.1,377.6 517.7,377.5 518.3,377.6 518.9,377.7 519.5,377.6 520.1,377.5 520.7,377.4 521.3,377.7 521.9,377.6 522.5,377.6 523.1,377.4 523.7,377.5 524.3,377.4 524.9,377.7 525.5,377.4 526.1,377.5 526.7,377.6 527.3,377.6 527.9,377.5 528.5,377.6 529.1,377.6 529.7,377.7 530.3,377.5 530.9,377.5 531.5,377.5 532.1,377.5 532.7,377.5 533.3,377.4 533.9,377.7 534.5,377.5 535.1,377.6 535.7,377.7 536.3,377.7 536.9,377.4 537.5,377.6 538.1,377.7 538.7,377.6 539.3,377.6 539.9,377.5 540.5,377.6 541.1,377.5 541.7,377.5 542.3,377.5 542.9,377.5 543.5,377.4 544.1,377.5 544.7,377.6 545.3,377.5 545.9,377.3 546.5,377.3 547.1,377.4 547.7,377.1 548.3,377.1 548.9,376.9 549.3,376.6 549.4,376.5 549.5,376.3 549.5,376.5 549.5,376.3 549.6,376.3 549.7,376.2 549.7,376.2 549.8,375.8 549.9,376.0 549.9,375.7 550.0,375.5 550.0,375.0 550.1,374.9 550.1,374.7 550.2,374.5 550.2,374.0 550.3,373.4 550.4,372.9 550.4,372.0 550.5,371.1 550.6,370.1 550.6,368.9 550.7,367.9 550.7,367.3 550.8,366.4 550.8,364.7 550.9,362.8 550.9,361.1 551.0,359.1 551.1,356.9 551.1,354.7 551.2,352.3 551.3,350.1 551.3,348.6 551.3,347.7 551.4,345.1 551.5,343.2 551.5,340.7 551.6,339.1 551.6,337.5 551.7,336.1 551.8,335.1 551.8,334.3 551.9,334.2 552.0,334.3 552.0,334.9 552.1,335.8 552.2,337.5 552.2,339.1 552.3,340.9 552.4,343.1 552.4,345.2 552.5,347.9 552.5,348.5 552.5,349.9 552.6,352.4 552.7,354.9 552.7,357.0 552.8,359.4 552.9,361.1 552.9,362.8 553.0,364.8 553.0,366.3 553.1,367.4 553.1,367.9 553.2,368.9 553.2,370.2 553.3,371.1 553.4,371.9 553.4,372.9 553.5,373.3 553.6,374.0 553.6,374.3 553.7,374.7 553.7,374.8 553.8,375.1 553.8,375.5 553.9,375.7 554.0,375.9 554.0,375.9 554.1,376.0 554.1,376.2 554.2,376.4 554.3,376.4 554.3,376.6 554.3,376.6 554.4,376.6 554.5,376.5 554.9,376.8 555.5,377.0 556.1,377.2 556.7,377.4 557.3,377.3 557.9,377.3 558.5,377.4 559.1,377.6 559.7,377.5 560.3,377.4 560.9,377.5 561.5,377.4 562.1,377.6 562.7,377.5 563.3,377.5 563.9,377.7 564.5,377.5 565.1,377.5 565.7,377.7 566.3,377.5 566.9,377.6 567.5,377.6 568.1,377.5 568.7,377.6 569.3,377.5 569.9,377.7 570.5,377.6 571.1,377.6 571.7,377.6 572.3,377.6 572.9,377.5 573.5,377.5 574.1,377.5 574.7,377.5 575.3,377.4 575.9,377.7 576.5,377.6 577.1,377.6 577.7,377.6 578.3,377.4 578.9,377.5 579.5,377.6 580.1,377.4 580.7,377.7 581.3,377.6 581.9,377.7 582.5,377.7 583.1,377.5 583.7,377.5 584.3,377.6 584.9,377.7 585.5,377.6 586.1,377.6 586.7,377.7 587.3,377.6 587.9,377.6 588.5,377.6 589.1,377.6 589.7,377.6 590.3,377.5 590.9,377.7 591.5,377.7 592.1,377.6 592.7,377.6 593.3,377.4 593.9,377.5 594.5,377.6 595.1,377.4 595.7,377.6 596.3,377.4 596.9,377.5 597.5,377.3 598.1,377.3 598.7,377.2 598.7,377.0 598.8,377.2 598.9,377.1 598.9,377.0 599.0,377.0 599.1,377.0 599.1,377.0 599.2,376.8 599.3,376.7 599.4,376.6 599.4,376.7 599.5,376.5 599.6,376.4 599.7,376.2 599.7,375.9 599.8,375.8 599.9,375.4 599.9,375.4 599.9,375.2 600.0,374.7 600.1,374.4 600.2,373.7 600.2,373.5 600.3,372.7 600.4,372.1 600.5,371.3 600.5,370.6 600.5,370.5 600.6,369.6 600.7,368.6 600.7,367.6 600.8,366.7 600.9,365.7 601.0,364.5 601.0,363.8 601.1,362.6 601.2,361.6 601.2,360.9 601.3,360.3 601.4,359.5 601.5,358.9 601.5,358.7 601.6,358.7 601.7,358.7 601.7,358.8 601.7,359.1 601.8,359.4 601.9,360.1 602.0,360.8 602.0,361.7 602.1,362.5 602.2,363.6 602.2,364.5 602.3,365.2 602.3,365.7 602.4,366.6 602.5,367.5 602.5,368.8 602.6,369.5 602.7,370.4 602.8,371.1 602.8,371.9 602.9,372.8 603.0,373.4 603.0,373.9 603.1,374.4 603.2,374.7 603.3,375.0 603.3,375.4 603.4,375.8 603.5,376.0 603.5,376.0 603.5,376.2 603.6,376.3 603.7,376.5 603.8,376.6 603.8,376.6 603.9,376.9 604.0,376.8 604.0,377.0 604.1,377.0 604.1,377.0 604.2,377.0 604.3,377.0 604.3,377.0 604.4,377.2 604.5,377.1 604.7,377.2 605.3,377.3 605.9,377.3 606.5,377.3 607.1,377.5 607.7,377.4 608.3,377.4 608.9,377.6 609.5,377.4 610.1,377.4 610.7,377.4 611.3,377.5 611.9,377.5 612.5,377.3 613.1,377.5 613.7,377.3 614.0,377.3 614.1,377.1 614.2,377.1 614.2,377.0 614.3,377.0 614.3,377.2 614.4,377.0 614.5,377.1 614.5,377.0 614.6,377.0 614.7,376.7 614.7,376.7 614.8,376.7 614.9,376.4 614.9,376.4 615.0,376.2 615.0,376.1 615.1,375.9 615.2,375.6 615.2,375.3 615.3,375.1 615.4,374.5 615.5,374.3 615.5,374.0 615.5,373.7 615.6,373.1 615.7,372.5 615.8,371.8 615.8,371.0 615.9,370.4 616.0,369.5 616.0,368.5 616.1,367.7 616.1,367.7 616.2,366.9 616.2,365.8 616.3,365.0 616.4,363.9 616.5,363.1 616.5,362.4 616.6,361.7 616.7,361.3 616.7,361.1 616.8,360.7 616.8,360.4 616.9,360.5 617.0,360.5 617.0,360.8 617.1,361.3 617.2,361.8 617.3,362.5 617.3,362.9 617.3,363.2 617.4,363.8 617.5,365.1 617.5,366.0 617.6,366.8 617.7,367.7 617.8,368.6 617.8,369.5 617.9,370.1 617.9,370.3 618.0,371.2 618.0,371.9 618.1,372.6 618.2,373.2 618.3,373.9 618.3,374.2 618.4,374.5 618.5,375.0 618.5,375.1 618.6,375.5 618.6,375.6 618.7,375.8 618.8,376.2 618.8,376.2 618.9,376.6 619.0,376.6 619.1,376.6 619.1,376.8 619.1,376.9 619.2,376.8 619.3,377.1 619.4,376.9 619.4,376.9 619.5,377.1 619.6,377.2 619.6,377.2 619.7,377.3 619.7,377.1 619.8,377.1 620.3,377.3 620.9,377.3 621.5,377.4 622.1,377.4 622.7,377.6 623.3,377.4 623.9,377.6 624.5,377.6 625.1,377.5 625.7,377.7 626.3,377.5 626.9,377.5 627.5,377.5 628.1,377.6 628.7,377.6 629.3,377.5 629.9,377.5 630.5,377.6 631.1,377.5 631.7,377.6 632.3,377.6 632.9,377.4 633.5,377.4 634.1,377.7 634.7,377.7 635.3,377.5 635.9,377.5 636.5,377.6 637.1,377.7 637.7,377.5 638.3,377.7 638.9,377.5 639.5,377.7 640.1,377.5 640.7,377.6 641.3,377.7 641.9,377.7 642.5,377.7 643.1,377.5 643.7,377.7 644.3,377.7 644.9,377.5 645.5,377.7 646.1,377.7 646.7,377.5 647.3,377.6 647.9,377.7 648.5,377.6 649.1,377.7 649.7,377.6 650.3,377.6 650.9,377.5 651.5,377.5 652.1,377.7 652.7,377.5 653.3,377.7 653.9,377.7 654.5,377.6 655.1,377.5 655.7,377.4 656.3,377.5 656.9,377.7 657.5,377.7 658.1,377.7 658.7,377.5 659.3,377.7 659.9,377.6 660.5,377.5 661.1,377.7 661.7,377.7 662.3,377.6 662.9,377.5 663.5,377.5 664.1,377.5 664.7,377.5 665.3,377.5 665.9,377.6 666.5,377.5 667.1,377.5 667.7,377.7 668.3,377.5 668.9,377.4 669.5,377.4 670.1,377.6 670.7,377.4 671.0,377.5 671.1,377.4 671.2,377.5 671.2,377.5 671.3,377.5 671.3,377.4 671.4,377.6 671.5,377.6 671.6,377.5 671.7,377.6 671.8,377.6 671.9,377.4 671.9,377.4 672.0,377.3 672.0,377.4 672.1,377.2 672.2,377.2 672.3,377.2 672.4,377.2 672.5,377.2 672.5,377.0 672.6,376.9 672.6,376.9 672.7,376.9 672.8,376.6 672.9,376.6 673.0,376.4 673.1,376.4 673.1,376.2 673.2,376.1 673.3,376.0 673.4,375.8 673.4,375.5 673.5,375.2 673.6,375.1 673.7,374.9 673.7,374.9 673.8,374.7 673.9,374.4 674.0,374.3 674.1,374.0 674.1,373.8 674.2,373.6 674.3,373.7 674.3,373.6 674.4,373.6 674.5,373.5 674.6,373.6 674.7,373.7 674.8,373.9 674.9,373.9 674.9,374.0 674.9,374.0 675.0,374.2 675.1,374.5 675.2,374.6 675.3,374.8 675.4,375.0 675.5,375.2 675.5,375.3 675.6,375.4 675.6,375.6 675.7,375.8 675.8,376.1 675.9,376.3 676.0,376.3 676.1,376.6 676.1,376.6 676.2,376.7 676.3,376.8 676.4,377.0 676.4,377.1 676.5,377.0 676.6,377.2 676.7,377.1 676.8,377.3 676.9,377.3 677.0,377.3 677.0,377.2 677.1,377.5 677.2,377.3 677.3,377.4 677.3,377.6 677.4,377.3 677.5,377.4 677.6,377.4 677.7,377.5 677.8,377.6 677.8,377.6 677.9,377.4 677.9,377.4 678.0,377.4 678.5,377.4 679.1,377.5 679.7,377.6 680.3,377.7 680.9,377.4 681.5,377.5 682.1,377.7 682.7,377.6 683.3,377.5 683.9,377.5 684.5,377.5 685.1,377.5 685.7,377.6 686.3,377.5 686.9,377.6 687.5,377.7 688.1,377.4 688.7,377.5 689.3,377.6 689.9,377.6 690.5,377.7 691.1,377.6 691.7,377.6 692.3,377.5 692.9,377.6 693.5,377.6 694.1,377.7 694.7,377.6 695.3,377.6 695.9,377.6 696.5,377.6 697.1,377.6 697.7,377.6 698.3,377.6 698.9,377.7 699.5,377.5 700.1,377.6 700.7,377.7 701.3,377.7 701.9,377.6 702.5,377.5 703.1,377.5 703.7,377.6 704.3,377.6 704.9,377.5 705.5,377.5 706.1,377.6 706.7,377.6 707.3,377.4 707.9,377.6 708.5,377.6 709.1,377.4 709.7,377.4 710.3,377.3 710.8,377.4 710.9,377.5 710.9,377.4 711.0,377.4 711.0,377.4 711.1,377.2 711.2,377.2 711.3,377.3 711.4,377.4 711.5,377.3 711.5,377.2 711.6,377.2 711.7,377.1 711.8,377.2 711.8,377.2 711.9,377.0 712.0,376.8 712.1,376.7 712.2,376.8 712.3,376.6 712.4,376.4 712.5,376.3 712.5,376.0 712.6,375.6 712.7,375.5 712.7,375.6 712.8,375.3 712.9,374.8 713.0,374.5 713.1,374.1 713.2,373.7 713.2,373.2 713.3,373.2 713.3,372.9 713.4,372.4 713.5,371.9 713.6,371.6 713.7,371.3 713.8,370.8 713.9,370.5 713.9,370.4 714.0,370.1 714.0,369.7 714.1,369.6 714.2,369.6 714.3,369.5 714.4,369.5 714.5,369.5 714.5,369.8 714.6,369.9 714.6,370.0 714.7,370.4 714.8,370.9 714.9,371.1 715.0,371.6 715.1,371.9 715.1,372.2 715.2,372.6 715.3,373.0 715.4,373.3 715.4,373.7 715.5,374.1 715.6,374.5 715.7,375.0 715.7,375.0 715.8,375.4 715.9,375.6 716.0,375.8 716.1,376.0 716.1,376.3 716.2,376.4 716.3,376.6 716.3,376.6 716.4,376.6 716.5,376.8 716.6,377.0 716.7,376.9 716.8,377.0 716.9,377.0 716.9,377.0 716.9,377.3 717.0,377.4 717.1,377.4 717.2,377.3 717.3,377.4 717.4,377.4 717.5,377.3 717.5,377.4 717.6,377.3 717.6,377.3 717.7,377.4 717.8,377.4 718.1,377.5"/>
<polyline fill="none" stroke="#3cb068" stroke-width="1.6" stroke-linejoin="round" points="405.5,427.9 406.1,427.9 406.7,428.1 407.3,428.1 407.9,428.1 408.5,428.1 409.1,427.9 409.7,428.0 410.3,428.1 410.9,428.1 411.5,427.9 412.1,428.0 412.7,428.0 413.3,427.8 413.9,427.9 414.5,428.1 415.1,428.0 415.7,428.0 416.3,428.0 416.9,428.0 417.5,427.9 418.1,427.9 418.7,428.0 419.3,428.1 419.9,428.0 420.5,428.0 421.1,428.1 421.7,428.0 422.2,428.0 422.3,428.1 422.3,427.8 422.4,428.1 422.4,427.9 422.5,428.0 422.6,428.0 422.7,427.8 422.8,427.9 422.8,427.8 422.9,428.0 422.9,427.9 423.0,427.9 423.1,427.8 423.2,428.0 423.2,427.9 423.3,427.8 423.4,427.9 423.5,427.7 423.5,427.9 423.6,427.8 423.6,427.8 423.7,427.8 423.8,427.8 423.9,427.7 424.0,427.6 424.0,427.6 424.1,427.5 424.1,427.4 424.2,427.4 424.3,427.4 424.4,427.4 424.4,427.3 424.5,427.2 424.6,427.0 424.7,426.9 424.7,427.0 424.8,426.9 424.8,426.9 424.9,426.8 425.0,426.6 425.1,426.5 425.2,426.4 425.2,426.6 425.3,426.5 425.3,426.4 425.4,426.3 425.5,426.5 425.6,426.6 425.6,426.5 425.7,426.7 425.8,426.7 425.9,426.8 425.9,426.8 426.0,426.7 426.0,426.9 426.1,427.0 426.2,427.2 426.3,427.1 426.4,427.1 426.4,427.4 426.5,427.4 426.5,427.3 426.6,427.4 426.7,427.4 426.8,427.4 426.8,427.7 426.9,427.6 427.0,427.8 427.1,427.6 427.1,427.7 427.2,427.7 427.2,427.9 427.3,427.8 427.4,427.8 427.5,427.8 427.6,427.8 427.6,427.8 427.7,427.9 427.7,427.8 427.8,427.8 427.9,427.9 428.0,427.9 428.0,428.1 428.1,427.9 428.2,427.9 428.3,428.1 428.3,428.0 428.4,427.9 428.4,427.9 428.5,427.8 428.6,427.8 428.9,427.9 429.5,428.0 430.1,427.8 430.7,427.9 431.3,427.8 431.9,428.0 432.5,427.9 433.1,428.0 433.7,428.0 434.3,427.9 434.9,427.9 435.5,427.8 436.1,427.8 436.7,427.9 437.3,427.9 437.9,427.7 438.5,427.9 439.1,427.8 439.7,427.5 440.3,427.4 440.9,427.2 441.1,426.9 441.2,426.8 441.3,426.9 441.3,426.7 441.4,426.6 441.5,426.6 441.5,426.4 441.5,426.4 441.6,426.2 441.6,426.0 441.7,425.9 441.8,425.7 441.8,425.4 441.9,425.0 442.0,424.7 442.0,424.1 442.1,423.7 442.2,422.8 442.2,421.9 442.3,421.2 442.4,420.1 442.4,418.9 442.5,417.6 442.6,416.0 442.6,414.4 442.7,412.5 442.7,412.0 442.7,410.5 442.8,408.6 442.9,406.1 442.9,403.8 443.0,401.3 443.1,398.9 443.1,396.7 443.2,394.0 443.2,391.7 443.3,389.8 443.3,389.1 443.4,387.4 443.4,385.5 443.5,384.1 443.6,382.9 443.6,382.3 443.7,382.0 443.8,382.2 443.8,383.1 443.9,384.0 443.9,384.2 444.0,385.8 444.0,387.4 444.1,389.1 444.1,391.7 444.2,393.8 444.3,396.5 444.3,398.8 444.4,401.2 444.5,403.9 444.5,405.0 444.5,406.0 444.6,408.7 444.7,410.6 444.7,412.5 444.8,414.6 444.9,416.1 444.9,417.6 445.0,419.1 445.0,420.2 445.1,421.1 445.1,421.1 445.2,422.1 445.2,423.0 445.3,423.4 445.4,424.0 445.4,424.7 445.5,425.0 445.6,425.5 445.6,425.7 445.7,426.0 445.7,426.1 445.8,426.1 445.8,426.4 445.9,426.3 445.9,426.6 446.0,426.5 446.1,426.7 446.1,426.8 446.2,426.8 446.3,427.0 446.3,427.1 446.9,427.2 447.5,427.4 448.1,427.7 448.7,427.7 449.3,427.6 449.9,427.7 450.5,428.0 451.1,427.8 451.7,427.8 452.3,427.9 452.9,428.0 453.5,428.0 454.1,427.9 454.7,428.0 455.3,427.8 455.9,427.8 456.5,427.9 457.1,428.0 457.7,427.8 458.3,427.8 458.9,428.0 459.5,427.8 460.1,427.8 460.7,427.8 461.3,427.8 461.9,427.8 462.5,427.9 463.1,427.9 463.7,427.7 464.3,427.8 464.9,427.7 465.5,427.7 466.1,427.4 466.7,427.4 467.3,426.9 467.4,427.1 467.5,426.8 467.6,426.9 467.6,426.7 467.7,426.7 467.8,426.5 467.8,426.5 467.9,426.4 467.9,426.4 467.9,426.3 468.0,425.9 468.1,425.7 468.1,425.4 468.2,425.0 468.3,424.7 468.3,424.3 468.4,423.5 468.5,423.1 468.5,422.5 468.5,422.2 468.6,421.3 468.7,420.3 468.7,419.1 468.8,417.9 468.9,416.3 468.9,414.6 469.0,412.7 469.0,411.1 469.1,408.9 469.2,406.6 469.2,404.5 469.3,401.7 469.4,399.7 469.4,397.2 469.5,394.8 469.6,392.5 469.6,390.1 469.7,388.3 469.7,387.6 469.7,386.6 469.8,385.1 469.9,384.2 469.9,383.5 470.0,383.2 470.1,383.3 470.1,384.1 470.2,385.1 470.3,386.5 470.3,387.8 470.3,388.1 470.4,390.1 470.4,392.4 470.5,394.6 470.6,397.4 470.6,399.6 470.7,402.0 470.8,404.5 470.8,406.7 470.9,409.2 471.0,410.9 471.0,412.8 471.1,414.7 471.1,416.3 471.2,417.9 471.3,419.3 471.3,420.2 471.4,421.3 471.5,422.3 471.5,422.6 471.5,423.0 471.6,423.6 471.7,424.2 471.7,424.6 471.8,425.1 471.9,425.4 471.9,425.8 472.0,425.8 472.1,426.3 472.1,426.4 472.1,426.2 472.2,426.4 472.2,426.7 472.3,426.8 472.4,426.7 472.4,426.9 472.5,426.9 472.6,426.9 472.7,427.1 473.3,427.3 473.9,427.4 474.5,427.8 475.1,427.8 475.7,427.7 476.3,427.8 476.9,427.9 477.5,427.8 478.1,427.8 478.7,427.9 479.3,428.0 479.9,427.8 480.5,427.9 481.1,427.9 481.7,428.1 482.3,428.1 482.9,427.8 483.5,428.0 484.1,427.8 484.7,427.9 485.3,427.9 485.9,428.0 486.5,428.1 487.1,428.1 487.7,427.9 488.3,428.1 488.9,428.0 489.5,427.8 490.1,428.1 490.7,427.9 491.3,428.1 491.9,427.9 492.5,428.1 493.1,428.0 493.7,428.0 494.3,427.9 494.9,428.0 495.5,428.1 496.1,428.0 496.7,428.1 497.3,428.0 497.9,428.1 498.5,427.9 499.1,428.1 499.7,428.0 500.3,428.1 500.9,427.9 501.5,428.0 502.1,428.1 502.7,427.9 503.3,427.9 503.9,428.1 504.5,428.0 505.1,428.0 505.7,427.8 506.3,428.1 506.9,428.0 507.5,427.9 508.1,428.0 508.7,427.9 509.3,428.1 509.9,428.1 510.5,428.1 511.1,428.0 511.7,427.9 512.3,428.0 512.9,428.1 513.5,427.8 514.1,427.9 514.7,427.9 515.3,427.9 515.9,427.9 516.5,428.0 517.1,427.9 517.7,428.1 518.3,428.0 518.9,427.9 519.5,427.9 520.1,428.0 520.7,427.9 521.3,428.0 521.9,427.9 522.5,427.9 523.1,428.0 523.7,427.9 524.3,428.0 524.9,428.1 525.5,428.0 526.1,427.9 526.7,428.0 527.3,427.9 527.9,427.9 528.5,427.8 529.1,428.0 529.7,427.9 530.3,427.9 530.9,427.9 531.5,428.1 532.1,427.9 532.7,428.0 533.3,428.1 533.9,428.0 534.5,428.0 535.1,427.9 535.7,428.1 536.3,428.0 536.9,427.8 537.5,428.0 538.1,427.9 538.7,428.0 539.3,427.9 539.9,428.0 540.5,428.0 541.1,428.0 541.7,427.9 542.3,427.8 542.9,427.9 543.5,428.0 544.1,427.9 544.7,427.9 545.3,427.9 545.9,427.9 546.5,427.9 547.1,427.8 547.7,427.7 548.3,427.6 548.8,427.1 548.9,427.1 549.0,427.2 549.0,427.1 549.1,427.1 549.2,427.0 549.2,426.8 549.3,426.6 549.4,426.6 549.4,426.3 549.5,426.3 549.5,426.1 549.5,426.0 549.6,425.8 549.7,425.5 549.7,425.1 549.8,424.6 549.9,424.3 549.9,423.6 550.0,423.1 550.1,422.1 550.1,421.6 550.1,421.4 550.2,420.4 550.2,419.1 550.3,417.8 550.4,416.3 550.4,415.1 550.5,413.7 550.6,411.7 550.6,410.0 550.7,408.0 550.8,406.4 550.8,404.7 550.9,402.5 551.0,400.8 551.0,399.0 551.1,397.7 551.1,396.3 551.2,395.4 551.3,394.5 551.3,394.1 551.3,393.9 551.4,393.7 551.5,394.1 551.5,394.3 551.6,395.2 551.7,396.4 551.7,397.5 551.8,399.0 551.9,401.0 551.9,402.4 551.9,402.5 552.0,404.7 552.0,406.4 552.1,408.2 552.2,410.1 552.2,411.7 552.3,413.6 552.4,415.1 552.4,416.5 552.5,418.1 552.5,418.0 552.5,419.2 552.6,420.4 552.7,421.2 552.7,422.2 552.8,422.9 552.9,423.5 552.9,424.2 553.0,424.8 553.1,425.0 553.1,425.4 553.1,425.5 553.2,425.9 553.3,426.0 553.3,426.3 553.4,426.5 553.5,426.7 553.5,426.8 553.6,426.9 553.6,427.0 553.7,427.0 553.8,427.0 553.8,427.1 553.9,427.3 554.0,427.3 554.3,427.3 554.9,427.5 555.5,427.6 556.1,427.9 556.7,427.7 557.3,427.9 557.9,427.8 558.5,427.8 559.1,428.0 559.7,427.8 560.3,428.0 560.9,427.9 561.5,428.0 562.1,427.8 562.7,428.0 563.3,427.9 563.9,428.1 564.5,427.9 565.1,428.0 565.7,427.8 566.3,428.1 566.9,428.0 567.5,428.1 568.1,428.0 568.7,427.8 569.3,428.0 569.9,427.9 570.5,427.9 571.1,428.1 571.7,428.0 572.3,427.9 572.9,427.9 573.5,428.0 574.1,427.8 574.7,427.9 575.3,427.8 575.9,427.9 576.5,428.1 577.1,427.9 577.7,428.1 578.3,427.9 578.9,428.1 579.5,428.1 580.1,428.0 580.7,428.0 581.3,427.9 581.9,428.1 582.5,428.1 583.1,428.0 583.7,427.9 584.3,427.9 584.9,427.9 585.5,428.1 586.1,427.9 586.7,427.9 587.3,428.0 587.9,427.8 588.5,428.1 589.1,428.0 589.7,427.9 590.3,427.8 590.9,428.1 591.5,428.0 592.1,428.0 592.7,427.9 593.3,428.1 593.9,428.0 594.5,427.8 595.1,428.0 595.7,427.9 596.3,427.7 596.9,427.9 597.5,427.8 598.1,427.7 598.5,427.4 598.6,427.4 598.7,427.6 598.7,427.3 598.7,427.3 598.8,427.3 598.9,427.4 599.0,427.2 599.0,427.3 599.1,427.1 599.2,427.1 599.2,427.1 599.3,427.0 599.3,426.7 599.4,426.6 599.5,426.6 599.5,426.2 599.6,426.1 599.7,425.7 599.7,425.4 599.8,424.9 599.9,424.5 599.9,424.3 600.0,423.9 600.0,423.4 600.1,422.8 600.2,421.8 600.2,421.0 600.3,420.2 600.4,419.4 600.5,418.4 600.5,417.9 600.5,417.3 600.6,416.1 600.7,415.1 600.8,413.8 600.8,412.9 600.9,411.8 601.0,410.7 601.0,410.0 601.1,409.1 601.1,409.1 601.2,408.6 601.3,407.9 601.3,407.7 601.4,407.6 601.5,407.5 601.5,407.8 601.6,408.5 601.7,409.2 601.7,409.3 601.8,410.0 601.8,410.8 601.9,411.8 602.0,413.0 602.0,414.0 602.1,415.1 602.2,416.0 602.3,417.1 602.3,417.7 602.3,418.2 602.4,419.3 602.5,420.2 602.5,421.1 602.6,422.0 602.7,422.7 602.8,423.5 602.8,424.1 602.9,424.3 602.9,424.5 603.0,424.8 603.1,425.2 603.1,425.6 603.2,425.9 603.3,426.1 603.3,426.3 603.4,426.8 603.5,426.9 603.5,427.0 603.6,426.8 603.6,426.9 603.7,427.2 603.8,427.2 603.9,427.2 603.9,427.4 604.0,427.4 604.1,427.4 604.1,427.3 604.1,427.3 604.2,427.6 604.3,427.6 604.7,427.5 605.3,427.6 605.9,427.8 606.5,427.8 607.1,427.8 607.7,427.9 608.3,427.8 608.9,427.8 609.5,427.9 610.1,428.0 610.7,427.8 611.3,427.9 611.9,428.0 612.5,427.9 613.1,427.8 613.7,427.9 614.0,427.8 614.1,427.9 614.2,427.6 614.2,427.7 614.3,427.6 614.3,427.8 614.4,427.7 614.5,427.6 614.5,427.6 614.6,427.6 614.7,427.4 614.7,427.3 614.8,427.3 614.9,427.2 614.9,427.1 615.0,427.3 615.0,427.1 615.1,427.0 615.2,426.8 615.2,426.6 615.3,426.3 615.4,426.3 615.5,425.8 615.5,425.7 615.5,425.6 615.6,425.3 615.7,424.9 615.8,424.4 615.8,423.9 615.9,423.5 616.0,422.9 616.0,422.2 616.1,421.8 616.1,421.7 616.2,421.1 616.2,420.7 616.3,420.0 616.4,419.5 616.5,418.9 616.5,418.4 616.6,418.2 616.7,417.8 616.7,417.7 616.8,417.5 616.8,417.2 616.9,417.3 617.0,417.4 617.0,417.6 617.1,417.8 617.2,418.1 617.3,418.4 617.3,418.6 617.3,419.1 617.4,419.3 617.5,420.0 617.5,420.6 617.6,421.3 617.7,421.8 617.8,422.4 617.8,423.1 617.9,423.3 617.9,423.4 618.0,423.8 618.0,424.3 618.1,424.7 618.2,425.4 618.3,425.6 618.3,425.9 618.4,426.0 618.5,426.5 618.5,426.4 618.6,426.7 618.6,426.7 618.7,426.9 618.8,427.0 618.8,427.2 618.9,427.2 619.0,427.4 619.1,427.5 619.1,427.4 619.1,427.4 619.2,427.5 619.3,427.6 619.4,427.6 619.4,427.6 619.5,427.6 619.6,427.6 619.6,427.8 619.7,427.8 619.7,427.8 619.8,427.8 620.3,427.8 620.9,427.8 621.5,428.0 622.1,427.9 622.7,427.9 623.3,427.9 623.9,427.9 624.5,428.1 625.1,427.9 625.7,428.1 626.3,427.9 626.9,428.0 627.5,427.9 628.1,427.9 628.7,427.9 629.3,427.9 629.9,428.0 630.5,428.0 631.1,428.1 631.7,427.9 632.3,428.1 632.9,428.0 633.5,428.1 634.1,428.0 634.7,427.9 635.3,428.1 635.9,428.0 636.5,428.1 637.1,428.0 637.7,428.1 638.3,428.1 638.9,428.1 639.5,428.1 640.1,427.9 640.7,427.9 641.3,428.1 641.9,428.1 642.5,428.1 643.1,428.0 643.7,428.0 644.3,428.1 644.9,427.9 645.5,427.9 646.1,427.9 646.7,427.9 647.3,428.0 647.9,428.0 648.5,428.0 649.1,427.9 649.7,427.9 650.3,428.0 650.9,427.9 651.5,428.0 652.1,428.1 652.7,428.0 653.3,428.1 653.9,428.1 654.5,428.0 655.1,427.8 655.7,427.9 656.3,428.0 656.9,428.1 657.5,427.9 658.1,427.9 658.7,428.1 659.3,428.0 659.9,428.0 660.5,427.9 661.1,428.0 661.7,428.0 662.3,428.0 662.9,428.1 663.5,427.9 664.1,428.1 664.7,427.9 665.3,427.9 665.9,427.9 666.5,428.1 667.1,427.9 667.7,427.8 668.3,427.9 668.9,427.8 669.5,427.8 670.1,427.8 670.7,427.8 670.7,427.8 670.8,427.7 670.9,427.7 670.9,428.0 671.0,427.8 671.1,428.0 671.2,427.8 671.3,427.9 671.4,427.8 671.5,427.7 671.6,427.6 671.6,427.5 671.7,427.7 671.8,427.6 671.9,427.4 671.9,427.4 672.0,427.5 672.1,427.5 672.2,427.1 672.3,427.3 672.4,427.0 672.4,426.7 672.5,426.6 672.5,426.7 672.6,426.6 672.7,426.1 672.8,425.9 672.9,425.6 673.0,425.4 673.1,425.1 673.1,425.0 673.1,424.8 673.2,424.6 673.3,424.1 673.4,423.8 673.5,423.5 673.6,423.1 673.7,422.8 673.7,422.7 673.8,422.5 673.9,422.5 673.9,422.1 674.0,422.1 674.1,422.1 674.2,422.0 674.3,422.0 674.3,422.0 674.4,422.1 674.5,422.2 674.5,422.3 674.6,422.6 674.7,422.8 674.8,423.2 674.9,423.5 675.0,423.7 675.1,424.2 675.2,424.4 675.3,424.9 675.3,425.2 675.4,425.4 675.5,425.7 675.5,425.8 675.6,426.0 675.7,426.1 675.8,426.3 675.9,426.7 676.0,426.8 676.0,426.9 676.1,426.9 676.1,427.0 676.2,427.3 676.3,427.3 676.4,427.5 676.5,427.6 676.6,427.5 676.7,427.5 676.7,427.7 676.8,427.6 676.8,427.7 676.9,427.9 677.0,427.7 677.1,427.7 677.2,427.9 677.3,427.9 677.3,427.9 677.4,427.9 677.5,427.8 677.5,427.7 677.6,427.7 677.7,428.0 677.9,427.9 678.5,428.0 679.1,428.1 679.7,427.9 680.3,428.1 680.9,427.9 681.5,427.9 682.1,427.9 682.7,428.1 683.3,428.1 683.9,427.9 684.5,428.0 685.1,428.1 685.7,428.1 686.3,428.1 686.9,427.9 687.5,427.9 688.1,428.0 688.7,428.1 689.3,428.0 689.9,428.1 690.5,427.9 691.1,428.0 691.7,428.1 692.3,428.0 692.9,428.1 693.5,428.1 694.1,428.0 694.7,428.0 695.3,428.0 695.9,428.0 696.5,428.0 697.1,428.1 697.7,428.1 698.3,428.1 698.9,427.9 699.5,428.0 700.1,428.0 700.7,428.1 701.3,427.9 701.9,428.0 702.5,427.9 703.1,428.1 703.7,428.0 704.3,427.8 704.9,427.9 705.5,427.9 706.1,428.0 706.7,428.1 707.3,427.9 707.9,427.8 708.5,428.0 709.1,428.0 709.7,427.9 710.3,427.8 710.8,427.8 710.9,427.8 710.9,428.0 711.0,427.8 711.0,427.9 711.1,427.9 711.2,427.8 711.3,427.8 711.4,427.9 711.5,427.9 711.5,427.9 711.6,427.7 711.7,427.7 711.8,427.6 711.8,427.6 711.9,427.6 712.0,427.6 712.1,427.6 712.2,427.4 712.3,427.2 712.4,427.2 712.5,427.0 712.5,426.9 712.6,426.8 712.7,426.7 712.7,426.5 712.8,426.4 712.9,426.4 713.0,426.1 713.1,425.8 713.2,425.5 713.2,425.2 713.3,425.2 713.3,424.8 713.4,424.7 713.5,424.5 713.6,424.2 713.7,423.7 713.8,423.5 713.9,423.5 713.9,423.2 714.0,423.2 714.0,423.1 714.1,423.0 714.2,422.8 714.3,422.9 714.4,422.9 714.5,422.9 714.5,422.9 714.6,423.1 714.6,423.3 714.7,423.4 714.8,423.8 714.9,424.0 715.0,424.3 715.1,424.3 715.1,424.5 715.2,424.6 715.3,424.9 715.4,425.2 715.4,425.7 715.5,425.7 715.6,426.0 715.7,426.4 715.7,426.4 715.8,426.5 715.9,426.6 716.0,426.9 716.1,426.8 716.1,427.0 716.2,427.1 716.3,427.3 716.3,427.2 716.4,427.5 716.5,427.5 716.6,427.7 716.7,427.6 716.8,427.6 716.9,427.7 716.9,427.6 716.9,427.7 717.0,427.9 717.1,427.9 717.2,427.9 717.3,427.7 717.4,427.8 717.5,427.9 717.5,427.7 717.6,427.7 717.6,427.8 717.7,427.7 717.8,428.0 718.1,428.0"/>
<polyline fill="none" stroke="#4866d2" stroke-width="1.6" stroke-linejoin="round" points="405.5,525.0 406.1,524.7 406.7,524.9 407.3,525.0 407.9,524.8 408.5,524.8 409.1,525.0 409.7,525.0 410.3,524.8 410.9,524.8 411.5,524.9 412.1,524.8 412.7,524.9 413.3,524.8 413.9,524.8 414.5,524.9 415.1,524.9 415.7,525.0 416.3,524.7 416.9,524.8 417.5,524.7 418.1,524.9 418.7,524.8 419.3,524.8 419.9,525.0 420.5,524.9 421.1,524.9 421.7,524.9 422.3,524.7 422.5,524.9 422.6,525.0 422.7,524.7 422.7,524.9 422.8,524.8 422.9,524.7 423.0,524.8 423.1,524.9 423.1,524.7 423.2,524.7 423.3,524.8 423.4,524.7 423.5,524.7 423.5,524.9 423.5,524.6 423.6,524.7 423.7,524.6 423.8,524.6 423.9,524.7 423.9,524.7 424.0,524.6 424.1,524.5 424.2,524.5 424.3,524.5 424.3,524.5 424.4,524.2 424.5,524.1 424.6,524.3 424.7,524.1 424.7,524.1 424.7,523.9 424.8,524.0 424.9,523.7 425.0,523.6 425.1,523.5 425.1,523.5 425.2,523.4 425.3,523.4 425.4,523.4 425.5,523.2 425.5,523.2 425.6,523.1 425.7,523.1 425.8,523.1 425.9,523.0 425.9,523.1 425.9,523.3 426.0,523.4 426.1,523.4 426.2,523.4 426.3,523.5 426.3,523.5 426.4,523.6 426.5,523.9 426.6,523.9 426.7,523.9 426.7,524.0 426.8,524.1 426.9,524.1 427.0,524.2 427.1,524.3 427.1,524.5 427.1,524.5 427.2,524.4 427.3,524.5 427.4,524.5 427.5,524.7 427.5,524.5 427.6,524.6 427.7,524.5 427.8,524.7 427.9,524.7 427.9,524.6 428.0,524.6 428.1,524.7 428.2,524.7 428.3,524.7 428.3,524.6 428.3,524.7 428.4,524.7 428.5,524.7 428.6,524.8 428.7,524.7 428.7,524.8 428.8,524.8 428.9,524.6 429.5,524.8 430.1,524.8 430.7,524.9 431.3,524.8 431.9,524.9 432.5,524.8 433.1,524.7 433.7,524.8 434.3,524.8 434.9,524.7 435.5,524.8 436.1,524.5 436.7,524.7 437.3,524.5 437.9,524.5 438.5,524.5 439.1,524.2 439.7,524.1 440.3,523.7 440.9,523.3 441.4,522.9 441.5,522.5 441.6,522.4 441.6,522.2 441.7,522.2 441.8,521.9 441.8,521.8 441.9,521.3 441.9,521.0 442.0,520.5 442.1,520.1 442.1,520.0 442.1,519.6 442.2,518.8 442.3,517.9 442.3,517.0 442.4,515.6 442.5,514.3 442.5,512.7 442.6,511.1 442.7,508.7 442.7,507.0 442.7,506.4 442.8,503.7 442.9,500.3 442.9,497.1 443.0,493.0 443.0,489.3 443.1,485.2 443.2,479.9 443.2,475.5 443.3,469.9 443.4,465.2 443.4,460.2 443.5,454.8 443.6,450.1 443.6,445.3 443.7,441.3 443.7,437.8 443.8,434.7 443.9,432.4 443.9,431.8 443.9,431.0 444.0,430.4 444.1,431.0 444.1,432.4 444.2,434.7 444.3,437.7 444.3,441.3 444.4,445.2 444.4,450.1 444.5,454.1 444.5,454.8 444.6,460.3 444.6,465.0 444.7,469.8 444.8,475.4 444.8,479.8 444.9,485.0 445.0,489.1 445.0,492.9 445.1,497.2 445.1,497.5 445.1,500.2 445.2,503.7 445.3,506.3 445.3,508.5 445.4,510.8 445.5,512.6 445.5,514.4 445.6,515.7 445.7,516.9 445.7,517.4 445.7,517.9 445.8,518.8 445.9,519.4 445.9,519.9 446.0,520.7 446.1,521.1 446.1,521.3 446.2,521.6 446.2,521.9 446.3,522.0 446.4,522.4 446.4,522.6 446.5,522.7 446.6,522.7 446.9,523.3 447.5,523.8 448.1,523.9 448.7,524.3 449.3,524.2 449.9,524.6 450.5,524.6 451.1,524.5 451.7,524.7 452.3,524.6 452.9,524.5 453.5,524.7 454.1,524.6 454.7,524.7 455.3,524.8 455.9,524.7 456.5,524.7 457.1,524.6 457.7,524.7 458.3,524.7 458.9,524.8 459.5,524.6 460.1,524.7 460.7,524.7 461.3,524.6 461.9,524.5 462.5,524.6 463.1,524.6 463.7,524.4 464.3,524.4 464.9,524.3 465.5,524.3 466.1,524.0 466.7,523.6 467.3,522.9 467.3,522.9 467.4,522.8 467.5,522.6 467.5,522.6 467.6,522.4 467.7,522.2 467.7,522.1 467.8,521.7 467.9,521.3 467.9,521.0 467.9,521.0 468.0,520.6 468.0,520.1 468.1,519.3 468.2,518.6 468.2,517.8 468.3,516.7 468.4,515.5 468.4,513.9 468.5,512.4 468.5,512.1 468.6,510.1 468.6,508.3 468.7,506.0 468.8,503.0 468.8,500.1 468.9,496.4 468.9,492.9 469.0,489.2 469.1,484.8 469.1,482.6 469.1,480.6 469.2,475.6 469.3,471.4 469.3,467.1 469.4,462.2 469.4,457.9 469.5,453.4 469.6,450.1 469.6,446.8 469.7,444.5 469.7,444.2 469.8,442.2 469.8,440.8 469.9,440.5 470.0,440.9 470.0,442.1 470.1,444.1 470.2,447.0 470.2,450.2 470.3,453.6 470.3,454.8 470.4,458.0 470.4,462.2 470.5,467.1 470.5,471.4 470.6,475.6 470.7,480.5 470.7,484.7 470.8,489.2 470.9,493.0 470.9,495.1 470.9,496.4 471.0,500.0 471.1,502.8 471.1,505.9 471.2,508.2 471.2,510.4 471.3,512.4 471.4,513.8 471.4,515.5 471.5,516.6 471.6,517.7 471.6,518.7 471.7,519.3 471.8,520.1 471.8,520.6 471.9,521.1 471.9,521.5 472.0,521.6 472.1,522.1 472.1,521.9 472.1,522.1 472.2,522.3 472.3,522.7 472.3,522.7 472.4,522.9 472.5,523.1 472.7,523.2 473.3,523.9 473.9,523.9 474.5,524.3 475.1,524.5 475.7,524.5 476.3,524.7 476.9,524.7 477.5,524.7 478.1,524.6 478.7,524.6 479.3,524.6 479.9,524.8 480.5,524.8 481.1,524.7 481.7,524.8 482.3,524.7 482.9,524.7 483.5,524.9 484.1,524.7 484.7,524.8 485.3,524.7 485.9,525.0 486.5,524.8 487.1,525.0 487.7,525.0 488.3,525.0 488.9,524.8 489.5,524.9 490.1,524.7 490.7,525.0 491.3,524.9 491.9,524.7 492.5,524.8 493.1,524.7 493.7,524.8 494.3,525.0 494.9,525.0 495.5,524.8 496.1,525.0 496.7,524.7 497.3,524.9 497.9,524.8 498.5,524.7 499.1,525.0 499.7,524.9 500.3,525.0 500.9,524.9 501.5,524.9 502.1,524.8 502.7,524.9 503.3,525.0 503.9,524.9 504.5,524.9 505.1,524.9 505.7,524.8 506.3,524.7 506.9,524.8 507.5,524.8 508.1,524.8 508.7,524.7 509.3,525.0 509.9,525.0 510.5,524.9 511.1,525.0 511.7,524.8 512.3,525.0 512.9,524.8 513.5,525.0 514.1,524.8 514.7,524.8 515.3,524.9 515.9,524.8 516.5,524.8 517.1,525.0 517.7,525.0 518.3,525.0 518.9,524.9 519.5,524.8 520.1,524.9 520.7,524.9 521.3,524.9 521.9,525.0 522.5,524.9 523.1,525.0 523.7,524.9 524.3,524.9 524.9,524.7 525.5,524.8 526.1,524.9 526.7,524.7 527.3,524.9 527.9,524.8 528.5,524.8 529.1,525.0 529.7,525.0 530.3,524.8 530.9,524.9 531.5,524.9 532.1,524.7 532.7,524.8 533.3,524.9 533.9,524.8 534.5,524.9 535.1,524.7 535.7,524.9 536.3,524.9 536.9,524.8 537.5,524.9 538.1,525.0 538.7,525.0 539.3,524.9 539.9,524.8 540.5,524.9 541.1,524.8 541.7,524.9 542.3,524.8 542.9,524.8 543.5,524.8 544.1,524.8 544.7,524.7 545.3,524.6 545.9,524.6 546.5,524.6 547.1,524.5 547.7,524.3 548.3,524.1 548.9,523.8 549.1,523.7 549.2,523.7 549.3,523.4 549.3,523.4 549.4,523.3 549.5,523.2 549.5,523.1 549.5,523.0 549.6,522.7 549.6,522.6 549.7,522.4 549.8,522.1 549.8,521.9 549.9,521.4 550.0,520.9 550.0,520.2 550.1,519.6 550.2,518.7 550.2,517.9 550.3,516.7 550.4,515.3 550.4,514.1 550.5,512.5 550.5,510.7 550.6,508.5 550.7,506.1 550.7,505.5 550.7,503.9 550.8,501.5 550.9,498.8 550.9,496.0 551.0,492.7 551.1,489.9 551.1,487.0 551.2,483.8 551.2,481.1 551.3,479.2 551.3,478.3 551.4,475.9 551.4,473.8 551.5,472.2 551.6,470.9 551.6,469.8 551.7,469.8 551.8,469.9 551.8,470.9 551.9,472.0 551.9,472.2 552.0,473.8 552.0,476.0 552.1,478.1 552.1,481.3 552.2,483.8 552.3,487.2 552.3,489.9 552.4,492.8 552.5,496.0 552.5,497.4 552.5,498.6 552.6,501.5 552.7,503.9 552.7,506.1 552.8,508.5 552.9,510.4 552.9,512.4 553.0,514.1 553.0,515.2 553.1,516.5 553.1,516.7 553.2,517.7 553.2,518.8 553.3,519.5 553.4,520.3 553.4,520.7 553.5,521.4 553.6,521.7 553.6,522.0 553.7,522.3 553.7,522.4 553.8,522.5 553.8,522.8 553.9,523.2 553.9,523.1 554.0,523.2 554.1,523.5 554.1,523.3 554.2,523.4 554.3,523.7 554.3,523.6 554.9,524.0 555.5,524.2 556.1,524.5 556.7,524.7 557.3,524.6 557.9,524.7 558.5,524.7 559.1,524.6 559.7,524.7 560.3,524.7 560.9,524.7 561.5,524.9 562.1,524.7 562.7,524.8 563.3,524.9 563.9,524.7 564.5,525.0 565.1,524.9 565.7,524.9 566.3,524.8 566.9,524.8 567.5,525.0 568.1,525.0 568.7,524.7 569.3,525.0 569.9,524.8 570.5,524.7 571.1,524.9 571.7,524.7 572.3,525.0 572.9,525.0 573.5,524.8 574.1,524.8 574.7,524.9 575.3,524.9 575.9,524.7 576.5,524.9 577.1,524.8 577.7,524.8 578.3,524.8 578.9,524.7 579.5,524.9 580.1,524.8 580.7,525.0 581.3,525.0 581.9,524.9 582.5,524.9 583.1,524.9 583.7,524.8 584.3,524.9 584.9,524.9 585.5,524.8 586.1,524.8 586.7,525.0 587.3,525.0 587.9,524.9 588.5,525.0 589.1,524.8 589.7,524.7 590.3,524.8 590.9,524.8 591.5,524.9 592.1,524.9 592.7,524.9 593.3,524.9 593.9,524.7 594.5,524.6 595.1,524.7 595.7,524.6 596.3,524.8 596.9,524.7 597.5,524.5 598.1,524.4 598.4,524.3 598.5,524.2 598.6,524.1 598.6,524.2 598.7,524.1 598.7,524.0 598.8,524.1 598.9,523.8 598.9,523.9 599.0,523.7 599.1,523.5 599.1,523.3 599.2,523.2 599.3,523.1 599.3,522.8 599.4,522.8 599.4,522.5 599.5,521.9 599.6,521.6 599.6,521.1 599.7,520.4 599.8,519.7 599.9,519.0 599.9,518.7 599.9,518.3 600.0,517.4 600.1,516.0 600.1,514.9 600.2,513.5 600.3,512.3 600.4,510.9 600.4,509.3 600.5,507.7 600.5,507.7 600.6,505.9 600.6,504.6 600.7,502.8 600.8,501.3 600.9,499.9 600.9,498.5 601.0,497.4 601.1,496.5 601.1,496.2 601.2,495.7 601.2,495.2 601.3,495.2 601.4,495.5 601.4,495.7 601.5,496.5 601.6,497.4 601.7,498.4 601.7,499.3 601.7,499.9 601.8,501.1 601.9,502.9 602.0,504.4 602.0,506.1 602.1,507.5 602.2,509.3 602.2,510.7 602.3,512.2 602.3,512.2 602.4,513.6 602.5,514.9 602.5,516.2 602.6,517.3 602.7,518.1 602.7,519.1 602.8,519.7 602.9,520.3 602.9,520.6 603.0,521.2 603.0,521.4 603.1,522.1 603.2,522.4 603.2,522.8 603.3,523.0 603.4,523.1 603.5,523.5 603.5,523.3 603.5,523.6 603.6,523.6 603.7,523.6 603.8,523.8 603.8,524.0 603.9,523.9 604.0,524.2 604.0,524.0 604.1,524.3 604.1,524.0 604.2,524.2 604.7,524.4 605.3,524.5 605.9,524.7 606.5,524.6 607.1,524.8 607.7,524.7 608.3,524.8 608.9,524.7 609.5,524.9 610.1,524.8 610.7,524.7 611.3,524.7 611.9,524.8 612.5,524.7 613.1,524.8 613.7,524.7 614.3,524.6 614.3,524.6 614.4,524.4 614.5,524.6 614.5,524.5 614.6,524.3 614.7,524.2 614.8,524.2 614.8,524.2 614.9,524.3 615.0,524.2 615.0,524.1 615.1,523.9 615.2,524.0 615.3,523.6 615.3,523.5 615.4,523.3 615.5,523.1 615.5,523.1 615.5,523.0 615.6,522.6 615.7,522.1 615.8,521.8 615.8,521.3 615.9,520.9 616.0,520.3 616.0,519.5 616.1,519.3 616.1,519.1 616.2,518.4 616.3,517.4 616.3,516.6 616.4,515.9 616.5,515.1 616.5,514.3 616.6,513.5 616.7,512.5 616.8,511.7 616.8,511.1 616.9,510.5 617.0,510.0 617.1,509.7 617.1,509.4 617.2,509.4 617.3,509.5 617.3,509.4 617.3,509.7 617.4,510.2 617.5,510.6 617.6,511.2 617.6,511.8 617.7,512.7 617.8,513.3 617.9,514.2 617.9,514.7 617.9,515.1 618.0,515.8 618.1,516.7 618.1,517.6 618.2,518.2 618.3,519.0 618.4,519.6 618.4,520.2 618.5,520.9 618.6,521.4 618.6,521.7 618.7,522.3 618.8,522.4 618.9,522.8 618.9,523.3 619.0,523.5 619.1,523.7 619.1,523.8 619.1,523.8 619.2,523.9 619.3,524.0 619.4,524.1 619.4,524.3 619.5,524.4 619.6,524.3 619.6,524.3 619.7,524.4 619.7,524.4 619.8,524.5 619.9,524.6 619.9,524.5 620.0,524.4 620.1,524.5 620.3,524.5 620.9,524.7 621.5,524.8 622.1,524.8 622.7,524.8 623.3,524.7 623.9,524.9 624.5,524.9 625.1,524.8 625.7,524.7 626.3,524.9 626.9,524.8 627.5,524.8 628.1,524.8 628.7,524.8 629.3,524.8 629.9,524.9 630.5,524.9 631.1,524.9 631.7,525.0 632.3,524.9 632.9,524.8 633.5,524.8 634.1,524.9 634.7,524.9 635.3,524.9 635.9,525.0 636.5,524.8 637.1,525.0 637.7,524.9 638.3,524.8 638.9,524.8 639.5,524.9 640.1,525.0 640.7,525.0 641.3,525.0 641.9,525.0 642.5,524.9 643.1,524.8 643.7,524.8 644.3,525.0 644.9,524.8 645.5,524.9 646.1,524.9 646.7,524.7 647.3,524.8 647.9,524.8 648.5,525.0 649.1,525.0 649.7,524.8 650.3,524.8 650.9,525.0 651.5,524.8 652.1,525.0 652.7,524.9 653.3,525.0 653.9,525.0 654.5,524.8 655.1,525.0 655.7,525.0 656.3,524.8 656.9,525.0 657.5,524.8 658.1,524.9 658.7,524.9 659.3,524.9 659.9,524.9 660.5,524.8 661.1,525.0 661.7,524.9 662.3,524.8 662.9,524.9 663.5,524.8 664.1,524.9 664.7,524.9 665.3,524.9 665.9,524.8 666.5,524.8 667.1,525.0 667.7,524.9 668.3,524.7 668.9,524.9 669.5,524.7 670.1,524.7 670.7,524.8 670.8,524.6 670.9,524.6 671.0,524.8 671.0,524.9 671.1,524.6 671.2,524.8 671.3,524.6 671.3,524.5 671.4,524.5 671.5,524.5 671.6,524.7 671.7,524.7 671.8,524.4 671.8,524.4 671.9,524.3 671.9,524.4 672.0,524.3 672.1,524.2 672.2,524.3 672.3,523.9 672.4,524.0 672.5,523.7 672.5,523.8 672.5,523.5 672.6,523.3 672.7,523.4 672.8,522.9 672.9,522.7 673.0,522.5 673.1,522.3 673.1,522.1 673.2,521.7 673.2,521.6 673.3,521.3 673.4,520.9 673.5,520.4 673.6,520.2 673.7,519.7 673.7,519.8 673.8,519.5 673.9,519.3 674.0,519.1 674.0,518.7 674.1,518.6 674.2,518.6 674.3,518.5 674.4,518.4 674.5,518.8 674.6,518.7 674.6,518.9 674.7,519.1 674.8,519.4 674.9,519.9 674.9,519.7 675.0,520.2 675.1,520.6 675.2,520.9 675.3,521.2 675.4,521.5 675.4,521.9 675.5,522.2 675.5,522.1 675.6,522.4 675.7,522.7 675.8,523.0 675.9,523.3 676.0,523.5 676.1,523.6 676.1,523.8 676.1,523.7 676.2,523.8 676.3,523.9 676.4,524.2 676.5,524.3 676.6,524.3 676.7,524.4 676.7,524.3 676.8,524.4 676.9,524.6 676.9,524.5 677.0,524.6 677.1,524.8 677.2,524.6 677.3,524.7 677.3,524.5 677.4,524.7 677.5,524.6 677.6,524.6 677.6,524.6 677.7,524.7 677.8,524.6 677.9,524.9 678.5,524.7 679.1,524.8 679.7,524.7 680.3,524.8 680.9,524.9 681.5,524.9 682.1,525.0 682.7,524.9 683.3,524.9 683.9,524.9 684.5,525.0 685.1,524.9 685.7,524.8 686.3,524.8 686.9,525.0 687.5,524.8 688.1,524.8 688.7,524.9 689.3,524.9 689.9,524.9 690.5,524.9 691.1,524.9 691.7,524.9 692.3,524.7 692.9,524.9 693.5,525.0 694.1,524.9 694.7,524.8 695.3,524.9 695.9,525.0 696.5,524.9 697.1,524.9 697.7,525.0 698.3,525.0 698.9,524.8 699.5,524.9 700.1,524.8 700.7,524.8 701.3,525.0 701.9,524.8 702.5,525.0 703.1,524.9 703.7,525.0 704.3,524.8 704.9,524.8 705.5,524.7 706.1,525.0 706.7,525.0 707.3,524.8 707.9,524.8 708.5,525.0 709.1,524.8 709.7,524.7 710.3,524.6 710.5,524.9 710.6,524.8 710.7,524.7 710.7,524.8 710.8,524.8 710.9,524.7 710.9,524.6 711.0,524.7 711.1,524.7 711.2,524.6 711.3,524.5 711.4,524.6 711.5,524.4 711.5,524.4 711.5,524.5 711.6,524.5 711.7,524.2 711.8,524.2 711.9,524.1 712.0,523.8 712.1,523.7 712.1,523.7 712.1,523.7 712.2,523.4 712.3,523.2 712.4,523.1 712.5,522.9 712.6,522.6 712.7,522.3 712.7,522.0 712.8,521.8 712.9,521.5 712.9,521.1 713.0,520.8 713.1,520.3 713.2,519.9 713.3,519.6 713.4,519.3 713.5,518.9 713.6,518.6 713.6,518.4 713.7,517.9 713.8,517.9 713.9,517.8 713.9,517.8 714.0,517.5 714.1,517.7 714.2,517.9 714.3,517.9 714.4,518.2 714.4,518.7 714.5,518.7 714.5,518.9 714.6,519.2 714.7,519.6 714.8,519.9 714.9,520.5 715.0,520.8 715.1,521.1 715.1,521.3 715.1,521.4 715.2,521.7 715.3,522.2 715.4,522.4 715.5,522.7 715.6,523.1 715.7,523.4 715.7,523.2 715.8,523.4 715.9,523.6 715.9,523.8 716.0,523.9 716.1,524.2 716.2,524.1 716.3,524.3 716.3,524.2 716.4,524.4 716.5,524.3 716.5,524.5 716.6,524.6 716.7,524.4 716.8,524.5 716.9,524.5 717.0,524.8 717.1,524.7 717.2,524.6 717.3,524.8 717.3,524.6 717.4,524.7 717.5,524.8 717.5,524.8 718.1,524.6"/>
<polygon points="444.50,304.40 440.65,311.10 448.35,311.10" fill="#fcbc00"/>
<polygon points="469.70,306.00 466.02,312.40 473.38,312.40" fill="#fcbc00"/>
<polygon points="551.90,326.10 548.34,332.30 555.46,332.30" fill="#fcbc00"/>
<polygon points="599.80,348.00 596.12,354.40 603.48,354.40" fill="#fcbc00"/>
<polygon points="618.50,348.00 614.82,354.40 622.18,354.40" fill="#fcbc00"/>
<polygon points="674.50,362.10 670.82,368.50 678.18,368.50" fill="#fcbc00"/>
<polygon points="714.30,358.90 710.62,365.30 717.98,365.30" fill="#fcbc00"/>
<polygon points="684.50,313.80 681.05,319.80 687.95,319.80" fill="#fcbc00"/>
<text x="0" y="0" font-family="Liberation Serif" font-size="11.4" font-weight="bold" fill="#111" text-anchor="end" transform="translate(711.5 321.4) scale(1.0 1.06)">PbS</text>
<text x="0" y="0" font-family="Liberation Serif" font-size="11.8" font-weight="bold" fill="#ff3333" text-anchor="end" transform="translate(701.6 353) scale(1.0 1.13)">5hr 650°C</text>
<text x="0" y="0" font-family="Liberation Serif" font-size="11.8" font-weight="bold" fill="#2fae5a" text-anchor="end" transform="translate(702.4 413.7) scale(1.0 1.13)">5hr 550°C</text>
<text x="0" y="0" font-family="Liberation Serif" font-size="11.8" font-weight="bold" fill="#3a5fd0" text-anchor="end" transform="translate(702.3 510.1) scale(1.0 1.13)">5hr 500°C</text>
<text x="378.9" y="312.1" font-family="Liberation Serif" font-size="14" font-weight="normal" fill="#222" text-anchor="start" stroke="#222" stroke-width="0.35">(d)</text>
<text x="392.2" y="420.3" font-family="Liberation Serif" font-size="14" font-weight="normal" fill="#222" text-anchor="middle" stroke="#222" stroke-width="0.2" transform="rotate(-90 392.2 420.3)">Intensity (a.u.)</text>
<text x="562.3" y="561.4" font-family="Liberation Serif" font-size="14" font-weight="normal" fill="#222" text-anchor="middle" stroke="#222" stroke-width="0.12">2θ (degree)</text>
</svg>
</body></html>
